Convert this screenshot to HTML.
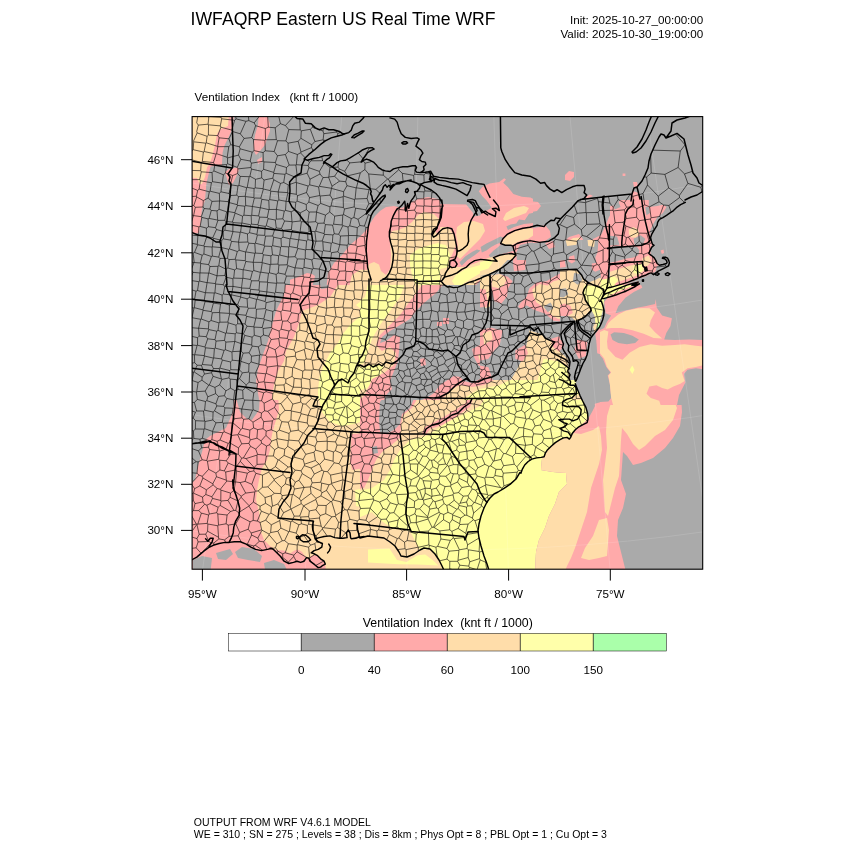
<!DOCTYPE html>
<html><head><meta charset="utf-8">
<style>
html,body{margin:0;padding:0;background:#fff;}
body{width:850px;height:850px;overflow:hidden;position:relative;}
svg{position:absolute;left:0;top:0;}
text{font-family:"Liberation Sans",sans-serif;fill:#000;}
</style></head><body>
<svg width="850" height="850" viewBox="0 0 850 850">
<rect width="850" height="850" fill="#fff"/>
<text id="t1" x="190.6" y="25.4" font-size="17.62">IWFAQRP Eastern US Real Time WRF</text>
<text id="t2" x="703.3" y="24.4" font-size="11.65" text-anchor="end">Init: 2025-10-27_00:00:00</text>
<text id="t3" x="703.3" y="37.7" font-size="11.65" text-anchor="end">Valid: 2025-10-30_19:00:00</text>
<text id="t4" x="194.6" y="100.7" font-size="11.63" xml:space="preserve">Ventilation Index   (knt ft / 1000)</text>
<!--MAP-->
<defs><clipPath id="mapclip"><rect x="192.1" y="116.6" width="510.6" height="452.6"/></clipPath>
<clipPath id="tc0"><rect x="190" y="115" width="170" height="170"/></clipPath>
<clipPath id="tc1"><rect x="290" y="115" width="170" height="170"/></clipPath>
<clipPath id="tc2"><rect x="440" y="115" width="170" height="170"/></clipPath>
<clipPath id="tc3"><rect x="533" y="115" width="170" height="170"/></clipPath>
<clipPath id="tc4"><rect x="190" y="285" width="170" height="170"/></clipPath>
<clipPath id="tc5"><rect x="360" y="285" width="173" height="170"/></clipPath>
<clipPath id="tc6"><rect x="533" y="285" width="170" height="170"/></clipPath>
<clipPath id="tc7"><rect x="190" y="400" width="170" height="170"/></clipPath>
<clipPath id="tc8"><rect x="360" y="400" width="173" height="170"/></clipPath>
<clipPath id="tc9"><rect x="533" y="400" width="170" height="170"/></clipPath>
<clipPath id="tc10"><rect x="480" y="260" width="120.001" height="120.001"/></clipPath>
<clipPath id="tc11"><rect x="560" y="240" width="100" height="100"/></clipPath>
<clipPath id="tc12"><rect x="610" y="200" width="93.2" height="100"/></clipPath>
<clipPath id="tc13"><rect x="600" y="285" width="104" height="120"/></clipPath>
</defs>
<g clip-path="url(#mapclip)">
<rect x="192.1" y="116.6" width="510.6" height="452.6" fill="#aaaaaa"/>
<g clip-path="url(#tc0)">
<rect x="190" y="115" width="170" height="170" fill="#aaaaaa"/>
<polygon fill="#ffaaaa" points="184.0,109.0 233.8,116.6 232.4,128.4 228.8,136.8 224.6,145.2 222.6,152.4 222.0,165.0 210.6,166.4 209.2,172.0 206.4,183.4 205.0,200.4 202.0,208.8 200.6,223.0 199.0,233.0 184.0,235.0"/>
<polygon fill="#ffddaa" points="184.0,109.0 229.4,109.0 228.0,126.0 220.0,129.4 217.0,134.0 215.0,145.0 212.0,157.0 210.0,163.0 207.0,167.4 205.0,177.0 202.0,184.0 199.6,184.0 197.0,178.0 184.0,177.4"/>
<polygon fill="#ffaaaa" points="225.0,172.0 229.0,169.0 238.0,167.4 239.0,170.0 236.0,177.0 233.0,183.0 229.0,185.0 227.0,179.0"/>
<polygon fill="#ffaaaa" points="259.0,109.0 265.0,109.0 270.0,124.0 270.0,131.0 267.0,139.0 265.0,145.0 260.0,151.0 256.0,155.0 254.0,151.0 253.6,145.0 255.0,135.0 258.0,125.0"/>
<polygon fill="#ffaaaa" points="257.0,160.0 262.0,157.0 262.0,162.0 258.0,164.0"/>
<polygon fill="#ffaaaa" points="366.0,236.6 350.0,245.0 342.0,255.0 334.0,263.0 328.0,273.0 326.0,291.0 366.0,291.0"/>
<polygon fill="#ffddaa" points="366.0,269.0 352.0,275.0 348.0,291.0 366.0,291.0"/>
<polygon fill="#ffaaaa" points="292.0,291.0 296.0,281.0 302.0,275.0 310.0,273.0 315.0,275.0 314.0,281.0 310.0,291.0"/>
</g>
<g clip-path="url(#tc1)">
<rect x="290" y="115" width="170" height="170" fill="#aaaaaa"/>
<polygon fill="#ffaaaa" points="284.0,282.0 298.0,277.0 307.0,273.0 312.0,274.0 315.0,276.0 314.0,281.0 310.0,291.0 284.0,291.0"/>
<polygon fill="#ffaaaa" points="326.0,291.0 328.0,273.0 334.0,263.0 342.0,255.0 350.0,245.0 360.0,236.6 367.0,229.0 371.0,222.0 375.0,216.0 380.0,211.0 386.0,207.0 394.0,206.0 402.0,208.0 410.0,203.0 418.0,199.0 428.0,197.0 438.0,199.0 443.0,204.0 450.0,206.0 466.0,205.0 466.0,291.0"/>
<polygon fill="#ffddaa" points="348.0,291.0 352.0,275.0 360.0,269.4 367.0,270.0 369.0,264.0 374.0,262.0 379.0,264.6 381.0,271.0 386.0,275.0 390.0,269.0 391.0,255.0 390.0,243.0 390.0,235.0 392.0,231.0 398.0,230.0 406.0,227.0 412.0,222.0 418.0,215.0 424.0,212.0 434.0,214.0 439.0,219.0 438.0,227.0 435.0,231.0 438.0,235.0 444.0,229.0 450.0,228.0 454.4,233.0 456.0,243.0 457.0,251.0 466.0,253.0 466.0,291.0"/>
<polygon fill="#ffffa0" points="410.0,255.0 418.0,249.0 430.0,245.0 438.0,243.0 444.0,245.0 448.0,253.0 450.0,259.0 448.0,267.0 442.0,273.0 446.0,279.0 450.0,291.0 418.0,291.0 412.0,275.0 410.0,265.0"/>
</g>
<g clip-path="url(#tc2)">
<rect x="440" y="115" width="170" height="170" fill="#aaaaaa"/>
<polygon fill="#ffaaaa" points="434.0,204.0 466.2,204.6 472.8,212.4 473.8,216.4 480.2,215.4 482.4,211.2 487.2,210.6 491.6,207.4 486.6,200.4 482.4,196.2 478.8,191.2 482.4,187.0 489.4,183.4 499.2,182.0 504.2,178.2 506.0,179.6 503.2,182.8 507.8,187.0 513.4,194.0 521.8,196.8 530.4,197.6 537.4,201.0 541.4,204.6 538.8,209.6 534.6,212.4 529.0,213.8 526.2,218.0 524.8,220.2 519.0,219.4 516.2,223.6 510.6,224.4 506.4,226.4 508.0,230.0 514.0,227.0 524.0,224.0 534.0,223.0 544.0,221.0 552.0,224.0 555.0,230.0 552.0,236.0 544.0,240.0 536.0,242.0 528.0,243.0 520.0,245.0 516.0,253.0 517.0,261.0 520.0,269.0 506.0,271.0 500.0,273.0 488.0,275.0 480.0,281.0 470.0,291.0 434.0,291.0"/>
<polygon fill="#aaaaaa" points="480.6,247.0 486.4,243.6 493.6,240.0 500.6,236.4 503.0,237.6 500.6,242.4 495.8,244.6 491.2,247.0 486.4,250.6 481.8,252.4"/>
<polygon fill="#aaaaaa" points="459.4,262.4 465.2,256.4 472.4,251.8 477.0,249.4 480.6,250.6 474.6,255.2 467.6,260.0 461.8,265.8"/>
<polygon fill="#aaaaaa" points="500.6,244.6 512.4,246.4 514.0,250.6 506.4,253.0 499.4,254.6 493.6,256.4 491.2,258.8 488.8,255.2 493.6,250.6 498.2,247.0"/>
<polygon fill="#ffddaa" points="457.0,227.0 464.0,222.0 474.0,221.0 483.0,224.0 485.0,231.0 480.0,239.0 474.0,245.0 466.0,253.0 460.0,259.0 456.0,255.0 458.0,245.0 456.0,235.0"/>
<polygon fill="#ffddaa" points="503.0,219.0 506.0,213.0 514.0,208.0 524.0,206.0 529.0,208.0 526.0,213.0 518.0,216.0 510.0,219.0 505.0,221.0"/>
<polygon fill="#ffddaa" points="501.0,243.0 506.0,236.0 516.0,231.0 528.0,228.0 536.0,229.0 534.0,235.0 528.0,239.0 520.0,241.0 512.0,245.0 504.0,245.0"/>
<polygon fill="#ffddaa" points="434.0,227.0 448.0,227.0 454.0,235.0 456.0,245.0 452.0,255.0 448.0,263.0 452.0,267.0 464.0,267.0 476.0,263.0 488.0,258.0 500.0,255.0 517.0,253.0 514.0,259.0 506.0,265.0 496.0,271.0 486.0,275.0 478.0,281.0 468.0,291.0 434.0,291.0"/>
<polygon fill="#ffffa0" points="456.0,275.0 466.0,269.0 480.0,265.0 492.0,261.0 500.0,259.0 494.0,265.0 484.0,271.0 474.0,277.0 464.0,283.0 458.0,291.0 452.0,281.0"/>
<polygon fill="#ffffa0" points="434.0,243.0 446.0,245.0 450.0,255.0 448.0,267.0 434.0,271.0"/>
<polygon fill="#ffaaaa" points="564.0,171.0 569.0,170.0 574.0,173.0 573.0,179.0 568.0,181.0 564.0,179.0"/>
</g>
<g clip-path="url(#tc3)">
<rect x="533" y="115" width="170" height="170" fill="#aaaaaa"/>
<polygon fill="#ffaaaa" points="565.0,175.0 569.0,171.0 574.0,172.0 574.0,177.0 570.0,181.0 565.0,180.0"/>
<polygon fill="#ffaaaa" points="622.6,173.4 625.4,173.4 625.4,176.0 622.6,176.0"/>
<polygon fill="#ffaaaa" points="633.0,182.0 637.0,182.0 638.0,186.0 634.0,187.0"/>
<polygon fill="#ffaaaa" points="527.0,201.0 538.0,202.0 541.0,206.0 537.0,211.0 527.0,213.0"/>
<polygon fill="#ffaaaa" points="585.4,197.0 590.0,194.6 593.0,196.0 588.0,198.6"/>
<polygon fill="#ffaaaa" points="527.0,229.0 539.0,227.0 545.0,225.0 550.0,231.0 551.0,237.0 545.0,241.0 537.0,243.0 527.0,243.0"/>
<polygon fill="#ffaaaa" points="633.0,191.0 639.0,193.0 641.0,203.0 645.0,211.0 653.0,209.0 661.0,205.0 667.0,204.0 671.0,207.0 665.0,215.0 659.0,221.0 653.0,227.0 651.0,235.0 652.0,245.0 653.0,253.0 656.0,261.0 661.0,267.0 653.0,273.0 645.0,275.0 637.0,279.0 623.0,283.0 613.0,291.0 589.0,291.0 593.0,275.0 601.0,271.0 607.0,263.0 599.0,259.0 595.0,251.0 591.0,245.0 593.0,239.0 601.0,235.0 604.0,229.0 609.0,217.0 613.0,211.0 619.0,213.0 625.0,209.0 629.0,203.0 631.0,195.0"/>
<polygon fill="#aaaaaa" points="610.0,243.0 621.0,242.0 622.0,249.0 637.0,248.0 639.0,259.0 627.0,262.0 613.0,263.0 610.0,255.0"/>
<polygon fill="#aaaaaa" points="611.0,215.0 619.0,217.0 621.0,227.0 613.0,233.0 609.0,227.0"/>
<polygon fill="#ffddaa" points="627.0,229.0 633.0,226.0 639.0,229.0 640.0,236.0 635.0,240.0 629.0,238.0"/>
<polygon fill="#ffddaa" points="613.0,269.0 623.0,266.0 637.0,264.0 645.0,265.0 644.0,273.0 633.0,278.0 621.0,281.0 611.0,284.0 599.0,291.0 593.0,291.0 597.0,277.0 605.0,273.0"/>
<polygon fill="#ffffa0" points="613.0,275.0 623.0,271.0 637.0,268.0 642.0,270.0 633.0,275.0 621.0,279.0 613.0,282.0 609.0,291.0 603.0,291.0 607.0,279.0"/>
<polygon fill="#ffaaaa" points="563.0,243.0 569.0,237.0 579.0,234.0 583.0,239.0 581.0,245.0 573.0,248.0 565.0,247.0"/>
<polygon fill="#ffddaa" points="568.0,242.0 573.0,238.0 580.0,237.4 580.0,243.0 573.0,246.0"/>
<polygon fill="#ffaaaa" points="545.0,243.0 553.0,241.0 555.0,247.0 549.0,249.0"/>
<polygon fill="#ffaaaa" points="563.0,263.0 573.0,255.0 576.0,261.0 575.0,271.0 579.0,275.0 577.0,291.0 553.0,291.0 555.0,275.0 561.0,269.0"/>
<polygon fill="#ffddaa" points="565.0,269.0 573.0,263.0 574.0,273.0 576.0,281.0 573.0,291.0 561.0,291.0 563.0,275.0"/>
<polygon fill="#ffaaaa" points="661.0,251.0 664.0,249.0 665.0,253.0 662.0,255.0"/>
</g>
<g clip-path="url(#tc4)">
<rect x="190" y="285" width="170" height="170" fill="#aaaaaa"/>
<polygon fill="#ffaaaa" points="286.0,279.0 284.0,295.0 276.0,311.0 272.0,325.0 268.0,341.0 262.0,357.0 258.0,369.0 256.0,381.0 258.0,393.0 260.0,405.0 256.0,413.0 250.0,417.0 242.0,413.0 237.0,412.0 235.0,421.0 228.0,429.0 220.0,433.0 210.0,437.0 205.0,443.0 208.0,451.0 210.0,461.0 366.0,461.0 366.0,279.0 330.0,279.0 328.0,288.0 321.0,289.0 319.0,279.0"/>
<polygon fill="#aaaaaa" points="246.0,415.0 251.0,413.0 254.0,419.0 252.0,425.0 248.0,423.0"/>
<polygon fill="#ffddaa" points="342.0,279.0 330.0,297.0 318.0,305.0 302.0,311.0 299.0,323.0 294.0,337.0 286.0,351.0 284.0,361.0 278.0,371.0 274.0,385.0 272.0,397.0 276.0,409.0 278.0,421.0 272.0,429.0 270.0,441.0 272.0,461.0 366.0,461.0 366.0,279.0"/>
<polygon fill="#ffffa0" points="366.0,311.0 350.0,325.0 342.0,335.0 338.0,343.0 330.0,353.0 324.0,365.0 320.0,375.0 318.0,389.0 318.0,397.0 320.0,405.0 324.0,415.0 330.0,423.0 340.0,425.0 350.0,423.0 356.0,415.0 366.0,405.0"/>
<polygon fill="#ffffa0" points="356.0,305.0 366.0,297.0 366.0,313.0"/>
<polygon fill="#ffaaaa" points="352.4,430.0 366.0,428.0 366.0,461.0 350.0,461.0"/>
</g>
<g clip-path="url(#tc5)">
<rect x="360" y="285" width="173" height="170" fill="#aaaaaa"/>
<polygon fill="#ffddaa" points="354.0,279.0 536.0,279.0 536.0,461.0 354.0,461.0"/>
<polygon fill="#ffffa0" points="369.0,279.0 407.0,279.0 400.0,297.0 390.0,311.0 380.0,325.0 372.0,339.0 368.0,351.0 364.0,363.0 354.0,367.0 354.0,305.0 365.0,297.0"/>
<polygon fill="#ffffa0" points="354.0,369.0 372.0,365.0 384.0,365.0 380.0,375.0 372.0,383.0 366.0,389.0 354.0,391.0"/>
<polygon fill="#ffffa0" points="536.0,373.0 520.0,377.0 508.0,381.0 500.0,385.0 490.0,387.0 480.0,389.0 472.0,393.0 464.0,399.0 456.0,405.0 448.0,409.0 440.0,413.0 434.0,417.0 426.0,421.0 420.0,425.0 416.0,433.0 412.0,443.0 410.0,461.0 536.0,461.0"/>
<polygon fill="#ffaaaa" points="426.0,279.0 418.0,291.0 410.0,301.0 400.0,315.0 390.0,325.0 380.0,335.0 376.0,345.0 382.0,351.0 390.0,347.0 396.0,353.0 394.0,365.0 384.0,373.0 372.0,379.0 368.0,389.0 363.0,397.0 354.0,403.0 354.0,445.0 366.0,461.0 380.0,461.0 390.0,445.0 400.0,433.0 406.0,423.0 412.0,413.0 424.0,407.0 436.0,403.0 444.0,397.0 452.0,389.0 460.0,385.0 472.0,387.0 484.0,385.0 496.0,379.0 504.0,373.0 512.0,365.0 520.0,355.0 536.0,345.0 536.0,279.0"/>
<polygon fill="#aaaaaa" points="448.0,279.0 436.0,293.0 424.0,303.0 416.0,311.0 410.0,319.0 400.0,325.0 390.0,331.0 382.0,337.0 380.0,343.0 386.0,341.0 394.0,335.0 400.0,337.0 399.0,351.0 398.0,361.0 394.0,371.0 390.0,381.0 392.0,389.0 386.0,395.0 382.0,405.0 380.0,415.0 378.0,425.0 382.0,433.0 376.0,441.0 372.0,451.0 378.0,453.0 386.0,443.0 396.0,433.0 400.0,425.0 402.0,415.0 408.0,405.0 420.0,401.0 428.0,397.0 434.0,393.0 440.0,385.0 446.0,381.0 454.0,376.0 460.0,377.0 464.0,381.0 472.0,383.0 480.0,379.0 490.0,373.0 498.0,371.0 504.0,361.0 512.0,349.0 520.0,343.0 526.0,337.0 536.0,331.0 536.0,279.0"/>
<polygon fill="#ffaaaa" points="472.0,349.0 480.0,345.0 488.0,351.0 490.0,361.0 484.0,369.0 478.0,365.0 474.0,357.0"/>
<polygon fill="#ffddaa" points="478.0,355.0 484.0,353.0 486.0,361.0 481.0,364.0"/>
<polygon fill="#ffaaaa" points="443.0,318.0 449.0,318.0 449.0,324.0 443.0,324.0"/>
<polygon fill="#ffaaaa" points="437.0,322.0 442.0,322.0 442.0,326.0 437.0,326.0"/>
<polygon fill="#ffaaaa" points="420.0,359.0 425.0,358.0 426.0,365.0 421.0,366.0"/>
<polygon fill="#ffaaaa" points="498.0,297.0 508.0,293.0 518.0,299.0 536.0,297.0 536.0,311.0 520.0,309.0 512.0,305.0 504.0,307.0"/>
<polygon fill="#ffaaaa" points="424.0,429.0 432.0,425.0 446.0,419.0 458.0,413.0 470.0,403.0 475.0,405.0 464.0,413.0 450.0,421.0 436.0,428.0 426.0,434.0"/>
</g>
<g clip-path="url(#tc6)">
<rect x="533" y="285" width="170" height="170" fill="#aaaaaa"/>
<polygon fill="#ffffa0" points="527.0,279.0 584.0,279.0 583.0,295.0 585.0,303.0 593.0,297.0 601.0,297.0 603.4,307.0 601.4,315.0 598.0,323.0 591.0,332.0 589.0,345.0 586.0,357.0 580.0,369.0 575.6,380.0 576.0,385.0 579.4,394.0 584.0,407.0 587.4,419.0 584.0,424.0 574.0,432.0 563.0,438.0 553.0,447.0 545.0,461.0 527.0,461.0"/>
<polygon fill="#ffddaa" points="527.0,279.0 584.0,279.0 583.0,295.0 573.0,303.0 563.0,305.0 553.0,301.0 543.0,305.0 527.0,303.0"/>
<polygon fill="#aaaaaa" points="527.0,313.0 545.0,315.0 557.0,319.0 573.0,317.0 583.0,311.0 593.0,307.0 599.0,309.0 597.0,323.0 592.0,332.0 589.0,345.0 578.0,349.0 576.0,337.0 567.0,333.0 553.0,331.0 543.0,328.0 527.0,330.0"/>
<polygon fill="#ffaaaa" points="527.0,305.0 545.0,307.0 557.0,311.0 573.0,309.0 581.0,305.0 583.0,311.0 573.0,317.0 557.0,319.0 545.0,315.0 527.0,313.0"/>
<polygon fill="#ffddaa" points="579.4,394.0 584.0,407.0 587.4,419.0 584.0,424.0 574.0,432.0 567.0,434.0 569.0,425.0 573.0,415.0 571.0,405.0 573.0,397.0"/>
<polygon fill="#ffaaaa" points="602.0,305.0 609.0,303.0 617.0,299.0 623.0,297.0 629.0,309.0 637.0,307.0 645.0,305.0 653.0,304.0 655.4,300.0 656.6,305.0 663.0,311.0 671.0,317.0 673.0,323.0 669.0,331.0 665.0,337.0 673.0,339.0 685.0,341.0 709.0,340.0 709.0,371.0 693.0,369.0 685.0,373.0 681.0,379.0 683.0,385.0 679.0,393.0 681.0,405.0 682.0,415.0 679.0,423.0 681.0,429.0 673.0,437.0 671.0,445.0 673.0,461.0 545.0,461.0 553.0,447.0 563.0,438.0 574.0,432.0 584.0,424.0 587.0,425.0 593.0,421.0 599.0,413.0 595.0,405.0 601.0,403.0 613.0,405.0 611.0,393.0 609.0,379.0 605.0,365.0 599.0,351.0 597.0,337.0 601.0,325.0 605.0,315.0"/>
<polygon fill="#ffaaaa" points="603.0,297.0 613.0,293.0 623.0,289.0 627.0,293.0 623.0,299.0 613.0,304.0 603.0,305.0"/>
<polygon fill="#ffddaa" points="604.0,330.0 609.0,325.0 619.0,315.0 629.0,309.0 641.0,308.0 652.0,310.0 650.0,323.0 657.0,331.0 664.0,337.4 673.0,342.0 685.0,344.0 709.0,345.0 709.0,363.0 693.0,365.0 683.0,369.0 679.0,375.0 677.0,381.0 671.0,385.0 661.0,387.0 653.0,387.0 648.0,391.0 651.0,399.0 657.0,405.0 663.0,413.0 671.0,421.0 673.0,429.0 667.0,435.0 661.0,443.0 653.0,445.0 645.0,443.0 637.0,447.0 633.0,443.0 627.0,435.0 623.0,429.0 621.0,437.0 623.0,447.0 625.0,461.0 609.0,461.0 607.0,445.0 605.0,433.0 603.0,421.0 609.0,413.0 613.0,405.0 611.0,393.0 609.0,379.0 605.0,365.0 600.0,351.0 598.0,339.0"/>
<polygon fill="#ffaaaa" points="609.0,333.0 619.0,330.0 631.0,333.0 641.0,338.0 637.0,343.0 627.0,347.0 621.0,353.0 617.0,359.0 613.0,353.0 610.0,343.0"/>
<polygon fill="#aaaaaa" points="611.0,335.0 619.0,332.0 629.0,335.0 638.0,339.0 633.0,344.0 623.0,345.0 615.0,342.0"/>
<polygon fill="#ffaaaa" points="647.0,389.0 657.0,385.0 669.0,385.0 677.0,393.0 680.0,405.0 681.0,415.0 673.0,425.0 665.0,421.0 657.0,413.0 651.0,405.0 645.0,397.0"/>
<polygon fill="#ffddaa" points="553.0,447.0 563.0,438.0 574.0,432.0 584.0,424.0 587.0,425.0 593.0,423.0 597.0,429.0 599.0,441.0 601.0,461.0 545.0,461.0"/>
</g>
<g clip-path="url(#tc7)">
<rect x="190" y="400" width="170" height="170" fill="#aaaaaa"/>
<polygon fill="#ffaaaa" points="184.0,394.0 366.0,394.0 366.0,576.0 184.0,576.0"/>
<polygon fill="#aaaaaa" points="184.0,394.0 235.0,394.0 233.0,412.0 226.0,428.0 210.0,436.0 205.0,440.0 202.0,452.0 198.0,466.0 195.0,480.0 184.0,488.0"/>
<polygon fill="#aaaaaa" points="235.0,394.0 260.0,394.0 259.0,410.0 252.0,420.0 247.0,419.0 240.0,412.0"/>
<polygon fill="#ffddaa" points="278.0,394.0 279.0,410.0 276.0,420.0 273.0,430.0 271.0,440.0 270.0,450.0 267.0,460.0 262.0,468.0 259.0,480.0 257.0,490.0 256.0,500.0 259.0,512.0 260.0,522.0 261.0,532.0 264.0,540.0 270.0,546.0 276.0,550.0 284.0,550.6 290.0,553.6 294.6,550.6 297.6,549.4 301.8,551.8 305.2,556.4 308.8,558.2 312.4,555.2 317.0,555.2 321.8,560.0 325.2,564.0 326.4,576.0 366.0,576.0 366.0,394.0"/>
<polygon fill="#ffffa0" points="318.0,394.0 322.0,412.0 330.0,422.0 342.0,426.0 354.0,424.0 366.0,420.0 366.0,394.0"/>
<polygon fill="#ffaaaa" points="351.6,434.0 366.0,433.0 366.0,468.0 352.0,470.0 350.0,460.0 351.0,446.0"/>
<polygon fill="#ffffa0" points="355.0,490.0 366.0,488.0 366.0,508.0 356.0,506.0"/>
<polygon fill="#aaaaaa" points="193.0,560.0 202.0,556.0 212.0,558.0 210.0,576.0 193.0,576.0"/>
<polygon fill="#aaaaaa" points="216.0,553.0 230.0,549.0 233.0,554.0 226.0,560.0 218.0,559.0"/>
<polygon fill="#aaaaaa" points="235.0,552.0 242.0,547.0 254.0,549.0 262.0,556.0 260.0,562.0 248.0,560.0 238.0,558.0"/>
<polygon fill="#aaaaaa" points="264.0,563.0 274.0,560.0 284.0,564.0 290.0,576.0 266.0,576.0"/>
</g>
<g clip-path="url(#tc8)">
<rect x="360" y="400" width="173" height="170" fill="#aaaaaa"/>
<polygon fill="#ffffa0" points="354.0,394.0 536.0,394.0 536.0,576.0 354.0,576.0"/>
<polygon fill="#ffddaa" points="354.0,394.0 488.0,394.0 480.0,406.0 464.0,414.0 448.0,422.0 436.0,430.0 426.0,436.0 410.0,440.0 400.0,450.0 394.0,460.0 390.0,470.0 384.0,480.0 372.0,488.0 354.0,492.0"/>
<polygon fill="#ffaaaa" points="354.0,394.0 420.0,394.0 412.0,408.0 403.0,415.0 401.0,425.0 400.0,438.0 390.0,446.0 382.0,452.0 376.0,460.0 372.0,470.0 368.0,480.0 364.0,488.0 354.0,490.0"/>
<polygon fill="#aaaaaa" points="380.0,402.0 386.0,394.0 416.0,394.0 410.0,408.0 402.0,414.0 400.0,424.0 394.0,430.0 386.0,434.0 380.0,432.0 379.0,420.0"/>
<polygon fill="#aaaaaa" points="372.0,447.0 377.0,446.0 378.0,453.0 373.0,454.0"/>
<polygon fill="#ffaaaa" points="422.0,434.0 425.0,427.0 440.0,419.0 452.0,412.0 466.0,403.0 469.0,394.0 475.0,394.0 470.0,407.0 454.0,418.0 442.0,425.0 430.0,429.0 426.0,434.4"/>
<polygon fill="#ffddaa" points="354.0,520.0 372.0,512.0 380.0,520.0 392.0,528.0 410.0,531.0 420.0,550.0 430.0,549.0 439.0,560.0 444.0,576.0 354.0,576.0"/>
<polygon fill="#ffffa0" points="368.0,549.6 389.4,548.6 397.0,560.0 406.4,562.0 417.6,555.2 425.2,554.4 432.6,560.0 438.4,565.6 417.6,564.6 398.8,564.2 368.0,562.4"/>
</g>
<g clip-path="url(#tc9)">
<rect x="533" y="400" width="170" height="170" fill="#aaaaaa"/>
<polygon fill="#ffffa0" points="527.0,394.0 581.0,394.0 586.0,408.0 587.4,416.0 586.0,421.0 576.0,429.0 570.0,438.0 561.0,439.0 550.0,448.0 543.0,457.0 542.0,458.4 541.0,470.0 553.0,472.0 566.0,473.0 567.0,484.0 559.0,492.0 555.0,504.0 549.0,516.0 545.0,528.0 539.0,540.0 536.0,552.0 535.0,576.0 527.0,576.0"/>
<polygon fill="#ffaaaa" points="594.0,404.0 601.0,402.0 613.0,394.0 681.0,394.0 682.0,412.0 680.0,426.0 673.0,438.0 665.0,448.0 653.0,458.0 641.0,463.0 633.0,465.0 627.0,456.0 623.0,452.0 622.0,466.0 621.0,480.0 626.0,494.0 623.0,508.0 618.0,520.0 617.0,536.0 621.0,552.0 627.0,576.0 535.0,576.0 536.0,552.0 539.0,540.0 545.0,528.0 549.0,516.0 555.0,504.0 559.0,492.0 567.0,484.0 566.0,473.0 553.0,472.0 541.0,470.0 542.0,458.4 543.0,457.0 550.0,448.0 561.0,439.0 570.0,438.0 576.0,429.0 586.0,421.0 591.0,410.0"/>
<polygon fill="#ffddaa" points="535.0,576.0 536.0,552.0 539.0,540.0 545.0,528.0 549.0,516.0 555.0,504.0 559.0,492.0 567.0,484.0 566.0,473.0 553.0,472.0 541.0,470.0 542.0,458.4 543.0,457.0 550.0,448.0 561.0,439.0 570.0,438.0 574.0,433.0 581.0,434.0 593.0,430.0 599.0,426.0 601.0,436.0 602.0,450.0 599.0,464.0 595.0,476.0 591.0,488.0 589.0,500.0 587.0,512.0 583.0,524.0 579.0,536.0 575.0,548.0 571.0,558.0 567.0,566.0 563.0,576.0"/>
<polygon fill="#ffddaa" points="615.0,394.0 671.0,394.0 677.0,408.0 673.0,420.0 665.0,430.0 655.0,436.0 645.0,446.0 639.0,450.0 633.0,444.0 627.0,434.0 622.0,428.0 621.0,440.0 620.0,460.0 619.0,476.0 615.0,488.0 611.0,504.0 608.0,516.0 605.0,512.0 604.0,496.0 603.0,480.0 605.0,464.0 607.0,448.0 606.0,432.0 607.0,416.0 610.0,406.0"/>
<polygon fill="#ffddaa" points="599.0,520.0 607.0,518.0 609.0,530.0 608.0,544.0 607.0,556.0 599.0,558.0 589.0,560.0 581.0,558.0 585.0,548.0 593.0,536.0"/>
<polygon fill="#aaaaaa" points="583.0,394.0 593.0,394.0 595.0,406.0 592.0,412.0 588.0,419.0 587.4,412.0"/>
</g>
<g clip-path="url(#tc10)">
<rect x="480" y="260" width="120.001" height="120.001" fill="#aaaaaa"/>
<polygon fill="#ffddaa" points="475.8,255.8 511.1,255.8 499.8,268.5 488.5,274.1 475.8,276.9"/>
<polygon fill="#ffffa0" points="475.8,264.2 496.9,255.8 488.5,268.5 475.8,272.7"/>
<polygon fill="#ffddaa" points="475.8,276.9 489.9,275.5 490.6,306.6 485.6,308.0 475.8,302.4"/>
<polygon fill="#ffaaaa" points="475.8,288.2 485.6,289.6 488.5,306.6 475.8,308.0"/>
<polygon fill="#ffaaaa" points="512.5,255.8 526.6,255.8 525.2,269.9 513.9,271.3"/>
<polygon fill="#ffaaaa" points="559.1,255.8 578.8,255.8 578.8,268.5 564.7,269.9"/>
<polygon fill="#ffddaa" points="564.7,255.8 576.0,255.8 576.0,266.4 567.5,267.1"/>
<polygon fill="#ffaaaa" points="491.3,275.5 499.8,274.1 508.2,276.9 512.5,281.2 508.2,288.2 506.8,296.7 501.2,303.8 494.1,300.9 491.3,288.2"/>
<polygon fill="#ffddaa" points="491.3,275.5 499.8,274.1 506.8,278.4 504.0,285.4 498.4,288.2 492.0,286.8"/>
<polygon fill="#ffaaaa" points="526.6,296.7 529.4,288.2 536.5,282.6 546.4,281.2 553.4,276.9 559.1,274.1 564.7,269.9 577.4,269.2 588.7,282.6 591.5,309.4 584.5,316.5 577.4,320.7 564.7,322.1 553.4,320.7 544.9,313.6 536.5,310.8 530.8,308.0 526.6,305.2 520.9,309.4 518.1,306.6 520.9,302.4"/>
<polygon fill="#ffddaa" points="532.2,289.6 539.3,284.0 547.8,285.4 553.4,281.2 559.1,279.8 564.7,274.1 570.4,271.3 577.4,270.6 583.1,278.4 587.3,284.0 583.8,288.2 583.8,296.7 590.1,309.4 584.5,315.1 577.4,319.3 570.4,316.5 564.7,313.6 559.1,319.3 553.4,316.5 549.2,312.2 544.9,309.4 540.7,305.2 536.5,302.4 533.6,296.7"/>
<polygon fill="#aaaaaa" points="543.5,306.6 550.6,302.4 553.4,308.0 547.8,312.2"/>
<polygon fill="#aaaaaa" points="559.1,285.4 566.1,282.6 570.4,288.2 563.3,291.1"/>
<polygon fill="#ffffa0" points="577.4,288.2 583.1,296.7 588.7,308.0 584.5,313.6 578.8,306.6 576.0,296.7"/>
<polygon fill="#ffffa0" points="588.7,282.6 604.2,286.8 604.2,319.3 592.9,319.3 591.5,309.4 584.5,288.2"/>
<polygon fill="#aaaaaa" points="578.8,320.7 590.1,310.8 592.9,319.3 594.4,330.6 590.1,336.2 584.5,327.8"/>
<polygon fill="#ffddaa" points="529.4,330.6 539.3,333.4 550.6,340.5 559.1,350.4 567.5,358.8 570.4,384.2 508.2,384.2 516.7,370.1 522.4,358.8 526.6,344.7"/>
<polygon fill="#ffffa0" points="543.5,358.8 559.1,361.6 567.5,367.3 568.9,384.2 536.5,384.2"/>
<polygon fill="#ffaaaa" points="475.8,330.6 491.3,327.8 502.6,330.6 499.8,344.7 494.1,350.4 488.5,358.8 475.8,361.6"/>
<polygon fill="#ffddaa" points="482.8,333.4 491.3,330.6 492.7,339.1 484.2,344.7"/>
<polygon fill="#ffaaaa" points="475.8,364.5 488.5,367.3 494.1,384.2 475.8,384.2"/>
<polygon fill="#ffaaaa" points="515.3,350.4 525.2,344.7 528.0,353.2 522.4,361.6 515.3,358.8"/>
<polygon fill="#ffaaaa" points="577.4,339.1 587.3,341.9 585.9,356.0 578.8,358.8 574.6,350.4"/>
<polygon fill="#ffaaaa" points="550.6,339.1 559.1,336.2 564.7,344.7 559.1,351.8 553.4,347.5"/>
<polygon fill="#ffaaaa" points="595.8,333.4 604.2,330.6 604.2,356.0 597.2,353.2"/>
</g>
<g clip-path="url(#tc11)">
<rect x="560" y="240" width="100" height="100" fill="#aaaaaa"/>
<polygon fill="#ffaaaa" points="598.8,236.5 609.4,236.5 609.4,263.5 608.8,278.8 604.7,281.2 601.2,278.8 600.0,269.4 596.5,263.5 595.3,257.6 597.6,251.8"/>
<polygon fill="#ffaaaa" points="641.2,250.6 647.1,243.5 650.6,242.4 651.8,251.8 655.3,260.0 657.6,265.3 652.9,269.4 647.1,270.6 642.4,272.9 637.6,274.1 630.6,276.5 625.9,277.6 621.2,278.8 618.8,275.3 623.5,271.8 630.6,268.2 636.5,263.5 642.4,262.4 644.7,256.5"/>
<polygon fill="#ffaaaa" points="569.4,256.5 574.1,255.3 575.3,261.2 571.8,263.5 568.2,261.2"/>
<polygon fill="#ffaaaa" points="556.5,261.2 564.7,260.0 565.9,267.1 556.5,268.2"/>
<polygon fill="#ffaaaa" points="591.8,263.5 598.8,262.4 600.6,269.4 595.3,271.8 591.8,269.4"/>
<polygon fill="#ffddaa" points="564.7,236.5 577.6,236.5 576.5,244.7 567.1,245.9"/>
<polygon fill="#ffddaa" points="587.1,236.5 595.3,236.5 594.1,247.1 588.2,245.9"/>
<polygon fill="#ffaaaa" points="604.7,298.8 611.8,296.5 621.2,293.5 630.6,289.4 640.0,284.7 644.7,280.0 649.4,276.5 652.9,274.1 650.6,277.6 644.7,283.5 637.6,289.4 630.6,292.9 625.9,295.3 623.5,298.8 618.8,303.5 614.1,308.2 609.4,310.6 607.1,315.3 604.7,316.5 604.1,310.6 603.5,303.5"/>
<polygon fill="#ffaaaa" points="616.5,317.6 623.5,310.6 630.6,307.6 640.0,304.7 649.4,304.7 655.3,302.4 663.5,301.2 663.5,343.5 644.7,343.5 641.2,334.7 630.6,333.5 618.8,333.5 612.9,343.5 596.5,343.5 595.3,334.1 598.8,329.4 604.7,327.1 608.2,322.4"/>
<polygon fill="#ffddaa" points="619.4,316.5 624.1,311.8 630.6,309.4 640.0,307.1 648.2,307.6 652.9,310.6 651.2,315.3 650.0,321.2 652.9,327.1 656.5,332.9 651.8,334.1 642.4,330.6 632.9,329.4 623.5,328.2 616.5,327.6 610.6,326.5 609.4,322.4 612.9,321.2 617.6,318.8"/>
<polygon fill="#ffddaa" points="556.5,270.6 576.5,269.4 583.5,278.8 588.2,282.4 595.3,280.0 600.0,277.6 604.7,281.2 607.1,278.8 611.8,276.5 618.8,275.3 621.2,278.8 616.5,282.4 611.8,285.3 607.1,287.6 603.5,289.4 603.8,292.9 601.2,299.4 602.9,305.9 604.1,310.6 602.6,320.0 599.4,327.1 594.7,332.9 592.9,327.1 595.3,322.4 594.1,315.3 591.2,310.6 585.3,316.5 577.6,322.4 571.8,317.6 565.9,315.3 556.5,316.5"/>
<polygon fill="#aaaaaa" points="574.1,272.9 580.0,274.1 582.4,280.0 577.6,284.7 572.9,281.2"/>
<polygon fill="#aaaaaa" points="556.5,289.4 565.9,288.2 568.2,294.1 563.5,297.6 556.5,296.5"/>
<polygon fill="#ffaaaa" points="556.5,305.9 564.7,303.5 570.6,305.9 572.9,312.9 567.1,316.5 556.5,315.3"/>
<polygon fill="#ffffa0" points="584.7,284.7 598.8,287.1 603.5,290.6 602.9,296.5 600.6,300.0 602.4,305.9 603.5,312.9 601.2,322.4 597.6,327.1 595.3,322.4 595.3,316.5 591.8,310.6 587.1,303.5 583.5,295.3 582.9,290.6"/>
<polygon fill="#ffffa0" points="601.2,280.0 611.8,277.6 618.8,276.5 621.2,280.0 615.3,282.9 609.4,286.5 606.5,288.2 604.1,288.8 600.6,287.1"/>
<polygon fill="#ffffa0" points="607.1,295.3 616.5,291.8 625.9,288.2 630.6,289.4 621.2,292.9 611.8,296.2 607.1,297.6"/>
<polygon fill="#aaaaaa" points="577.6,322.4 585.3,316.5 591.2,310.6 594.1,315.3 595.3,322.4 592.9,327.1 594.7,332.9 590.6,338.2 581.2,334.1 577.6,327.1"/>
<polygon fill="#aaffaa" points="602.1,306.5 603.3,310.6 603.1,315.3 601.9,320.0 600.5,323.3 598.8,326.6 597.2,328.9 596.0,328.2 597.9,325.6 599.3,322.8 600.7,319.5 601.6,315.3 601.8,310.6 600.7,306.8"/>
<polygon fill="#ffddaa" points="625.9,263.5 636.5,262.9 642.4,262.4 644.1,267.1 641.2,271.8 635.3,274.1 628.2,276.5 623.5,275.3 625.9,269.4"/>
<polygon fill="#ffffa0" points="630.6,265.3 637.1,264.1 641.2,265.3 640.0,270.6 634.1,272.9 629.4,273.5"/>
</g>
<g clip-path="url(#tc12)">
<rect x="610" y="200" width="93.2" height="100" fill="#aaaaaa"/>
<polygon fill="#ffaaaa" points="606.5,207.1 615.9,204.7 624.1,196.5 648.8,196.5 648.8,207.1 657.1,205.9 662.9,204.7 666.5,207.1 662.9,212.9 657.1,217.6 653.5,223.5 650.0,230.6 650.6,237.6 652.4,244.1 650.0,250.6 651.2,255.3 655.9,260.6 659.4,265.3 657.1,265.9 655.3,271.8 650.0,274.1 645.3,276.5 638.2,278.8 627.6,283.5 619.4,286.5 606.5,289.4 606.5,263.5 617.1,261.2 625.3,258.8 633.5,257.6 638.2,255.3 639.4,250.6 637.1,247.1 627.6,246.5 621.8,247.1 617.1,245.9 606.5,247.1"/>
<polygon fill="#aaaaaa" points="612.4,202.4 618.2,201.2 620.6,207.1 614.7,209.4"/>
<polygon fill="#aaaaaa" points="645.3,207.1 648.8,207.1 650.0,212.9 646.5,215.3"/>
<polygon fill="#aaaaaa" points="633.5,238.8 640.6,235.3 645.3,238.8 642.9,244.7 634.7,245.3"/>
<polygon fill="#aaaaaa" points="606.5,235.3 617.1,236.5 619.4,244.7 606.5,245.9"/>
<polygon fill="#ffddaa" points="628.8,229.4 633.5,227.1 638.2,229.4 639.4,234.1 635.9,237.6 631.2,237.6 628.8,234.1"/>
<polygon fill="#ffddaa" points="641.8,258.8 648.8,255.3 651.2,261.2 647.6,265.9 644.1,265.9"/>
<polygon fill="#ffddaa" points="606.5,272.9 617.1,269.4 625.3,267.1 633.5,264.7 642.9,263.5 645.3,269.4 638.2,275.3 627.6,278.8 617.1,282.4 606.5,284.7"/>
<polygon fill="#ffffa0" points="606.5,277.6 614.7,276.5 618.2,280.0 614.7,284.7 606.5,287.1"/>
<polygon fill="#ffffa0" points="633.5,265.9 641.8,264.1 642.9,270.6 638.2,274.1 633.5,272.9"/>
<polygon fill="#ffaaaa" points="660.6,250.6 663.5,249.4 664.1,252.9 661.8,254.1"/>
<polygon fill="#ffaaaa" points="606.5,289.4 638.2,281.2 639.4,284.7 627.6,292.9 621.8,297.6 606.5,303.5"/>
<polygon fill="#ffffa0" points="606.5,292.9 621.8,288.2 633.5,284.1 637.1,284.1 627.6,290.0 615.9,295.3 606.5,297.6"/>
</g>
<g clip-path="url(#tc13)">
<rect x="600" y="285" width="104" height="120" fill="#aaaaaa"/>
<polygon fill="#ffaaaa" points="604.2,301.9 609.8,294.9 618.3,290.6 629.6,286.4 639.5,280.8 642.3,287.8 633.8,292.1 625.4,297.7 618.3,306.2 615.5,313.2 623.9,311.1 638.1,307.6 645.1,306.2 655.0,304.1 655.7,299.1 656.7,307.6 662.1,315.4 671.9,318.2 670.5,325.9 666.3,333.0 664.2,339.4 674.8,340.1 688.9,339.4 707.2,340.1 707.2,369.7 695.9,368.3 687.5,369.7 683.9,373.9 685.4,382.4 679.0,395.1 676.2,409.2 594.3,409.2 597.1,402.2 608.4,401.5 611.2,397.9 609.8,383.8 607.7,375.4 610.5,372.5 606.3,366.9 602.8,358.4 596.4,351.4 595.7,341.5 596.4,331.6 604.2,328.1 607.0,321.7 611.2,315.4 605.6,313.2"/>
<polygon fill="#ffffa0" points="597.1,280.8 639.5,280.8 629.6,287.1 618.3,291.4 609.8,295.6 604.2,299.1 602.8,310.4 600.6,318.9 597.1,321.7"/>
<polygon fill="#ffddaa" points="611.2,320.3 618.3,314.6 625.4,311.1 638.1,308.3 649.4,308.3 655.0,312.5 650.8,320.3 649.4,325.9 655.0,332.3 662.1,338.6 653.6,337.9 643.7,333.7 632.4,330.2 621.1,328.1 611.2,328.1 605.6,328.8 608.4,323.1"/>
<polygon fill="#ffddaa" points="597.1,341.5 597.8,333.0 604.2,329.9 608.4,331.6 607.0,341.5 607.7,348.5 615.5,357.0 622.5,359.8 629.6,352.8 639.5,347.1 650.8,344.3 662.1,345.7 674.8,345.0 684.6,344.3 695.9,345.7 707.2,347.1 707.2,364.1 695.9,366.9 687.5,368.3 681.8,372.5 684.6,381.0 680.4,383.8 673.4,386.6 667.7,389.5 662.1,388.1 656.4,385.2 649.4,386.6 646.5,393.7 650.8,397.9 659.2,400.8 662.1,409.2 614.1,409.2 611.2,397.9 609.8,383.8 608.4,375.4 611.2,372.5 607.0,366.9 604.2,358.4 598.5,351.4"/>
<polygon fill="#aaaaaa" points="610.5,334.4 614.1,332.3 623.9,333.0 632.4,335.8 638.8,339.4 635.2,342.9 626.8,344.3 618.3,342.9 612.6,340.1"/>
<polygon fill="#ffffa0" points="629.6,369.7 632.4,365.5 634.5,369.7 632.4,373.9"/>
</g>
<path d="M81.9 654.7 90.9 608.4 99.8 562.5 108.7 516.9 117.6 471.5 126.4 426.4 135.1 381.5 143.9 336.6 152.6 291.8 161.4 247.0 170.1 202.2 178.9 157.2 187.7 112.1 196.5 66.7 205.4 21.0M188.5 672.4 195.0 625.7 201.3 579.3 207.6 533.3 213.9 487.5 220.2 442.0 226.4 396.6 232.6 351.3 238.8 306.1 245.0 260.9 251.3 215.6 257.5 170.2 263.7 124.7 270.0 78.9 276.4 32.8M296.0 684.1 299.8 637.1 303.6 590.4 307.3 544.1 311.0 498.1 314.7 452.3 318.4 406.6 322.0 361.1 325.7 315.6 329.4 270.1 333.0 224.5 336.7 178.9 340.4 133.0 344.1 86.9 347.8 40.6M404.0 689.7 405.2 642.6 406.3 595.8 407.4 549.4 408.5 503.2 409.6 457.2 410.8 411.4 411.9 365.8 413.0 320.1 414.1 274.5 415.2 228.8 416.3 183.0 417.4 137.0 418.5 90.8 419.6 44.3M512.2 689.3 510.7 642.2 509.2 595.4 507.7 549.0 506.2 502.8 504.7 456.9 503.3 411.1 501.8 365.4 500.3 319.8 498.9 274.2 497.4 228.5 496.0 182.7 494.5 136.7 493.0 90.5 491.5 44.0M620.1 682.8 616.0 635.8 611.8 589.2 607.8 543.0 603.7 496.9 599.6 451.2 595.6 405.5 591.6 360.0 587.6 314.5 583.5 269.1 579.5 223.6 575.5 177.9 571.4 132.1 567.4 86.1 563.3 39.7M727.5 670.2 720.7 623.6 714.0 577.3 707.3 531.3 700.7 485.6 694.1 440.1 687.5 394.8 680.9 349.6 674.4 304.4 667.8 259.2 661.2 214.0 654.6 168.7 648.0 123.2 641.4 77.4 634.7 31.4M834.1 651.7 824.7 605.5 815.3 559.7 806.1 514.1 796.9 468.9 787.7 423.8 778.6 378.9 769.5 334.1 760.4 289.4 751.4 244.7 742.3 199.9 733.1 155.0 724.0 109.9 714.8 64.6 705.5 19.0M939.4 627.2 927.4 581.6 915.5 536.4 903.7 491.4 892.0 446.7 880.4 402.3 868.7 358.0 857.1 313.8 845.5 269.6 834.0 225.5 822.4 181.3 810.7 137.0 799.1 92.5 787.3 47.8 775.5 2.8M44.5 622.8 86.4 631.5 128.4 639.2 170.6 645.9 212.9 651.7 255.4 656.6 297.9 660.5 340.6 663.5 383.2 665.5 426.0 666.5 468.7 666.6 511.4 665.7 554.1 663.8 596.7 661.0 639.3 657.3 681.8 652.5 724.1 646.9 766.3 640.2 808.4 632.7 850.3 624.2 891.9 614.7 933.4 604.3M69.5 508.7 108.7 516.9 148.2 524.1 187.8 530.4 227.5 535.9 267.4 540.5 307.3 544.1 347.3 546.9 387.4 548.8 427.5 549.7 467.6 549.8 507.7 549.0 547.7 547.2 587.8 544.6 627.7 541.1 667.6 536.6 707.3 531.3 747.0 525.1 786.4 518.0 825.7 510.0 864.8 501.2 903.7 491.4M94.0 396.3 130.8 403.9 167.7 410.7 204.7 416.6 241.9 421.7 279.2 426.0 316.5 429.4 354.0 432.0 391.4 433.8 429.0 434.7 466.5 434.7 504.0 434.0 541.5 432.3 578.9 429.9 616.3 426.6 653.6 422.4 690.8 417.4 727.8 411.6 764.8 405.0 801.5 397.5 838.1 389.2 874.5 380.1M118.4 284.7 152.6 291.8 187.0 298.1 221.5 303.6 256.2 308.4 290.9 312.4 325.7 315.6 360.6 318.0 395.5 319.6 430.4 320.4 465.4 320.5 500.3 319.8 535.3 318.3 570.1 316.0 605.0 312.9 639.7 309.0 674.4 304.4 708.9 299.0 743.3 292.8 777.5 285.8 811.6 278.1 845.5 269.6M142.8 173.1 174.5 179.7 206.4 185.5 238.3 190.7 270.4 195.1 302.6 198.7 334.9 201.7 367.2 203.9 399.5 205.5 431.9 206.2 464.3 206.3 496.7 205.6 529.0 204.2 561.4 202.1 593.6 199.2 625.8 195.7 657.9 191.4 689.9 186.3 721.8 180.6 753.5 174.2 785.1 167.0 816.6 159.1M167.4 60.6 196.5 66.7 225.9 72.1 255.3 76.8 284.8 80.8 314.4 84.2 344.1 86.9 373.8 89.0 403.6 90.4 433.4 91.1 463.2 91.2 493.0 90.5 522.8 89.3 552.5 87.3 582.2 84.7 611.8 81.4 641.4 77.4 670.8 72.8 700.1 67.5 729.4 61.6 758.4 55.0 787.3 47.8" fill="none" stroke="#fff" stroke-opacity="0.22" stroke-width="0.6"/>
<mask id="landmask" maskUnits="userSpaceOnUse" x="192.1" y="116.6" width="510.6" height="452.6">
<polygon fill="#fff" points="190.1,114.6 293.5,114.6 293.5,115.0 297.1,118.5 302.9,119.1 305.3,123.2 311.2,123.8 315.3,127.9 319.4,129.7 324.1,127.9 328.8,129.7 333.5,129.7 339.4,131.5 342.9,133.8 344.7,133.8 344.7,133.8 341.8,135.0 337.1,136.2 331.2,137.9 325.3,140.9 320.6,144.4 314.7,149.7 308.8,154.4 304.1,159.1 304.1,159.1 307.6,160.3 313.5,158.5 319.4,157.4 324.1,155.6 328.8,155.6 330.6,153.8 331.8,154.4 329.4,157.9 326.5,159.7 324.7,161.5 323.5,163.2 325.3,162.6 327.6,163.8 332.4,166.8 337.1,162.6 340.6,160.9 345.3,160.3 350.0,157.9 354.7,155.0 359.4,152.1 362.9,149.7 367.6,147.9 372.4,147.7 374.1,149.1 371.2,150.3 367.6,152.6 364.7,156.8 362.4,159.7 361.2,162.1 363.5,160.3 366.5,159.1 370.0,160.3 373.5,162.1 375.9,164.4 378.2,167.4 381.8,169.7 385.3,170.9 390.0,171.5 390.0,171.5 393.5,168.9 398.2,167.6 402.9,166.8 407.6,166.8 412.4,165.8 415.3,165.6 416.5,167.4 415.3,170.3 416.5,172.1 420.0,172.6 420.0,172.6 425.3,172.3 428.6,171.7 430.6,173.8 430.0,177.4 429.4,179.5 431.8,181.5 431.8,181.5 428.8,181.8 424.1,182.6 420.8,184.4 420.0,185.6 417.1,183.2 412.4,181.5 407.6,180.6 402.9,182.1 399.4,183.8 393.5,184.4 390.0,187.4 385.3,184.7 383.5,186.5 382.4,190.0 380.0,193.5 377.1,197.6 374.1,201.8 372.9,204.1 370.2,207.6 367.6,210.8 366.2,214.1 366.2,214.1 370.0,210.0 374.1,205.3 378.2,200.6 382.4,196.5 385.1,195.1 385.3,196.5 381.8,201.2 377.6,206.5 373.5,211.2 371.2,215.3 370.0,220.0 368.2,227.1 367.6,232.9 366.5,241.2 366.2,250.6 367.1,260.0 367.6,267.1 369.4,274.1 371.2,280.0 373.5,281.8 377.0,282.3 380.6,280.6 383.5,279.4 386.5,277.1 389.4,272.9 391.8,267.1 392.9,261.2 393.5,254.1 392.4,248.2 390.6,242.4 389.4,236.5 389.4,231.8 390.6,227.1 391.2,221.2 393.5,215.3 395.3,211.8 397.1,208.8 399.4,207.6 401.8,205.3 403.5,202.9 404.7,201.2 405.3,205.3 405.1,209.4 405.9,211.2 406.8,206.8 407.6,203.5 408.8,208.2 410.0,203.5 411.2,200.6 413.5,197.6 415.3,194.7 414.5,191.8 417.1,191.2 419.4,188.2 420.6,184.7 420.6,184.7 425.3,187.1 431.2,190.0 435.9,193.5 439.4,197.6 441.8,202.4 442.4,204.7 441.8,211.8 441.2,217.6 438.8,223.5 437.1,227.1 433.5,229.4 431.8,234.1 433.5,237.1 436.5,235.3 439.4,231.8 442.9,228.8 447.6,227.6 451.8,228.8 454.1,234.1 455.3,240.0 456.5,245.9 457.3,251.2 456.5,255.3 455.3,258.8 452.9,260.0 450.0,261.2 449.4,265.9 449.4,267.6 447.1,270.6 445.3,273.5 444.7,276.5 442.4,280.0 442.4,280.0 441.2,281.2 444.1,284.7 447.6,287.1 449.4,286.5 453.5,287.6 458.2,287.1 464.1,284.7 468.8,282.4 474.7,280.6 479.4,278.8 484.1,276.5 488.8,274.7 493.5,272.4 498.2,270.0 502.9,267.1 507.6,263.5 512.4,259.4 515.9,255.3 515.9,255.1 514.1,250.6 512.9,246.1 512.9,246.1 517.1,243.5 522.9,241.8 530.0,240.6 530.0,240.6 539.4,242.4 548.8,241.2 554.7,237.6 558.2,234.1 559.4,228.2 557.1,223.5 560.6,218.8 560.6,218.8 565.3,214.1 572.4,207.1 578.2,200.6 580.6,199.6 580.6,199.6 603.0,197.0 632.0,194.0 632.0,194.0 634.0,188.0 637.0,187.0 642.0,181.0 645.0,175.0 648.0,168.0 649.0,161.0 651.0,154.0 655.0,145.0 659.0,137.0 661.0,134.0 664.0,135.0 666.0,138.0 671.0,136.0 677.0,133.4 684.0,139.0 686.0,147.0 688.0,155.0 691.0,165.0 693.0,173.0 697.0,178.0 699.0,183.0 703.4,186.0 703.4,191.0 697.0,195.0 691.0,197.0 685.0,200.0 685.3,202.4 680.6,204.7 677.1,207.1 673.5,210.6 670.0,212.9 666.5,215.3 662.9,217.6 659.4,219.4 657.6,222.4 657.1,225.3 655.3,228.2 653.5,231.2 651.8,234.1 650.6,237.6 651.2,240.6 652.4,244.1 654.1,245.3 651.8,247.1 650.0,250.6 648.8,253.5 651.2,255.3 654.1,257.6 655.9,260.6 657.1,263.5 659.4,265.3 662.9,264.5 666.5,263.5 667.1,262.4 666.5,260.6 664.7,258.8 662.4,258.2 662.9,257.3 665.3,257.1 667.6,258.2 668.8,260.6 669.4,262.9 668.6,265.9 665.3,267.6 661.8,269.4 658.2,271.2 655.9,272.9 653.5,274.7 651.2,272.9 648.8,273.5 645.3,275.3 641.8,276.5 638.2,278.2 633.5,280.0 627.6,282.4 621.8,284.1 615.9,285.9 610.0,287.6 610.0,287.1 607.1,288.2 605.3,290.8 604.0,293.9 602.9,296.7 601.2,299.4 599.8,301.4 601.4,301.2 601.4,301.2 602.9,305.9 604.1,310.6 603.8,315.3 602.6,320.0 601.2,323.5 599.4,327.1 597.1,330.0 594.7,332.9 592.4,335.9 590.6,338.2 591.8,336.8 588.2,333.5 583.5,330.9 580.4,327.6 578.8,323.5 578.0,320.0 576.5,320.6 577.1,324.1 578.8,328.8 582.4,332.4 586.5,335.3 590.6,338.8 590.6,338.8 589.1,344.1 588.2,350.0 587.1,354.7 585.3,359.4 582.9,363.5 581.2,367.6 579.4,372.4 577.6,377.1 576.1,380.8 575.3,381.2 575.3,381.2 574.5,377.1 575.6,371.8 577.3,367.1 578.5,362.4 576.5,360.4 573.3,361.3 572.6,357.1 570.6,353.8 568.2,350.6 568.8,345.3 566.7,341.8 565.3,337.1 564.1,333.5 566.5,330.0 568.8,327.6 571.4,325.1 573.8,321.8 573.8,321.8 570.0,324.1 566.5,327.6 562.9,331.2 560.8,334.7 561.8,339.4 563.5,344.1 562.4,347.6 564.1,351.2 566.5,354.7 568.8,358.2 570.0,361.8 569.4,366.5 567.6,371.2 570.0,374.7 568.8,378.2 570.6,381.8 570.0,385.3 574.1,385.3 575.9,387.6 576.5,393.8 575.3,383.8 577.6,389.7 580.0,395.6 582.9,401.5 585.9,407.4 587.6,413.2 588.0,419.1 587.1,422.6 583.5,424.4 578.8,426.8 575.3,429.7 572.4,433.2 570.6,437.4 569.4,439.1 567.1,437.4 563.5,437.9 560.0,439.7 555.3,442.6 551.2,446.2 547.6,449.7 545.3,453.2 544.1,456.8 541.2,457.4 536.5,457.9 531.8,459.1 528.2,461.5 524.7,465.0 522.4,469.1 520.9,473.2 520.0,472.4 516.0,479.0 510.0,484.4 504.0,488.4 498.0,492.0 494.0,494.0 490.0,498.0 487.0,502.0 484.0,508.0 481.0,516.0 479.0,524.0 478.0,531.0 479.0,538.0 481.0,546.0 484.0,556.0 487.0,564.0 489.0,570.4 444.0,570.4 442.0,566.0 439.0,560.0 435.0,554.0 430.0,549.0 424.0,548.0 420.0,550.0 414.0,554.0 407.0,557.0 401.0,556.0 399.0,552.0 395.0,546.0 390.0,542.0 384.0,538.0 376.0,537.0 368.0,536.0 360.0,538.0 364.1,536.5 359.4,537.1 357.6,537.6 355.9,538.2 351.2,538.8 350.6,537.6 350.0,532.9 348.2,530.0 346.5,532.9 347.1,537.6 342.9,538.2 339.6,538.2 334.7,537.6 330.0,535.9 324.1,536.5 319.4,537.6 315.3,538.8 317.1,541.2 322.4,543.5 321.8,547.1 318.2,549.4 314.1,550.6 311.2,552.9 313.5,553.5 317.1,555.3 320.6,558.8 324.1,561.2 325.3,564.1 322.9,565.3 320.6,567.1 318.2,567.6 314.7,564.7 310.0,561.2 308.8,558.2 306.5,557.6 304.1,561.2 300.6,562.4 297.1,561.2 293.5,562.4 288.8,563.5 284.1,561.2 280.6,556.5 277.1,552.9 273.5,549.4 270.0,548.2 272.1,548.2 267.4,549.4 261.5,550.6 255.6,549.4 250.9,547.1 246.2,544.1 240.3,541.8 234.4,541.8 229.1,542.4 225.0,542.4 219.1,543.5 213.2,545.3 208.5,547.6 203.8,551.2 200.3,554.1 196.8,557.1 191.5,560.0 190.1,560.0"/>
<polygon fill="#fff" points="605.3,293.9 610.6,291.8 615.9,289.4 621.8,287.1 627.6,284.9 633.5,283.3 638.2,282.1 635.3,283.8 631.8,285.3 635.3,285.1 639.4,283.8 635.3,286.5 630.6,288.8 625.9,291.2 621.2,292.9 616.5,294.7 611.8,296.2 607.1,297.6 603.5,298.6 601.8,298.2 602.9,295.9 605.3,293.9"/>
</mask>
<g mask="url(#landmask)"><path d="M722.2 132.7l-28.7 10.9 -1.4-0.4 -7 1.7 -4.8 6.1 -2.2 16.5 6.4 6.4 3.4 9.5 13 3.9 2.5 11 -3.1 6.9 0.9 3.2 -3.6 6.2 -11.7 5.3 -3.4-2.4 -2.8 0.2 -8-4.1 -2.9-8.1 -5.1-0.5 -4.7-3.2 -0.8-5.6 -10.7-11.2 -0.9-8 4.6-3.9 13.7 1.3 13.2-6.9M693.5 143.6l10.1 12.9 -0.4 11.3 0.9 1.2 3 12.2 -6.2 6.1M703.6 156.5l20.7 1.6M704.1 169l16.7-0.7M685.1 144.9l-22-25.4 -14.6 3.7 -0.7-0.3 -14.3 3.1 -4.2-1.4 -13.8-18.1 -9.4-0.6 -0.5-0.5 -2.6-13.2M680.3 151l-29.2-0.9 -0.6 1.1 0.7 21.9M651.1 150.1l-2.6-26.9M703.2 167.8l-18.7 6.1M663.1 119.5l6.6-8.8 -0.1-20M638.9 97l8.9 25.9M721.1 309.4l-8.4-0.8 -0.3 0.3 -8.5-0.5 -2.3-2.7 0.6-4.1 -2.7-4.8 0.6-3.7 2-4.1 -1.4-3.1 -6.8-5.7 -0.3-4.4 0.9-1 12.9-6.6 6 5 0.2 0.1 7.1-2.3M700.7 285.9l12.7-12.7M707.1 181.2l6.9 0.1 4.6-3.6M717.8 111.9l-3.9-1.7 -18.3 4.1 -2.6-1.7 -23.3-1.9M692.1 143.2l3.5-28.9M687.9 183.4l-8.5 12 0.1 2.2 4.4 4.3 16.4 3.3M679.4 195.4l-10.7-7.4 -3.8-13.6M650.5 151.2l-19.5 1.6 -1.6-1.7 -2.3-7.5 6.4-17.6M546.7 157.2l-4.1 13.1 -1.8 1.1 -1.2-0.2 -13.2-8.6 -5.5 0.6 -1.8-0.9 -4.4-9.5 -2.6-1.4 -3.2-4.6 5.1-10.6 5.5-2.1 1.4 0.6 7.3-0.5 3 2.2 -0.6 11.5 2.5 3.2 7.7-0.1 4.7 4.2 1.2 2 9.7-0.5 4.3 2.9 3.5 0.3 6.4 5.3 1.2 3.1 6.5 4 1.9 0.2 1.3-0.6 13.5 2.5 5.8-3.2 4.7 1.5 11-3.5 0.6 0.2 6.1 9.4 7.9 2.3 14-4.2 1.5 0.1M645.1 176.9l-15.9-15 1.8-9.1M629.2 161.9l-12.1 7.5M323.4 250.7l6.8 0.8 1.3 1.2 -1 8 -0.9 0.9 -7-0.3 -1.4-2 1.3-7.9 0.9-0.7 -0.6-9 -0.6-0.7 2.3-6.6 -0.4-0.8 1.3-9 -1.4-1.5 -6.1 0.2 -2.3-1.6 -7.5 0.5 -0.3-0.2 -6.4-0.3 -1.1-0.7 -8.1 0.9 -0.2-0.2 -7.4-0.7 -1.8-2.2 1.5-7.8 1.2-0.6 5.7 1.4 3.7-1.9 1-7.6 1.2-1.2 0.4-5.4 -1.2-1.4 -8.4-1.3 -0.3-0.4 0.7-7.7 7.9-2.7 0.3 0.4 11.6 3.4 1.6-1.1 8.9 2 0.7-0.6 3.7-8.7 -3-3.6 -0.6-2.6 5-8.5 -0.2-0.8 -1.6-1.4 -1.5-7.8 3.6-3.9 -1.1-8.8 -0.5-0.4 -8.2 1.7 -3.1 3.3 -0.3 2.8 1.1 1.9 -1.3 11.3 -1.8 1.5 -1.3 3.2 0.7 2.2 -1.8 5.5 2.9 6 -0.3 5.7M324.1 233.6l-8.4-2.4 -0.8 0.4 -5.7-0.3 -1.5 1.4 0.2 7 -1.3 1.2 -0.7 8.6 -0.5 0.4 -7.6-1.4 -0.5-0.6 -7.9-1.4 -0.6 0.4 -7.4-0.4 -0.8 0.7 -0.9 7.8 -1 0.7 -6.2-0.9 -1.6 1 -7.5-1 -0.9-1.3 2.1-7.4 -0.5-0.8 1.4-9.2 -0.8-0.7 -7.3-0.4 -0.5-0.6 -7.4-1.7 -2 1.2 -6.9-1.8 -0.4 0.3 -7.2-0.8 -0.2-0.1 -7.9-1.3 -1.7 1.2 -6.7-1.9 -1-1.8 2.4-7.3 -0.2-0.3 -0.7-9.2 2.1-1.6 0.4-8.3 0.1-0.1 -0.2-7.5 1.5-1.6 1.1-8.7 0.4-0.3 1-8 2.1-1.7 1.2-8.5 0.8-0.9 0.1-5.8 -0.4-0.6 -10.6-3.6 -0.5 0.4 -2.6 8.5 1.3 2.5 -1 5.8 -1.7 1.7 -10.8-0.8 -0.6-1.1 0.5-8.3 1.1-1 1.1-9.4 0.7-0.5 1.7-8.3 0.4-0.4 0.9-6.5 1.3-1.2 9.4 0.5 1.3 2.2 -1.4 8.6 0.1 0.3 -1.2 7M315.7 231.2l2.2-7.9M324 223.1l1.5-8 4.2-3.1 0.3-5.2 1-0.9 1.6-6.6 -2.6-4.2 1.5-6.7 0-0.1 0.5-2.1 -3.4-8.9 0.2-0.3 5.8-0.7 4.8-7.3 -1.4-1.9 1.4-11.4 2-0.6 6.6-7 -0.5-4 7-9.8 8 0.7 0.2 0.1 1.5 0.5 6.9 9.3 12.7 0.3 3.8-3.1 1.2-0.1 5.2-5 12-0.6 6.7-3.1 0.7-5.1 -0.6-1.6 -6-3.6 -11.6-1.8 -1 1.2 -0.2 14.6M325.5 215.1l-8.9-3 -0.1-0.1 1.6-6.5 2.6-2.1 -0.5-7.4 -0.4-0.5 -1.2-8.6M315.6 221.7l1-9.6M180.3 288.5l0.6-9.8 1.9-1.2 6.8 2.8 0 0 -1.1 8.4 -1.3 0.8 -6.9-1 -0.8 0.4M180.9 278.7l-7.2-0.1M694.5 274.8l-0.4-12.9 -4.5-3.8 -1.2-3.7 -0.4-0.4 -2.4-0.8 -7.1-9.8 -1.8-1.1 -2.2 0.7 -6.3 6.9 -6.8 0.9 -0.9 0.8 -7.9 1.1 -2.2-0.9 -6.8 2.7 -1.8-0.9 -5.1 0 -4.5-3.4 -0.1-1 2.1-3.4 5.1-4.7 -0.6-8 -0.8-0.8 -0.6-2.1 2-9.5 -2.7-3.5 0.2-8.6 -2.8-1.8 -7.4 0.4 -2.2 2.6 -10.9 1.1 -0.5-0.6 0.3-2.9 4.8-7.9 -1-5.9 -2.7-2.8 -0.6 0 -6 2.6 -8.7 1 -1.1 1.9 -0.5 2.1 0.9 3.2 0.9 9 -1.2 1.8 1.9 11.5 0.7 0.8 2.3 1.7 8.5 0.4 3.6-4.1 8-0.4 3.3-3.7 10.2-1.4M707.4 268.2l-0.9-5.7 -0.6-0.7 -1.8-6.6 1.3-6.4 -1.4-5.4 -3-1.1 -2.6 0.3 -6.7-4.4 -1.7-8.7 -3.3-2.3 -0.8-7.3M705.9 261.8l-11.8 0.1M706.5 262.5l12.2-6.8M713.6 273.3l2.7 13.2 -1.4 1.8 -4.7 2.1 -8.1-1.4M693 112.6l-1.1-23.7M713.9 110.2l-7.6-21.7M666.1 566.1l-3.2-10.1 -0.2-0.1 -4.9 0.2 -2.9 7.6 0.3 2.7 0.9 0.9 8.7 0 1.3-1.2 3.8 0.3 2.3-2.2 9-2.1 0.4-0.4 6.8 1.2 0.5 0.4 0.4 8.6 0.7 1.2 -0.3 6.2 -4.9 2.5M681.6 561.7l-2.1-5.5 -6-2.5 -2.3 1.5 -8.3 0.8M688.4 562.9l2.9-10.4 -1.1-1.5 -2.5-1.5 -2.3-4.8 -0.1-0.1 1.2-8.3 -0.6-0.7 -1.2-7.7 -4.6-2.5 -1.1 0.2 -3.5 3.9 -0.5 6.8 0.9 0.7 1.5 7.6 2.6 0.6 5.3-0.6M687.7 549.5l-7.8 6.1 -0.4 0.6M661.4 250.8l-3.8-10.6 2.2-6 -0.6-2.1 6.6-6.2 6 1.4 5.8 6.7 -0.9 8.3M665.8 225.9l-0.5-4.3 -5.8-5.1 -8.4 1.3 -0.7 1.2 -11.1 1.7M665.3 221.6l6.4-8M671.8 227.3l7.9-9.6M659.5 216.5l4.2-11.5M659 201.8l-9.4 5 -4.9-1.9 -1.7-11.4 4.5-8.5M636.8 208.6l7.9-3.7M634 206.8l-1.1-10.4 -2.9-1.8 -1-1.4 2.1-12.1M632.9 196.4l10.1-2.9M668.7 188l-10.5 8.2M651.1 217.8l-1.5-11M679.5 197.6l-10.7 7.9M616.5 169.2l-3.5-14.3 -4-3.7 0.9-9.3 -3.2-6.8 0.4-2.7 -0.1-0.1 -1.1-25.6 0.2-0.8M629.4 151.1l-16.4 3.8M214.9 98.9l-1.8 7.9 -1.6 0.9 -10.3-3 -1.4 8.7 -1.7 1.2 -1.4 8.2 1.6 2.3 -1.6 6.6 0.5 1.2 -3.8 8.4 0.3 0.5 -0.5 7.9 -1.9 1.6 -0.7 7.2 0.8 1.2 9.8 2.7M198.3 125.1l9.8-0.9 0.4 0.6 -0.1 10.3M197.2 132.9l9.9 3.4M199.8 113.4l9 3.6 0.5-0.4 2.2-8.9M208.1 124.2l0.7-7.2M227.5 163.7l9.8 3.7 0.6 1.5 -0.3 4.6 2.6 2.9 9 0.3 0.7-0.5 1.6-7.1 -0.6-1.6 0.5-4.3 -1.2-2.2 2-8.9 1.9-1.5 -0.7-11.1 -1.7-1.9 -7.6 0.8 -3.8-4.6 -7.8-2.3 -0.7-1.4 2.8-9.8 1.5-1.4 -1.2-7 4.4-5.8 8.3 1.1 2.2-1.7 -0.3-12M249.8 105.5l8.3 0.9 5.5 4.5 3.7-0.3 1.3-0.5 3.9-11.1M258.1 106.4l2.4-14.4M263.6 110.9l-9.4 12 1.4 2.8 -3.9 11.9M254.2 122.9l-5.4-2.3 -2.9 0.7 -9.8-2.4M247.6 107.2l1.2 13.4M178.4 241.9l1.6-0.9 6.9 2 0.8-0.6 9.6 2 0.4 0.4 -3.2 7.6 -1.4 0.6 -6.1-1.2 0 0 -2.2 8.1 0.6 0.9 -1.6 8.5 -1.1 0.8 -6.9-2.3M194.5 252.4l7.7 2.8 1.7-1.2 0.4-7.5 -0.5-0.6 -6.1-1.1M193.1 253l1.1 9.5 -0.2 0.1 -2.8 7.1 1.8 2.6 6.9 0.7 0.1-0.1 0.7-9.4 -0.4-0.5 -6.1-0.5M202.2 255.2l-1.9 7.8M187 251.8l-8.8-0.4M184.8 259.9l-8.5-0.4M292.2 221.9l-0.8 7.5 0.8 1.1 7.4 1.5 0.5-0.4 7.6 1.1M300.1 231.6l1.3-9.9M309.2 231.3l-1.1-9.1M316.5 212l-7.3 0 -2.8-2.4 -0.1-5.1 2.5-2.5 0.7-4.4 -3-5.1 1.6-6.5M309.2 212l-1.4 10M305.4 249.9l-0.2 8.6 -0.7 0.6 -0.5 8.3 -1.2 1.1 -7.7-0.7 -0.1 0.1 -7.1-2.2 -0.7-0.9 -8.3 0.2 -0.9-0.9 -7.2 0.2 -0.6 0.4 -7.9-2 -0.2-0.3 1.3-7.6M262.1 262.4l-8.8-0.1 -0.1 0 -7.4-0.8 -0.5-0.8 0.3-8.7 0.2-0.1 3-8.7 -1-1.2 -0.3-8.1M253.2 262.3l1.7-9 0.5-0.2 7.1 0.4M245.8 251.9l9.1 1.4M257.4 235l-2 8.2 -0.6 0.4 -6-0.4M254.8 243.6l0.6 9.5M245.6 252l-6.4-1.7 -1.9 1.2 -2.1 7.8 0.6 0.6 9.5 0.8M239.2 250.3l-0.6-8 -0.1-0.2 -7-0.7 -1-1.3 -7.1-1.2 -1.7 1.6 -0.4 7 -0.1 0.1 -2.5 9.5 1.2 1.3 7.6 0 1.6 1.2 6.1-0.3M238.6 242.3l9.2-0.3M255.4 243.2l8.7 2.1M182.8 277.5l-0.1-7.4M426.7 456.4l-3.9-0.4 -3.2-2.7 -1.3-0.7 -2.1-2 -2.7-0.4 -3.7-5.9 -0.4-4.7 0.1-0.1 7.8-1.9 0.2 0.1 4 0.9 2.9 3.1 -0.6 2.7 2.1 2.7 3.9 2.2 0.2 0.8 -3.3 6.3 2.9 3.5 1.9 0.4 2.2-0.3 5.5-7 3-0.1 1 0.8 7 0.3 1.6-2.2 4.8-1.7 2.8 2.3 7.4-1.3 0 0.1 0.6 7.8 1.8 1.5 4.7-0.7 2.7-2.1 5.3-0.6 3-5.8 -1.3-2.3 -6.1-3.6 -1.4-4.4 -0.8-0.2 -8.9 1.7 -0.7 0.6 -0.6 1.9 1.7 6.1M407 408l4.8 6.9 0.1 0 2.3 5.1 -0.1 0.5 -3.1 3.4 -1.8 0.7 -5.2-3.2 -0.4-2.6 -0.6-0.9 1.5-7.8 2.5-2.1 0 0 3.7-3.2 4.7 1.6 2 4.7 3.2 1.2 1.4 0.3 3 4.5 -0.4 1.8 0.4 5.3 0.4 0.5 5.4 1.8 1.6 3.6 -1.7 5 1 3.4 -2 1.8 0.7 7.7 -0.6 1.3M429.7 440.3l-5.3 1.4M421.5 438.6l3.8-4.2 5.4 0.7M383.5 206.3l-3.6 9.4 -6.2 1.3 -5.3-2.3 -1.5-1.8 -1-3.1 2.9-6.1 11.8 0.4 2.9 2.2 3-0.6 4.9 3.8 7.5 0.3 0.5-0.3 7.6 0.8 0.5 0.4 -0.1 8 -0.1 0.1 0.1 7.1 -0.7 0.7 0.1 6.7 -0.2 0.3 -0.3 5.7 0.9 1.2 -0.8 6.2 -0.3 0.4 0.5 6.2 -0.7 0.8 0.2 6.9 -0.4 0.4 -0.3 5.5 0.9 1.2 -0.5 5.9 -0.7 0.7 -0.6 6.3 0.2 0.3 0.5 6.8 0 0 -0.5 6.2 -0.2 0.2 0 6.2 1.3 1.6 -1.3 6.8 -0.4 0.4 0.5 5.3 0.2 0.3 -0.9 5.8 1.6 2.4 -0.9 5.6 -0.4 0.4 0.7 5.9 -1.6 2.6 0.6 3.5 0 0.1 0 7.8 -1 1.1 0.3 4.1 6 3 2.3-0.4 0.7-1.2 1.2-4.2 -1.5-2.8 0.6-2.5 5.8-3 0.6-1.8 -0.5-2.5 -5.3-2.1 -0.7-1.3 1.1-5.7 1.5-1.4 4.8 0.7 3.2-1.9 3.6 1.2 3-0.4 2.6 1.8 0 6.7 -0.1 0 0 6 1.9 1.4 -1.8 5.9 2.1 2.2 -0.9 3.2 1.1 2 2.1 1 2.2 7.6 -1.4 1.5 0 1 0.9 3.7 0.3 0.2 2.8 4.6 1.1 0.6 2 1.8 5-0.2 3.1-4.7 0-2.2 0.6-0.4 7.4-0.6 1.1-2 -0.2-4 4.7-4.6 3.4-1.2 0.4-1.1 3.8-2.6 6.6-1 0.6-0.4 3 0.3 8.1-1.6 0.1 0.1 0.3 0.2 0.2 0.3 6.9 3.2 1.4 5.1 -0.8 1.8 0.9 3.4 -3.9 6.1 -2.1-0.3 -0.9-0.9 -1.7-7.3 -1.9-1.5 -4.4 1.4 -0.5 0.4 -1.1 4.1 1.8 2.5 -0.3 3.3 -2.4 3.7 2.2 4.2 1.1 1 0 4.2 -1.5 2.6 0.8 2.5 4.1 4 4.4-0.7 1.8-1.3 2.9-0.2 1.8 2 1 8.1 -1 0.8 -5.3-0.2 -2 0.9 -2.3 4 -2.1 0.3 -6.3-3.1 -0.1-1.4 0.7-2.9 -2.4-3.6 -0.9-0.4 -4.2 0.3 -2 4.3 -0.2 0.1 -7.9-1.1 -1.1 1.5 -4 0.5 -4.3 2.1 -0.8 3.5 2 3.3 -0.6 2.2 2.3 5.5 -0.1 0.4 1.9 3.5 5.8 1.3 1.3-1.9 -0.4-4.6 3.8-3.4 0.5-1 -0.3-2.5 2.5-2.4 6.1-0.4 2.4-2.9M432.1 342.6l-5 1.8 -1.2 4.6 -0.3 0.3 -0.5 6.9 -0.3 0.5 0.1 1.4 -2.4 4.9 2.1 4.1 1.5 1.5 -0.1 2 -2.4 2.4 -3 1.3 -0.7 3.2 1.4 2 -0.3 4.3 3 2.1 0.4 0.6 0 2.3 3.4 4.8 -1.3 2.6 -0.9 1 -5 0.7 -0.6 0.4 -9.6-2 -0.2 0 -2.6-1.6 -1-0.1 -0.4 0.3 -5.1 2.3 -2.1 5.7 -3 1.9 -2-0.7 -0.1 0 -2.4-6.6 0.3-0.4 3.9-2.1 5.4 2.2M432.2 349.9l-6.3-0.9M448.6 311.4l-9.5-0.4 -1.4 1 -6-1.5 -0.1-0.1 -1.1-7.4 1.2-1.6 -1.2-7.7 -0.4-0.5 0.4-8.3 1.4-1.2 7.4 0.3 0.9 1.1 -0.4 7.2 0.9 1.1 -2.6 8.1 1.8 1.5 7.5-0.7 0.4 0.4 0.8 8.7 0 0 -2.1 9 -0.9 0.7 -6.3 0.3 -0.6-0.6 -7.2 0.2 -1.7-1.6 -7-0.1 0 0 -0.4-7.1 -1.8-1.8 -5.9 0.8 -2.2 4.4 1.9 4.4 -1.1 2.6 1.7 5.9M440.7 293.4l6.2 1.6 2.7-2.4 5.7 0.7 2.3-1.7 6.8 1.4 1.9-1 6.8 1.5 1.2-1 6.8 0.1 2.2 1.9 1.9 6 -1.9 2 -9.5 1 -0.3-0.3 -0.4-9.7M447.4 302.3l-0.5-7.3M412.7 133.3l3.3 4.1 -0.1 13.6 0.7 0.9 12.2-3.2 5.5 3.1 3.3-0.3 3.4-5.9 11.2 0.8 0.3-0.3 2.1-7.2 8.1-2.7 0.7-1.3 9-0.3 3.6 3.3 7.3-1 5.3 6.3 0.7 2.6 -0.3 0.6 0.1 6.3 8.8 5.1 1.6 2.5 0.1 1.7 1.7 2.2 -0.7 8.9 1.7 2.1 6.9 0.4 1.9 2.6 5.1 3.1 4.9 0.2 1.7 1.4 1.7 4.8 -1.7 4 -0.3 5.4 3.1 6.1 0.3 4.7 -0.3 0.5 -0.4 9.3 10.4 4.7 0 0.5 4.5 10 -0.2 0.2 -11.2 3.4 -2.1 2.3 1.5 6.5 3.7 5.5 2 0.5 6.5-3.7 0.8 0.1 12.8-6.3 1.3-2.2 -4.3-7.6 2.4-6.1 -3-8.5 0.9-2.3 -3.3-9 4.5-7.1 12.6-0.2 2.9-2.3 0.5-1.7 -1.7-4.7 -7.1-7.3 -0.8-5.2 -4.2-3.7 -12-3.2M525.2 217.7l-0.1 0.2 -11.3 3.8 -0.9 1.4 0 3.9 3.5 3.8 2.1 5.8 8.1 2.2M528.7 236.5l-1.2-7.3 8.1-6.3M527.5 229.2l-2.7-2.6 0.3-8.7M462.7 136.2l2 8.5 -2.4 3.7 0.5 5.6 2.2 2.4 -0.8 7.4 0 0 10.6 2.5 1.1 1 -0.1 6.1 -1.7 2.3 0.1 5.7 1.8 3.1 -0.6 5.4 -1.6 1.8 -6.6 1.4 -1.9 6.9 1.3 3.8 -0.5 2 1.3 3.9 -2.9 3.8 0.4 6.9 2.5 2.9 -0.7 4.6 0.1 0.4 -0.1 5.1 1.9 3.8 7.4 0.9 2.5-1.8 2.3-5.6 4.2-1.5 6.2 3.7 1.9 3.6 -3.3 6 -0.1 2.6 1.5 2.3 12.8-3.1 0.8-4.1 -2.5-4.2 1.4-3.6 9.2-5.4M493.1 236.5l9.2-0.5M491.2 247.4l0.5 3.8 7.5 4.5 5.3 7.9 -1.2 1.9 -0.9 0.3 -12.7-0.8 -0.9 0.8 -7.1 0.1 -1.4-1.6 -5.7-0.7 -1.9 1.8 -6.4 0.1 -1.8 1.9 1.2 6.5 -0.9 1.2 0.9 7.4 -0.6 0.8 1.2 8.7M499.2 255.7l4.8-11.3 0-0.1M455.6 336.7l-3.6 5.8 -5.4 0.8 -0.9-0.5 -0.1-5.8 -1.5-2.6 1.5-3.4 2.1-1.6 4.5 0.9 2.2 5.2 1.2 1.2 1.6 0.1 2.6-0.4 4.9 2.4 0.4 0.5 1 0.5 1.1 9.3 -1.4 2.4 4.2 6.8M466.1 339.8l7.6 0.3 2.2-3.1 7.8-1.2 2.8-5.5 3.3-1.1 3.4 1.5 7.3-2 1.9 1 5.2-1.2 1.9 1.3 6 0.3 5.5-8.5 0.3 0.1 6.6-4.5 5.8-0.4 0.5-0.4 0.9-8.4 -1.3-1.1 -2.1-5.1 -5.6-2.5 -0.4-0.7 -0.8-4.6 0.1-0.1 -0.3-6.4 -3.7-3.8 -6.5 0.2 -0.9-0.6 -5.9 0.3 -0.6 0.6 -6.9 2.4 -0.9 2.4 3 5.8 2.4 0.7 3.6 4.5 -1.1 5.1 1.4 2.6 -0.2 1.1 4 9.8 6.3 1.1 2.3 1.9M473.7 340.1l1.1 4.5 -0.4 0.8 -7.2 3.7M554.6 509l0.9 10.1 2.4 1.7 2.2-0.8 8 1.8 4.8-4.3 1.1-3.1 -0.3-0.9 -3-3.5 -5.2-0.2 -2.5-2.4 -6.7-0.2 -1.7 1.8 -8.8-0.6 -1 1 -7.3-0.7 -2.4 1.9 0 8.1 -1.3 1.1 -6.6 0.4 -0.8-0.3 -1.7-5.1 -8.7-4.5 0.2-1.7 -3.8-5.6 -5.4-3.1 -1.7-5 -3.4-4.3 0.1-2.3 1.9-2.4 11-4 2.3-9.7 1.1-1.8 -1.4-3.6 -2.6-2.6 -1.9-7.6 -6.5-2.9 -2.3-0.2 -4.4-4.9 -2.3 0 -0.5 0.3 -8.4 2.8 -3.1-0.4M544.8 509.4l1.3 9.1 -1.5 1.4 -0.4 9.1 1.3 1.1 11.2 1 0 0 0.4 4.7 4.9 8.1 0.3 0 6.3 2.7 6.8-0.4 0.2-0.2 2.4-8.6 -0.3-0.5 -1.1-6.6 2.8-3.4 1.3-0.5 4.5-5.7 0.1-2 -0.9-1.3 1.2-10.4 -1.3-1.1 -2-3.8 -2-1.5 -6.5 1.2 -3.9-3.7 0.8-6.6 -6.8-5.5 0.1-1.3 2.8-3.4 10.2-1.4 1.8 1.2 0.5-0.1 4.3 2.1 6.7-0.8 0.4-0.4 8.3-0.6 2.1 0.8 0.3 2.9 -0.1 0.6 -2.6 4.6 0.3 5.3 -4.3 3.6 -0.1 6.9 -1.1 1.1 -7.9-0.1M546.1 518.5l9.4 0.6M574.8 373.9l4.9-2.1 0.1-6.2 -0.2-0.3 -6.7 0.8 0 0 0.3 6.1 1.6 1.7 0 3.7 -2.1 2.7 -4.6 0 -1.5 0.5 -2.3 0 -3.2-3.7 -0.8-0.2 -4.8-4.2 -0.3-2.4 -4.5-2.9 -0.3-1.1 -2.4-3.8 0.6-3.9 -1.9-2.9 -5.5-0.5 -0.7-0.7 -6-0.6 -1.7 1.9 0.3 4.7 3.6 5.2 -1.4 2.2 -6.5 1.7 -2.8-2.5 -0.6-4.6 -0.7-1.2 0.6-5.4 -0.3-0.5 -0.5-5.8 1.5-2.5 -1.2-3.2 -6.8-2.7 -3.9 3.4 -4.6 0.6 -1.2 1.7 -2.5 1 -6.6-1.7 -1.9-6.2 -0.8-0.4 -3.3-8.9M568.1 380.3l0.1-7.6 -2.6-0.9 -1-3.6 2.7-3.3 -0.8-2.7 -6-2.5 -1.5 1 -2.4-0.8 -2.1-1.7 -5.9 0.4M561.1 377.1l4.5-5.3M560.3 376.9l-5.1 5.8 1.7 5.2 -0.6 0.6 -0.9 6.3 -2.1 2.1 -1.3-0.3 -8.2 3.6 -2.5-0.2 -1.6-1.5 -0.7-3 2.5-3.4 1.7-8.1 -2.5-2.3 -0.2-5.5 -2.4-2.2 -2.8-6.1M553.3 396.9l0.9 3.4 3.6 3.2 4.8-1 1.1-0.9 0-4.6 1.6-2.3 -2.2-5.7 -1.7-1.5 -4.5 0.4M561.4 387.5l2.9-6.7M539 395.5l-5.2-2.4 -3.6-3.1 -3.4 1 -2.8 3.7 0.6 7.5 -1 0.5 -7.9-0.5 -3.3-5.5 0.4-1.4 2.1-1.7 0.5-1.7 0.3-8.1 0.9-0.9 1.4-0.6 2.4-4.9 5-0.7 2.5-3.3 0.9-3.8M539.7 398.5l-9.1 6.8 0.5 2.4 1.8 2.2 8.2 3.2 0 1.3 2.3 4.9 8 3.1 1.1 3.3 -2.1 2.8 -6.6 2.2 -1.9 3.7 1.9 4 -1.5 3.9 -6.7 4.5 -3.3-2.4 -6.6 0.9 -0.2 0.1 -9.5-1.4 -2.7-2.8 -0.6-1.4 -0.6-0.5 -4.9-1.7 -2.9 1.9 -5.1 9.1M530.6 405.3l-3.8-2.4 -2.2-0.7M533.8 393.1l-7 9.8M541.3 400l0.6 12.1 -0.8 1M541.9 412.1l6.5-1.6 2.1-1 4.4 0.9 2.3 2.8 -0.1 2.1 -5.3 6.3 -0.4 0.8M550.5 409.5l-0.7-4.8 -6-4.5M545.8 508.4l0.6-6.9 -1.7-4.5 2.1-4.8 -1.3-1.7 -0.5-1.7 -2-2.6 -8.1-5 0.5-4 4-3.8 4.9-2.4 0.2-0.2 6.9 2.3 0.2 0.1 0.2 0.9 2.9 4.5 9.3 6.1M537.5 508.7l-1.1-8.8 -4.7-2.3 -4.6-0.4 -1.4-2 -4.5-1.5 -0.9-0.7 -4.7-10.5 -0.7-0.6M544.7 497l-8.3 2.9M689.6 258.1l-3 6.9 -6.9 2.5 -2.6 4.3 -3.8 0.5 -5.7-5.3 -0.1-0.2 -1.7-0.8 -11.8 1.3 -1.7 3.7 1.8 5.5 4 1.2 2.2 2.3 10.2 0 2.8-7.7M679.7 267.5l-0.5-9.1 6.4-5.2M693.6 275.8l-1.5-0.8 -13-2 -2-1.2M692.1 275l-5.5-10M704.1 255.2l-15.7-0.8M719.5 253.6l-14.1-4.8M714 181.3l7.9 13.7M714.9 288.3l5.3 9.2M683.9 201.9l-1.4 15.6M722.6 250.3l-8.3-12.9 2.5-6.3 -4.4-4.1 -1.8-13.6 -9.4-5M704 243.4l10.3-6M510.2 585.8l-2.2-9.1 -3.8-3.6 -2.2 0.1 -5.5-8.4 0.4-4.5 -0.4-0.4 -1.1-11 0.5-0.8 0.9-5.9 3.9-2.1 5.2-1.3 0.6-0.9 4.2-2.6 6.5-1.9 0.1-0.1 7.8 1.1 4.3 4.3 4.9 1.1 1.4 1.5 1.3 5.7 1.5 1.1 7.1 1.5 2.6-1.5 -0.3-7 9.2-5.3M547.9 541.1l-3.3-2.6 -8.9 2.8M544.6 538.5l0.9-8.4M556.7 531.1l10.8-0.6 2.9-1.9 6.2 1.7M570.4 528.6l-2.3-6.8M557.9 520.8l-1.2 10.3M533.8 519.8l1.5 7.8 3.1 2.5 5.8-1.1M544.6 519.9l-9.5-1.2M534.3 539.8l4.1-9.7M527.2 520.2l0.9 10 -3 4.2M528.1 530.2l7.2-2.6M538.5 548.1l-0.8 10.8 4.5 3.6 3.5-0.5 0.9 0.4 2.9-0.3 9.1 3.2 1.4-0.8 8.4-0.1 0.7-0.9 0.2-4.3 -1.1-2.1 0.4-10.5M545.7 562l-0.1-12.4M526.4 519.9l-8 4.2 -1.3 2.4 0.2 6.8M537 547l-9.6 6.6 -0.3 2.2 1.1 2.3 -1 6.6 -8.4 4.1 -1-0.8 -8.8-1.1 -4.8 6.2M528.2 558.1l9.5 0.8M529.4 538.7l-5.5 9.1 3.5 5.8M517.2 533.4l1.7 13 -4.4 2.9 -5.5-2.4 -3.1-8.1M523.9 547.8l-5-1.4M178.2 573.3l6 3.5 3.7-0.3 3.6-3.8 0.7-1.9 1.8-1.9 0.9-6.4 5.3-4.6 0.6-4.9 -4.6-5.2 -8.9 1.1 -1.8 2.4 0.1 4.2 -2.2 2.7 -8.1 1.4M183.4 558.2l-0.3 6.6 9.1 6M179.8 566.6l3.3-1.8M701.2 494.6l1.3-1.5 0.2 0 9.1 1.5 4.4-0.9 -1.8 9.2 -3 2.1 -4.8-1.6 0 0 -5.4-8.8 -6.4 0.9 -1.9-0.9 -1.3-2.8 1.5-8.1 -1.1-1.4 -6.3-2.7 -2 0.9 -3.4-1 -4.8 2.9 -5.9-1.7 -1-1.5 -2.4-0.8 -5.2-5.4 -5 0 -3.7-3.3 -0.4-0.8 -6.2-3.2 -5.9-0.2 -1.5-0.5 -2.1 1 -2.4 3.2 -0.3 0.1 -1.7 1.7 -3.3 2.5 -1.4 6.4 2.7 4 5.2 1.2 0.6-0.4 2.3-1.1 2.5-2 1.8-0.5 8.3 4.3 3.5-1.8 3.2 1.4 2.7 0.1 4.7 4.3 3.6-1 5 4 -1.7 6.8 -0.7 0.6 -3 1.1 -2.2 2.7 0.3 3.2 0.7 1.1 8.4 4.3 0.3 0.6 6.5 1.4 0.9 1.8 -2.6 9.4M706.6 503.4l-2.6 2.4 -2.1 7.1 -5.5 0.7 -1.7-0.8 -0.6-1.1 0.4-5.6 1-1.7 -0.7-8.9M695.5 504.4l8.5 1.4M701.9 512.9l3.9 2.9 -0.9 6.1 0.2 0.4 -0.4 7.7 -0.4 0.6 0.8 3 -4 9.1 -0.6 0.3 0.5 7.9 -0.4 0.9 3.7 5.5 3.3 0.7 4.2-5.6 2.9-0.4 2.2-5.9 -4.7-4.1 0.3-3.9 3.6-2.9M701 550.9l7.6-1.4 3.2 2.9M708.6 549.5l0.6-5.9 3-1.6M713.5 584.7l2.9-7.4 -1.8-1.4 -2.3-8.5 -1.8-1.4 0.2-3.8 8.9-4.6 -4.9-5.6M701.1 542.7l8.1 0.9M705.1 533.6l7.4 4.5M710.7 562.2l-3.1-4.2M688.9 563.3l7.3-0.2 0.9 0.4 3.2 7.8 0.7 0.5 2.9-0.7 4.7 4.9 6-0.1M703.9 571.1l3.3-3.6 3.3-1.5M722.2 566l-9.9 1.4M697.1 563.5l3.9-1.8 6.2 5.8M701 561.7l3.3-4.4M708.6 576l-3.5 5.6M700.6 551.8l-3.3 1.1 -6-0.4M697.3 552.9l-1.1 10.2M681.2 562.1l-2.1 8.6 -4.9 2.5 -0.5 2.1 3 4 5.1 0.9 -0.1-8 -2.6-1.5M689.3 571.9l-7.6 0.3M679.9 555.6l0.1-10.4M677.4 544.6l-4.3 2.7 -6.5-3.1 -0.8-4.3 2.3-2.3 6.9-1.3M673.5 553.7l-0.4-6.4M639 584.4l-3.1-6.4 -7.4-1.6 -0.2 0.2 -2.4 1.1 -3.8 4.6M628.3 576.6l2.4 11.1M658.8 581.6l1-5 -3.5-3.7 -0.2-5.6M659.8 576.6l4.2-2.5 0.8-6.8M629 95.7l-13.5 10.8M425.6 349.3l-4.5-1.2 -2.8-4.8M418.4 339l2.6-2.9 5.1 0.5 0.2 0.1 -0.5 5.9 1.3 1.8M425.8 342.6l-6.9-1.1M436.6 358.3l5.7-2.7 0.1 0 1.9-3.2 3.5-1.7 3.3 1.6 2.6 5.1 0.1 0 1.1 4.5 0.9 1.7 5.7 1.6M454.9 361.9l-7.3 5.3 1.6 3.1 3.4 1.9M453.7 357.4l-8.1 3.2 -1.1 3.1 -5.7 2.2M447.6 367.2l-3.1-3.5M286.4 478.2l4-0.9 4.9-7.2 5.8 0.7 1.1 2.8 8.9 5.5 1.1 3.7 -1.5 3.5 -0.4 0.6 0.8 6.4 4.9 5.1 -0.2 1.1 2.1 5.8 -2 4.4 -6.5 1.2 -5.8-5.1 0 0 -2.4-2.1 -0.3-2.8 -1.5-2.1 -6.3-4.5 -0.7 0.2 -10.3 1.1 -1.4-2 0.6-6.1 4-3.6 1.1-5.7 -3.3-3.6 0-2.1 5.1-5.5 2.7-0.4 4.4 3.5M290.4 477.3l5 4.7 3.6-1.7 3.2-6.7M309.4 510.9l-0.8 5.7 0.9 2.4 -0.9 5.2 -1.2 1.2 -6-1.6 -0.7-6.8 -1-0.9 -5.5 0 -3.2-7.1 0 0 -7.4 3.7 -3.1 5.9 -0.1 0 -0.7 2 1.2 7.5 -3.1 3.1 -7.2 1.4 -1.5 1.5 0.1 0.8 7.6 9 -1.3 3.8 2.4 3.5 4.8 2.6 2.5-1 8.7 2.4 3.2-3.4 0.1-6.8 0.3-0.3 2.4-7.5 4.2-1.5 3.3-2.5 8.8 2.6 1 5.5 8.7 4.3 0.2 7.5 1.6 2.4 -1.3 4.1 1.6 4.5 5.2 3.8 1.5 6.2 1.6 1.2 6.2-0.9 3.6-2.5 0.1-6.7 -2.2-3.2 0.2-3.3 3.3-4.5 -0.3-8.1 0.1-0.1 8.9 1.3 1.9 2.2 -0.9 6.4 0.2 0.4 6.1 3.1 5.7-2.8 4.1 0.4 1.9-1.5 1.2-2.9 5.1-4.2 3.9-1 1.4 0.8 6.8 0.4 1.6 1.3 1.4 9.8 -0.5 0.6 0.4 7.6 0.3 0.5 -1.3 5.6 -8 3.7 -2.3-2.2 -8.1-1.9 0 0 -0.4-3.6 -2.9-3.9 -0.5-9.1M299.9 537.2l-3.8-4.1 2.8-8.3 2.5-1M298.9 524.8l-6.8-3.8 -1.3 0.8 -10.3-3.2M292.1 521l2.1-4.9M333.4 451.9l-0.3 9.3 1.1 1.6 4.8 0.9 2.8 2.8 0.3 5.7 -0.2 0.5 1 7.1 0.1 0.1 8.9 2.7 1 1.4 8-0.5 1.9-1.8 7.9 0.3 0.8-0.6 -0.1-8 1.1-1.4 -1.1-6.3 -2.3-1.6 -4.6-0.3 -1.9-2.5 -1.1-4.9 -1.4-1.9 1.9-6 2.9-2.4 -0.9-7.4 -2.3-1.9 -6.7 1.7 -3.5-1.7 -3.6 1.2 -0.8 0.6 -8.3-2.9 -0.6 0.2 -2.7 6 1.5 3.2 -1.6 5.6 -2 1.2 -6.3-1.9 -3.9 2.3 -7.6-2.2 -1.6 2.1 -8.2 2.1 -2.7 5.2 1.4 4.7 -0.2 1.5 -3.2 5.1M312.2 482.8l8.4-0.5 1.1 0.8 7.3 1.7 2.4-1 0.3-0.5 -1.2-8.2 -3-3.4 -3.6-0.4 -1.8-1.1 -2.4-5.8 4.9-5.3 -1.4-6.8M324.6 459.1l8.5 2.1M205.8 143.2l-12.1-1.4M203.4 152l-10.2-2.3M222 183.1l-9.5-1.4 -1.1 1 -1.3 8.5 -0.8 0.6 -1.2 6.2 -4.8 2.6 -6.6-3.7 -0.3-0.7 1.3-5.8 1.4-1.3 1.3-8.3 -0.7-1.2 1.6-7.8M212.5 181.7l-0.4-9.1M213.8 170.9l9.6 3.9M237.2 101.1l2.1 5M267.3 110.6l1 16.6 -3 1.3 -9.7-2.8M306.5 192.5l-9 3.2M296.3 194.3l0.2-11.7M198.1 114.6l-51.7-13.8M254.1 150.6l9 2 2.2-1.8 8.9 0.7 3.3 4.3 -2.1 6.7 0.7 1.9 -2.4 8 0.2 1 -1.1 4.8 -8.7 1.8 -2.4-2.1 -0.1-6.6 2-2 0.3-7.4 -0.6-0.7 -11.9 2M263.3 161.2l-0.2-8.6M202.3 161.4l11.2 1.2M204.1 151.5l12 2.6M226.7 164.6l-11.9 0.5M178.5 298l7.9-0.5 0.9 1.1 7.3 0.5 0.6 0.9 -0.8 7.7 -0.3 0.3 -8.3-1.2 -1.4 0.8 -6.7-2.4M187.2 289.5l-0.8 8M185.4 260.8l8.6 1.8M183.8 269.3l7.4 0.4M193 272.3l-3.4 8M251.5 169.1l10.1 2.2M249.9 176.2l5.6 3.1 6.2-1.4M314.9 231.6l1.1 9.6 -0.1 0.1 -8-1.6M316 241.2l6.2-0.2M364.3 236.8l-7.3-1.1 -0.1-0.1 0.4-8 2.6-2.1 4.5 0.6 1.5 1.4 7.3-0.1 1.4 1.2 -0.8 7.6 -0.1 0.1 -8.8-0.1 -0.6 0.6 0.8 8.1 -0.4 0.5 -7.5 1.3 -1.4-1.6 -7.5-1 -1.2 1.1 -7.3-0.5 0 0 -1.9 7 1.8 1.8 7.2 0.4 0.9-0.9 8.1 0.3 0.2 0.2 -1.3 8.9 0.6 0.8 -0.9 6.8 -2 1.7 -6.5-0.4 -0.6-0.4 -5.8 0.3 -1.6-1.4 -7-0.8 -2.2 2.7 0.4 6.7 0.5 0.6 6.9 0.4 0.9 1 0.7 8.2 -2 1.3 -1.8 7.6 0.5 0.6 9.2 1.2 0.6-0.5 7.8 1.4 2.1-1.4 6.8 1.1 0.3 0.2 -0.1 7.9 -2.1 2 -6.4-0.8 -0.9-1.2 0.3-7.8M355.8 245.1l1.2-9.4M364.9 236.2l1-8.7M255.5 179.3l-0.3 8.6 -1.1 0.6 -6.9-1.1 -0.6 0.3 -7.7-2.3 -0.9 0.5 -6.8-1 -0.7-0.7 -8.1-1.4M264.1 180l-1 8.7 0.3 0.3 6.8 1.6 0.6 0.6 7.4 0.7 0 0.1 0.7 8 -1.1 0.9 -1.4 8.5 0 0 -7.2 0.1 -0.3 0.2 -1.6 7.7 0.8 1.3 -1.9 7 -1 0.7 -6.8-1.1 -0.5-0.6 -6.5-0.5 -0.7 0.6 -1.2 7.9M255.2 187.9l7.9 0.8M268.1 218.7l7.2 1.3 1-0.8 0.1-9.8M276.3 219.2l6.5-0.4M276.4 209.4l7.9 1.6M297.1 201.1l9.2 3.4M308.8 202l9.3 3.5M278.7 255.7l-0.7 8.4M270.9 255.8l-0.1 8.5M264.6 246.1l7 0.3 1-0.7 8 1.5M271.6 246.4l0.9 8.4M337.5 280.4l8-0.1 1.8 1.9 7.2-0.9 0 0 7.2-0.8 0.5 0.4 8.2 0.1 1.1 1.2 7.8 0.1 0.5-0.4 7.6-0.2 0.8 0.9 0.7 3.8 7.2 1.9 0.8-0.8 0.4-6.4 -0.9-0.8 -0.6-5.2 1.8-2 -0.2-5.3 -0.5-0.5 0.4-7 0.2-0.2 0.4-6.1 -0.2-0.4 0.9-7 -0.5-0.7 0.2-5.8 -0.3-0.5 0.1-6.2 0.5-0.5 0.6-6.6 -0.6-0.7 0.4-6.7 -0.1-0.1 0-9M388.2 282.6l8.2-2.3M397.3 281.1l7.2-0.1M396.9 287.5l8.3 0.6M211.4 182.7l-11-1.9M199.1 189.1l10.2 2.7M174.7 222.3l9.3 1.3 0.1 0 6.8 0 1.4 1.7 -2.4 8.7 0.5 1 7.5 0.7 0.3-0.2 8.2 1 0.3 0.3 6.1 0.8 0.5 0.6 8.4 2.3M213.3 238.2l-0.9 8.6 -0.3 0.2 -7.8-0.5M221.2 247.6l-8.8-0.8M221.3 247.5l7.4 1.8 0.7-0.4 7.9 2.6M229.4 248.9l2.1-7.5M240.6 232.1l1.1-8.9 0.2-0.2 0.7-6.8 1.3-1 7.3 0.5 0.5-0.4 6.9 0.6 1.1 1.2 7.6 0.3M250.7 224.8l-8.8-1.8M240.2 232.4l-1.7 9.7M242.6 216.2l-7.5-3.1 -0.3-0.4 -7.2-1.3 -0.9 0.4 -7.6-2.5M235.1 213.1l-2.7 9 0.6 0.5 8.7 0.6M256.9 234.4l1.5-9.1M264.7 235.4l0.5-9M432.2 336.6l5.7 0.2 1.6-1.8 4.6-0.6M437.9 336.8l2.2 7.2 -0.4 0.4 -0.1 2.4 -2.8 4.4 -2.5 0.9M440.1 344l5.6-1.2M361.7 436.8l0.1-7.1 -2.3-2.8 -1.3-0.3 -2.8-3.8 0.5-4.9 -2.4-3 0.3-2.5 7.5-4.2 0.6-1 1.1-0.5 0 0 6.3-3.6 4.4 0.4 1.7-1.4 1.7-3.6 7.6-1.1 0.5 0.5 0.1 5.6 -1.2 2.6 0.4 2.7 3.8 1.5 1 1.9 -0.8 4.9 1.1 1.3 0.3 3.9 2.7 3 1.1 0.4 1.2 5.7 3.1 2.3 2-0.7 1.7-2.5 -0.8-6.1 3.1-3M394.9 431.4l-3.9 1.5 -3 5.9 -6.2-1.1 -0.2 0.1 -5.8 0.6 -1.1-0.8 -2.1-4.9 -2.5-1.2 -2.1-2.5 -6.2 0.7M398 433.7l-1.2 3.9 2.3 4.3 -1.1 3.4 -4.4 1.9 -2.6-1.5 -1.9-6.1 -1.1-0.8M389.1 439.6l7.7-2M360.9 483.5l2.5 7.7 7.1 2.8 2.6 3 0.2 2 0.5 1 5.8 2 7.3-3.3 1.9-3.7 3.1-2.1 3.2 0.1 4.9-9.6 -0.6-2 0.2-5.4 -0.2-0.4 0.7-11.3 -1.3-1.3 -8.7 0.6 -1.8 1 -5.1-0.6 -1.1-1.3 -0.8-4.2 2.7-4.4 -0.5-4.7 7.5-3.7M383.5 449.4l-1.3-1.3 -0.6-10.3M425.3 434.4l-1.5-2.9 1.6-6.8M401.7 430.5l6.9-0.6 0.8 1.4 0.1 8.2M409.2 424.6l-0.6 5.3M453.8 357.4l2-0.7 4.6-5.4 1.5-0.9 3.9 1.1M455.8 356.7l10.4 3.9M419.6 453.3l6.3-6.2M431.7 438.5l3.4 1.2 1.1 4.2 -0.1 0.4 -5.7 3.7M436.1 444.3l1.8 7.7 1.3 1M430 450.1l7.9 1.9M379.5 264.5l-5.9-0.5 -0.7 0.6 -1.8 7.5 0.6 0.9 7.8 0.8 1.1-1 -1.1-8.3 0.6-0.4 7.6 0.5 1.4 2.7 -1.5 5.6 0.5 0.8 -0.7 8M380.6 272.8l7 0.1M395.8 275.1l-7.7-1.4M405.1 274.7l-7.5-1.6M447.7 265.1l-7.3-0.6 -1.6-3.1 1.4-5.2 -1.2-1.7 0.6-6.7 -0.2-0.2 0.5-7.1 -0.1-0.1 -0.3-6.4 0.4-0.5 -0.1-6.5 0.7-0.7 -0.2-6.6 -0.2-0.2 0.1-6 -0.3-0.4 0.3-6.8 -0.2-0.2 -0.4-6.6 0.2-0.3 -0.2-6.4 1.5-1.7 6.9 0.6 0.2-0.3 6.9-0.3 1.7 1.5 -0.3 6.2 -1.1 1.1 0.6 6.3 0.4 0.4 0.1 6.9 -0.2 0.2 -0.4 6.5 0.3 0.3 -0.2 6.4 0 0 -0.4 6.3 1.1 1.4 -0.5 5.5 0.4 0.6 -0.2 7.2 -0.4 0.5 -7.4-0.5 -0.8 0.7 -0.4 7.3 1.8 2 -1.5 7.2 0 0 -0.6 9.6 0.7 0.5 7.3-1 2 1.8 7.7-0.9M447.7 265.1l8.9 1.7 1.2-0.8 6.7 1.4M456.6 266.8l-1.5 7.4M474.4 345.4l-0.6 10.3M439.9 303l-0.8 8M455.3 293.3l1.3 8 2.2 1.6 3.7-0.7 3.5 1.9 7.5-0.9M447.8 302.7l8.8-1.4M489.7 245.1l-10.4 2.4 -1.6-0.5 -2.4 1.9 -1.2 7.2 -0.5 0.5 -7.7-0.1 -0.4-0.3 -8.1 0.6 -0.2-0.2 -8 1.3M465.9 256.5l0.4 9M457.4 256.8l0.4 9.2M447.8 275.2l2 8.5 -1.4 1.7 1.2 7.2M449.8 283.7l6.7-0.2 0.8 0.7 0.3 7.4M457.1 276l-0.6 7.5M440.4 264.5l-2.2 3.7 1.7 6.4 1.5 1.1 5.7-1M489.8 242.5l-11.3-6.2M477.7 247l-1.7-8.9M465.5 256.2l0.6-8.9 0.1-0.2 0.2-6.3 2.2-3.6M457.2 256.6l-1.2-8.2M466.1 247.3l-9.7 0.6M467.4 209.7l7.9 3.1 0.5-0.3 11.4-0.6 2.3-6.4 -3.8-4.3 1-7.9 0.1-0.1 1.3-10.9 1.1-1.3 -0.5-5 0.9-1.7 -0.3-7.2 -4.2-3.7 0-6.1 4-4.6M466.6 203.8l10.4-2.8 1.3 0.9 7.4-0.7M475.8 212.5l2.5-10.6M474.8 166.3l0.2-11.9 -0.7-0.7 0.6-5.4 -0.8-1.7 1.9-8.7M485.1 157.3l-10.1-2.9M475.9 167.3l9.2-3.9M535.6 222.4l4.4-5 -4.1-8.7 -10-0.8M535.9 208.7l4.6-4.4 7.4 1.4M525.6 203.2l12.5-7.6 0.4-2 7.6-3.3 0.5-1.1 -5.5-14.3 -0.3-3.5M538.1 195.6l2.4 8.7M565 198.4l-3.1 11.8 -10.7 4.5M540 217.4l10.3-0.4M465.7 273.9l6.8 0.4 2.5-1.5 4 0.4 3.1 3.4 -1.4 4.8 3.5 4.2 -3.1 7M484.2 285.6l4.9 0.2 2.6 4.7 0.7 0.5 6.9-2M483.3 294.5l8.4-4M516.4 230.8l8.4-4.2M473.6 256.6l1 7M475.3 248.9l-9.1-1.8M491.2 232.9l6.4-10.7 -0.1-1.7 2.3-1.8 2.2-6.8 1.6-1.3 8 0.2 1.9-1.9 12.1-0.5M503.7 232.4l-6.1-10.2M518.5 236.6l-3.6 3.5 -10.1 0.1M521 283.7l2.3-7.2 4.9-2 0.3 0.1 4.1 8 3.1 0.9 5.6-2.4 1.1 0.7 6.7 1.6 2.9 4.9 0.3 0.2 6.7-0.2 1 0.9 6 1.6 3.1-2.3 1.2-6.4 6.8-2.1 2.8 1.9 4.1 0.1 3 2.9 7.8-0.2 1.3 0.9 1.8 0.1 2.4 1.2 2.7 4.5 5 0.6 0.6 1.4 -1.4 6 1.4 1.1 6.3 0.2 0.4-1.2 -1.4-3.7 -5.3-2.4M552 288.3l-9.4 5.6 -1-0.5 -4.8-0.1 -1.2-1.2 0.1-8.6M542.6 293.9l2.1 5.6 -1.8 3.6 -0.1 1.9 -0.6 0.9 -7.1 2.1M544.7 299.5l7.4-1.4 1.9 1.9 -0.4 6.5 -0.9 0.6 -2.3 7.4 -5.7 1 -0.5 0.5 0.5 8.8 -0.3 0.4 -7.7 1.2 -1 1.3 -4.9 1.2 -5.7-2.6 -3.8-4.6M552.3 288.5l-0.2 9.6M559.6 333.9l-1.5 8 1 2.1 -2 4.1 -3.8 2.3 -3.2-0.4 -1.9-3.4 -0.6-0.3 -2.5-4.9 1.1-2.9 3.4-0.9 2.8-4.5 1.2-0.8 6 1.6 1.1-0.5 1.1-10.3 -0.1-0.2 0.3-4.8 4.7-2.1 2.1-5.8 -3.1-4 -3.4 0.3 -3 2 -5.7-2M566 290.8l1.4 6.1 -1 1.4 -7.2 0.6 0 0 -5.2 1.1M559.2 298.9l3.1 7.6M599.6 357l0.8-5.4 -1.5-3.6 -3-1.4 -0.3-4.4 2.7-3.6 3.2-1.6 1.6-0.2 1.8-1.6 4.9 0.7 1.3 4.3 -0.8 3.6 2.2 4.3 0.8 0.4 -0.3 4.3 2.7 3.7 -1.1 2.8 -1.9 1.2 -3.2 0.4 -2.5-2.9 -6.4 0 -1-1 -4.9 0.8 -2 2.5 -0.1 0.3 -4.6 4.5 -0.3 2.2 1.8 5.4 1.9 1.4 0.1 0.5 4.9 4.3 5.8 0.9 1.8-2.3 -0.7-7.3 -0.6-0.3 -8.1 1.8 -3.2 2.4M613.3 348.5l3.7-1.3 4 1.3 4.8-1.9 0 0 -0.2-5.5 1.7-2.8 -2.5-7.1 -1.6-0.5 -1.6-2.5 -2.4-1.6 -5.8 0.9 -2.5-2.5 -0.2-0.7 -2.4-2.9 -2.2-0.4 -3.9 2.8 -3.7-1.1 -0.8 0.6 -5.4 0.2 -2-2.4 0.5-2.5 -2-2.7 -5.2-0.3 -1.8-3.7 -2.9-1.4 -2-0.2 -1-0.8 -0.4-6.3 -0.4-0.5 -0.8-4.7 3.5-4.2 5.9 1.3 2.1-0.4 1.8 1 5.6-0.4 5.2 3.5 0.5 1.1 2.1 0.8 6.2-1.3M621 348.5l-0.7 6.3 -1.5 1.1 -3.1 0.6M584.6 412.4l0.2-5.8 -1-1.5 0.5-3 -2.4-3.7 -5.6 0.1 -1.3 1.4 1.2 5.6 -4.1 6 0 0.4 2.5 3.4 3.7 0.8 2.5-0.9 3.8-2.8 7.5 2.5 0.4 0.9 5.2 1.9 4-1.3 0.3-1.1 -4.6-9 -0.1 0 -2.2 0.3 -1-0.8 -2.9-7.3 0.5-1.6 -0.5-1 0.6-2.6 2.4-2.9 0.3-3.6 1.2-0.7 6 1.7 0.7 1.5 5.3 1.7 0 0 0.1 0.6 1.5 3.3 3.6 1.7 4.6-1.6 1.9 2.3 3.5 0.5 2.1 2.8 1.3 0.6 3.8-1.5 1.2-3.6 -0.5-1 -0.8-5.5 2.7-1.4 6 1.8 1.6-1.6 5.3-0.6 0.8 0.3 2.5 4.6 0.2 3.6 -0.1 0.2 -3.9 0.4 -3.9 3.5 0.4 5.2 2.5 0.9 2.1 1.4 1.1 3.9 -0.6 1.2 -5 1.9 -1.9 2.2 -0.5 3.1 -2.9 2.1 -3.8-0.3 -1.4 0.8 -1.8 6 -0.4 0.5 0.4 7.1 -4 2.3 -0.1 0.4 -4.7 4.1 -2.6-0.1 -2.9 1.4 -1.8 2.7 -5.2 2.3 -0.8-0.5 -5.2-1.1 -0.2-0.1 -6.8 1.8 -0.1 0.2 -0.5 6.9 -1.7 1.3 -0.2 1.3 -5 5.3 -7-2 -1.1-1.4 -3.5 0.2 -2.1 1.1 -9-0.6 -3-3 -0.4-4.3 -0.7-0.6 -8.8-4.2 -0.1 0.1 -4.5 4 -1 3.7 -3.7 4.8 -0.1 0.9 1.9 7.5M602 415.3l4.1-4.5 -0.6-6 0.8-1 -0.3-1.2 -3.8-4.5 -3.4-1.4 0 0 -7.1 0.2M597.4 406.3l8.1-1.5M549.8 404.7l4.4-4.4M554.9 410.4l2.9-6.9M595 449.8l-11.9 4.5 0 0.3 -3.6 6.6M592.8 458l-9.7-3.4M565.3 394.7l2.6-0.4 1.2 0.8 3.9 4.5 2 0.3M567.9 394.3l4.4-5.8 0.5-0.2 1.8-1.8 6.8 0.8 1 1.3 0 1.5 1.3 3.1 -1.8 5.2M563.1 389l5.7-1.8 3.5 1.3M566.6 380.8l2.2 6.4M574.6 386.5l-1.9-6.2M552 396.6l-3.3-4.1 2-4.3 5.6 0.3M563.7 397l-8.3-2.2M541.5 392.1l7.2 0.4M555.5 372.7l-2.2 1.9 -3.1 2.1 -0.9 4.3 -3.5 2.7 -2.6 0.3M555.2 382.7l-0.1-0.1 -5.8-1.6M553.3 374.6l1.8 8M532.9 409.9l-4 8.7 -2.6 0.4 -0.6-0.6 -1-5.7 -3.3-2.4 -5 1.6 -1.7 2.8 0.6 2.1 -1.6 6.6 -2.8 0.7 -5.9 5.6 2.2 7.9M531.1 407.7l-6.4 5M515.3 416.8l10.4 1.6M532.3 444.4l0.3-7.4 1.1-3.2 -1.6-3.4 -8.3-2.3 -0.3-0.3 2.8-8.8M523.5 427.8l-4.6-0.2 -5.2-4.2M532.1 430.4l3-4.5 -2.4-6 -3.8-1.3M535.1 425.9l5.1-0.9 3.2-5.7M532.7 419.9l8.4-5.5M551.8 421.6l-3.4-11.1M518.4 524.1l-4-11.9 1.6-1.9M535.1 510.6l-5.7-1.6 -3.7-6.7 1.4-5.1M524.7 514.8l4.7-5.8M525.7 502.3l-9.5 6.3M693.9 280.2l-5 3.9 -6.5 0.4 -6.3 4 -3.7-2.3 -1.9-6.2M682.4 284.5l-3.3-11.5M688.9 284.1l-0.3 8.1 -1.1 2 -6.2 0.8 -5-5.8 -0.2-0.7M688.6 292.2l11.5 0.9M720.8 197.3l-17.4 1M724 209.2l-13.4 4.2M712.4 227l-11.4-0.3 -1.1 1.2 -9.9 1.6M697.6 214.6l3.4 12.1M677.6 234l9.1-6.8M527.1 555.8l-10.8 1.2 -1.2-0.8 -0.6-6.9M517.8 568l-1.5-11M518.8 568.8l0.2 4.7 1.7 3.5 -1.4 7.1M519 573.5l-11 3.2M568.2 557.1l-9.3-4.4 -1.6-2.9 4.7-5.9M560 564.5l-1.1-11.8M557.3 549.8l0 0 -9.1-1.7M567.5 530.5l0.6 6.9 -5.8 6.5M569.1 563.5l10.9-1.2 0.5-0.6 7.2-2.6 1.4-5 4.8-1.6 0.2-0.1 5.9 0.7 3.2 3.1 -0.9 5.2 -4.3 1.9 -0.7 0.8 -6.4 0.4 -3.2-5.4M569.3 559.2l7.8-6.4 0.4-1.4 -2.1-5.2M580.5 561.7l-3.4-8.9M625.3 439.1l6.8 10.7 -0.8 1 -7.5 0.9 -0.9 1 -0.5 8.5 -2.1 2.5 0 0 -0.8 5.6 -0.6 0.8 -11 3.5 0 0 -0.2 1.5 -1.2 2.3 -5.4 4.7M623.8 451.7l-3.2-8.5M631.3 450.8l0.1 0.8 -2.3 9.1 7.1 5.3M629.1 460.7l-6.7 0.5M638.3 465l0.1-2.9 2.5-5.3 -3.4-9.6 0.1 0 2-0.2 5.6-3.3 0.7-4.1 -3.2-4.8 0.1-2.5 -1.1-0.9 -2.9-1.3 -0.8 0.4 -6.2 6.3 -2.4-0.4M638.4 462.1l-7-10.5M607.9 473.6l-9.4-6 -1.6 0.3 -3.3 2.5 -2.4 0.2 -2.4 2.2 -3.1 0.4 -4.7-4.4 -0.4-6.2M585.7 473.2l-6.4 7.8M581 468.8l-5.3 5.2 1.3 5.9M607.3 449l1-10.6 0.5-0.4 1.2-3.1 -2.8-4.1 0-3 -2.8-2.1 -4.5 0.4 -2.4-2.4 0.2-6M583.1 454.3l-1.3-5.3 0.3-1.3 0.7-1.3 2.9-2.3 0.9-5.3 8.7-4.3 0.9 0.2 0.6 0.5 1.2 2.4 2.7 2.4 7.6-1.6M600.7 440l1.2 7.8M595.1 449.6l-2.9-3.3 -6.5-2.2M598 437.6l-5.8 8.7M620.3 463.7l-9.4-4.5 -1.2 0 -0.3 0.2 -6.8 0.6 -2-1.6 -6.1-1.7M600.6 458.4l1.5-10.5M609.4 459.4l-1.5 14.2M602.6 460l-4.1 7.6M587.6 464.6l3.6 6M592.6 459.3l4.3 8.6M588.8 472.8l1.9 9.1M593.6 470.4l5.4 10.9M661 473l5.1-6 -0.1-2.1 3.7-5.3 2-0.3 4.8 1.6 1.9-0.7 1.4-1.4 2.1-6.3 6.2-2 1.6 1 1.9 0 6.9 4.5 6.3-1.4 3.4 4.4 -1 7.4 1.6 1.9 0.7 5.8 0.9 1.4 3.5 2.2 7.8-2.1M666.1 467l8.9 4.1 0.2 0 1.5 0.6 8.3-2.5 2.9 0.4 0.3 0.3 2.9 0.8 3.4 3.9 3.8 0.6 1.9 2.3 -0.6 4.9 2.7 2.1 0.2 8.6M676.5 460.9l-1.3 10.2M668.6 479.2l6.4-8.1M640.4 481.6l-6.6-12.4M631.8 471l3.8 13.7M620.3 463.7l13.2 5.6M619.5 469.3l9 4.2M724.4 482.7l-9.5 0.9 -0.7 3.5 3.3 5.2M706.6 503.4l5.2-8.8M676.7 471.7l3.6 7.8M691.6 491.8l-8.5-3.3 -3.8 2 -2.3-0.2 -3.8 2.1M683.1 488.5l0.6-8M692.9 494.6l-5 3.4 -2.4 6 -1.2 1.1 0.5 4.1 -3 5M687.9 498l-6.1-1.7 -2.5-5.8M675.5 482.4l1.5 7.9M715.5 528.8l-0.6-0.8 -10.2 2M694.5 506.1l-9-2.1M684.7 527.9l5.2-2.7 0.6-1.4 -1.1-6 5.3-5M689.4 517.8l-6.7-1.8M704.9 521.9l-6.9-0.4 -0.7-0.5 -6.8 2.8M697.3 521l-0.9-7.4M704.3 530.6l-6.3-0.3 -0.8 0.3 -7.3-5.4M698 530.3l0-8.8M700.5 543l-3.1-1.1 -3.8-5.6 -7.1 0M690.2 551l6.8-8.8 0.4-0.3M697 542.2l-11.6 2.5M697.2 530.6l-3.6 5.7M675.9 537l10-1.4M690 573.1l10.3-1.8M689.7 579.3l1.7 1.1 8.6-0.6 0.5 0.4M700 579.8l1-8M671.2 555.2l1 9M664 574.1l5.1 3 4.6-1.8M674.2 573.2l-4.3-6.8M666.6 544.2l-2 2.6 -1.9 9.1M575.6 546l10.4-0.1 0.1-0.1 -1.1-7.8 5.8-2.7 0.6-1.4 0.9-0.8 1.3-4.3 6-3.5 3.1 1 2.3 6 -2.7 3.5 1 6.3 2.4 1.9 1.5 0.3 3.9 5.2 -1.1 5.1 3.4 4.6 -1.2 3.7 2.5 7.5 -0.1 0.2 0.8 2.4 -0.4 5.7 1.8 4.2M577.5 551.4l10.8 1.9 0.8 0.8M586 545.9l2.3 7.4M628.5 576.4l-0.5-8.3 0.1-0.1 7-2 2.1-5.1 6-2.1 1.6 0.6 0.4 0.6 0.3 4.3 4.2 4.2 5.5-2.1M635.9 578l2.6-3.3 -0.9-6.4 -2.5-2.3M666.9 583.5l2.2-6.4M652.5 583l-4-6.5 -1-0.6 -0.6-1.1 0-0.7 2.8-5.6M647.5 575.9l-7.6 8.5M656.3 572.9l-7.8 3.6M638.5 574.7l8.4 0.1M646.9 574.1l-4.6-5.8 -4.7 0M645.5 564.3l-3.2 4M654.9 563.7l-9.7-3.7M676.7 579.3l-3.2 6.7M645.7 465.7l2.8-11.1 0.3-0.3 1-0.4 1.1-7.4 2.4-1.3 2.9-0.3 3.2-3.2 1.6 0.3 5.5 5.8 -0.2 1.2 -2.8 4.4 -4 1.1 -2.6 2.5 0.1 2.8 -5.1 9.1M650.9 446.5l-5.7-2.8M645.9 439.6l4.6-1.4 3-3.4 1.8 0.4 2.1 1.3 2 5.2M653.3 445.2l-2.8-7M694.5 474.6l-2.5 7.7M685.7 479.6l2.5-9.7M474.3 153.7l-9.3 2.7M452.5 146.1l9.8 2.3M464.2 163.8l-8 1.5 -4.3-2.2 -0.7-5.4 1.4-2 -0.4-9.3M452.6 155.7l10.2-1.7M607 132.3l-15.6-7 -4.1 2.1 -5.5-0.6 -4.1 2.4 -6.4-0.9 -8.3 5.3 -3-0.7 -7.7 2.1 -5.7-1.5 -2.9-10.2 -12.2-1.9 -3.2-3.8 -8.6 1.2 -3.5 2 -5.2-1.1 -6.1 3.7 -3.7 0.2 -5.2 5.9 -9.7-1.6 -1.6-2.5 2.1-8.1 -3-5.9 -8.1-1.2 -0.5 0.4 -10 1.3 -3.2 2.8 -8.4-2.2 -1.8-3.9 0.7-5.5M475.7 110.2l-1.4-10.5M465.2 111.9l-2.2-10.4M365 163.2l15.2-3.8 2.9 2.4 9.9 0.7 5.8 3.9 -0.1 3.4 -10.5 9.3 -0.6-0.1 -4.3-3.8 -14.6-1.2 -3.8-4.5 0.1-6.3 -1.2-1.6 -0.6-2.7 -5.4-6.4 -9.8-4.4M393 162.5l-0.2-15.8 -4-4.7M398.8 166.4l3.7-3.4 13.3-1.3 1.1-0.9 -0.3-8.9M392.8 146.7l9.5 4.9 3.3-1.8 10.3 1.2M402.5 163l-0.2-11.4M406 136.4l-0.4 13.4M674.5 243l-14.7-8.8M650.4 219l3.8 11 5 2.1M630 194.6l-5.7 8.2 2.3 4.4M607.1 132.4l22.2-7.8M627.1 143.6l-17.2-1.7M600.8 171.2l-3.3-14.1 -3.4-1.7 -7.1 1.4 -7.5-4.7 -2.7-5.3 -6.1-0.6 -2.2-1.6 -5.5-11M609 151.2l-11.5 5.9M175.7 549.6l9.8 1.7M426.3 336.7l5.8-0.1M426.1 336.6l0.5-8.1M421 336.1l-1.2-6.9M439.3 321.4l-1 5.7 -1.3 1.7 2.5 6.2M437 328.8l-4.8 1.1M434 344l5.7 0.4M412.5 346.3l-2.5-4.2 -6.1-0.7M410 342.1l3.1-5.2M411.9 348.8l-8 0.4M421.1 348.1l-4.1 3.4 -3.6 0.1M417 351.5l4.6 4.6 3.2 0.6M421.6 356.1l-2.4 1 -7-1.3M386.1 329.3l-6.8 0.1 -2.2-2.4 -6.5 0.3 -1.7 1.7 -1 5.2 2.2 2.8 -1.3 6.5 -3.5 2.6 -3.6-0.4 -2.6 1.9 -1 6.6 0.3 0.3 1.2 7.9 -1.1 1.1 0.1 2.3 -3.1 7.4 0.7 0.9 0.2 3.7 4.1 4.3 2.6 0.1 0.5 0.2 6.8-1.5 2.2 2 2.3 0.1 3.1 1.3 4.3-2 0.5-3.6 4.7-2.1 2.2-0.1 0-0.1 0.6-6.2 -1.2-1.5 -4.6-1.8 -0.4-2.4 2-4.4 -2.2-5.4 1.4-1.9 0.8-4.2 -0.7-1.4 1.1-5.7 -1-2.1 2.1-4.3 -1.5-5.8 0.4-0.4 8.7-1.7 1.3 1.8 -1 5.9 0.4 0.7 -1.6 6.2 1.4 2 -0.1 4.7 -0.5 0.4 -0.9 7 -0.5 0.2 -3.2 4.2 -4.4-0.2M383.9 354.7l-6.2 1 -2.8-1.6 -2.6 0.7 -4.1-1 -2.9-7.7M368.2 353.8l-2.1 1.5 -1.6 6.7 0.6 0.5 5.6 0.6 0.7 0.9 4.1 0.1 2.6-2.9 -0.4-5.5M366.1 355.3l-7.7-0.8M364.5 362l-4.9 0.4M374.9 354.1l1-7.1 0.9-0.6 1.7-8.5 -0.8-0.9 -7.6 0M375.9 347l-7.1-3.5M343.9 316.1l-0.3-8.2 -0.7-0.8 -8 0.6 -0.6-0.5 -7.5 0.9 -0.2 0.2 -0.8 6.8 -1.2 1.4 0.8 6.8 1.7 1.6 4.9 0.1 3.5-8 0.6-0.4 5.3 1.1 2.5-1.6 6.2 1.1 1.5 2 0 6.5 -0.3 0.4 0 9.3 0.7 0.7 6.7 0.3 1.2-0.9 8-1.3M358.7 336.4l3 9.3M395.2 327.2l0.2-4.9 -0.3-0.5 -0.3-6.1 0.3-0.3 0.9-7.4 0.8-0.7 0.5-4.8 -1.5-2.2 0-5.5 0.3-0.3 8.4 0M395.1 315.4l9.5-0.6M396.8 307.3l7.3 2.2M361.7 300.1l8-0.1 0.9-0.6 7.7 0.9 0.2 0.3 7.8 0.1 1.3 1.6 0.6 4.6 -2.1 3.3 1.9 4.1 6.8 1.4M396 308l-7.8-1.1M413.5 329.9l-8.9-1M412.4 335.6l-7.5-0.4M394.3 341.8l-7.8-0.3M387.6 335.1l7.9-0.2M395.7 343.8l8.2-2.5M403.3 337.8l-7.4-2.2M396.5 329l7.7 0.3M385.4 347.2l-8.6-0.8M378.5 337.9l7 1.5M299.7 516.1l3.9-10.3M300.7 517l7.9-0.4M327.1 450l0.2-8.6 -0.2-0.2 0.1-3.6 -2.3-5.4 2.2-3.4 -0.4-2.7 1.5-3.8 -3.2-4.8 1-2.9 -0.9-4.1 2.7-2.9 5.6 0.5 1.1 1.2 0.6 3.2 -2.2 2.5 0.6 4.7 -2.5 2.1 -2.8 0.5M327.3 441.4l8.2 0.5M428.9 544.9l-10.6 2.4 -0.2-0.1 -2.4-5.7 0.6-7.6 3.3-2.2 8.8-0.6 3.6-3.9 1.4 0.1 0.6 0.1 5.8 3.5 9.9-1.1 2.2 1.5 1.4 6.7 0.8 0.6 5.3 11.2 -0.5 0.5 -9.9 0.9 -2-2.7 -9.4-2.1 -1.7 0.8 -6.5-1.9 -0.5-0.4 -0.5-13.8M290.9 466.6l1.3-7.8 2.4-1.5 8.5 2.2M292.2 458.8l-8.1-3.4 -5.4 4.4 -0.6 0.1 -4.8-3.9 -6.9 0 -1-0.9 -7.8-0.7 -0.6 0.7 -11 3.5 -2.6-0.7 -1.8 0.3 -1.3 3.1 -4 5.3 -0.1 3.2 0.4 1.3 -1 10.8 -0.2 0.1 -8.5-1 -0.6-0.8 -0.6-8.2 -1.4-1.1 -4.4-0.9 -4 3.1 0.5 3.6 -3.6 7.1 0.3 1.1 4.1 3.6 3.1 0.8 0.6 0.8 -0.1 10.4 0.4 0.5 -1.1 4.4 -1.9 1.9 -1.5 5.4 1.1 1.3 0.7 11.1 -0.7 0.7 -9.9-1.8 -0.7-0.6 -9.4 0.7 -0.9 0.3 0 0 -0.6-0.4 -6.3-11 -3.4-0.6 -3.8-5.4 0-0.1 0.4-0.7 3.3-11.6 6.6-1.1 0.4-0.3 1.1-4.5 -3.5-5.3 -6.3-3.6 0.3-5.2 2.2-2.3 0.2-4.1 1.3-2.1 7.4-4.4 1.9 0.2 4.1-2.1 4.5 0.8 0.7 0.6 1.3 8.1 -6.4 7 0.6 1.7 9.9 5.8M294.6 457.3l0.1-6.6 6.4-3.6 0.2-0.9 -2.6-5.3 4.3-7.8 0.6-0.1 5.1-7.1 6.3 0.3 1.8-2.2 1-4.6 -1.3-1.9 -8.3-2.2 -0.2 0.1 -6.8-1.7 -0.5-0.8 -9.3-1.9 -0.3-0.4 1.7-6.5 -5.5-7.1 -0.1-1.1 -2-1.6 -10.7-2.2 -1.7 1.5 -0.3 5.3 3.5 5 4.9-0.3 6.4-6.6M284.1 455.4l0.7-6.1 2.9-3 0.6-5.6 0.5-0.6 0.3-6.6 1.6-2.2 7.6-1.1 4.7 2.9M294.7 450.7l-7-4.4M206.7 460.6l2.9-11.1 -1.1-2.3 1.6-6.4 1.8-1.2 5.2 1.7 2.9-1.3 2.9-7.3 1.3-0.9 6.9 2.9 0.8 0.7 5.8-0.7 0.6-0.6 2.5-4.6 1.6-1.1 7.5 1.7 3.7-2.2 4 1.7 5.4-0.9 3.2 2.4 5-1.3 1.2-8.9 1.6-1.7 5.1-0.5 2.7 3 -2.6 8.4 -2.6 1.9 0.5 6.7 -0.5 0.6 -4.8 1.7 -2.4 3.9 -2.9 1.1 -4.9-2.9 -0.5-2.3 -4.2-2.6 -6.6 1.7 -1.4 3.5 1.6 2.9 5.2 2.8 1.9 5.3M277.1 438.7l11.2 2M284.8 449.3l-6.6-1.9 -3.5 2.4 -1.4 6.2M276.6 439.3l1.6 8.1M279.2 430.1l9.9 3.4M327.1 441.2l-10.1 0.5 -1.9 4.7 0.5 3.7M285.3 483.9l8.3 2.6 0.9 2.5 -1.4 5.3M295.4 482l-1.8 4.5M310.3 486.9l-6.1 0.5 0 0 -5.2-7.1M304.2 487.4l-9.7 1.6M235.2 333.8l-9-0.8 -0.6 0.3 -1.1 7.1 1.3 1.7 8.9-0.6 0.1-0.1 0.4-7.6 1.1-1 -0.3-7.6 1.6-1.4 7.5 0.1 1.9 2.3 6.8 0.6 0.2 0.3 0.3 8.2 -2.2 1.8 -0.4 7.9 0.6 1.1 6 0.7 3.1-2.1 7 1.5 0.4 0.8 6.3 2.7 1.7 7.1 -0.1 0.1 0.9 8.8 0.3 0.2 6.5 0.8 1.4-0.4 6.9 1.5 0.8-0.5 3.3-7.7 -1.5-3.4 0.3-3.6 -1.7-2.7 2.4-9.5 0.2-0.2 8.1 1.8 1.1-0.9 2.7-7.5 -1.6-1.9 -7-1.5 -3 2.2 -0.3 7.8M245.1 323.9l1.5-7.6 -0.7-1 2.5-7.1 -0.8-1 -0.5-8.4 2.4-1.4 7.1 2 0.4-0.2 2.7-8.2 -0.7-0.9 0.6-8.3 -0.8-1 -7.3 0 -1.1-1.3 -7.5-1.3 -0.2 0.2 -9-0.3 -0.8 0.6 -6.8-1.5 -1.3-1.7 1.2-6.3 1.9-1.2 1.2-8.4M246.6 316.3l9.2 2 0.3-0.3 7.7 0.9 0.5 0.6 7.5 1.9 0.5-0.4 9.4-0.8 1 0.9 4.8-0.1 3.3 2.5 0.4 6.1 5.6 2.8M253.8 326.8l2-8.5M191.4 159.7l-3.2 9.7 0.4 0.9 -2 6.5 1 2.9 -1.8 6 -0.7 0.6 -0.9 7.3 -4.6 2.7M185.8 185.7l11.9 4.7M184.2 193.6l3.9 3.3 8.3-0.7M136.6 178.5l48.5 7.8M196.7 196.9l-2.9 8.6 1.5 1.8 -1.7 8.3 -0.1 0 -2.6 8M193.8 205.5l-6.5-0.7 -0.5 0.4 -1 7.3 -2.9 1.6 -4.5-1M187.3 204.8l0.8-7.9M187.6 179.7l12.1-0.1M225.5 173.1l7.2 2.4 4.9-2M230.5 184.2l2.2-8.7M250.9 167.5l-13 1.4M232.4 222.1l-6.6-0.7 -1-1.1 -6.9 0.1M224.8 220.3l1.9-8.5M208.5 124.8l11.8 1.1 0.6 1.3 -3.1 8.4M220.3 125.9l1.4-7.1 -0.6-1.5 1.2-5.8 2.9-2.4 0.3-8.1M209.3 116.6l11.8 0.7M438.9 102.3l-0.9 7.1 -0.1 0.1 1.1 8.8 2.8 1.6 6.7 0.2 3.2 6.1 -4.2 7.3 -5.3 1.4 -2 3.8 -11.5-1.4 -2.2 1.6 2.3 9.8M426.5 138.9l-10.5-1.5M407.7 99.3l-1.1 10.5 -0.6 0.3 -8.7 0 -2.2 2.4 0.1 8.7M397.1 99.1l0.2 11M328.4 92.7l1.7 16.2 1.5 1.9 0.8-0.1 5 2.8 3.3 8.1 8.9 2.8 0.6 4.6 4.3 5.3M330.1 108.9l-11.7-5.9M253.4 139.5l11.5 0.8 0.6-0.5 10.8-0.2 1.2 1.1 8.4 0.2 2.1 2.3 0.4 8.2 -3 3.1 -7.9 1.3M264.9 140.3l0.4 10.5M265.3 128.5l0.2 11.3M304.7 104.5l0.8 4.1 9.4 4.4 0.6 1.2 -1 5.5 -1.1 1.3 -1 6.3 -2.1 2 -9 1.5 -1.1-0.9 -11.4-0.3 -3.4-4.1 -5-1.8 -5.2 4.1 1.1 11.8M275.2 127.8l-6.9-0.6M294.2 102.9l-0.8 11.4 0.9 1.5 5.4 1.9 2.1-1.2 3.7-7.9M293.4 114.3l-10.8-2.5 -4.1 3.4 1.9 8.5M294.3 115.8l-8.9 9.7M285.5 101.7l-2.9 10.1M299.7 117.7l0.5 12.2M268.6 110.1l9.9 5.1M363.8 161.6l-13.9 1.3 -8.5-7.8M357.8 152.5l4.9-17.4M213.1 106.8l9.2 4.7M234.9 111.9l-9.7-2.8M221.7 118.8l12.9 1.5M188.5 288.7l7.5 2.5 1.5-0.7 7.9 2.3 0.1-0.1 8.8 0.3 0.6-0.3 7.2 2.3 1.3-0.9 8.1 0.8 0.1 0 9 2 0.1 0.2 6.4 1.7M189.6 280.3l9.3 1.4 0.8-0.6 7.4 1.6 0.1-0.1 8.2 1 0.3 0.4 -0.8 8.7M198.9 281.7l-1.4 8.8M206.7 236.8l-2.9 9.1M200.7 263.5l7.9 1.1 1.3 1.9 -1 6.4 -0.3 0.2 -8.6-0.2M208.6 273.1l-1.4 9.5M199.7 281.1l0.2-8.1M208.9 272.9l8.1 2.9 0 0 7.8-0.3M217 275.8l-1.6 7.8M205.5 292.7l1.6-10M320.7 203.4l9.3 3.4M309.5 197.6l10.3-2.1M234.8 212.7l2.7-7.3 -0.3-0.7 1.3-8.1 -1.8-1.4 -6 0.3 -1.6-2 -8.2-1.7M227.6 211.4l1-9 -0.4-0.7 2.5-6.2M237.2 204.7l-8.6-2.3M240.2 176.4l-1.3 9M251.4 224.2l-0.2-8.5M257.9 224.7l1.8-7.6M237.5 205.4l7.3 0.8 0.9-0.6 6.7 0.9 0 0 7.9 1.3 0.1-0.1 8.5 2M243.9 215.2l0.9-9M258.6 215.9l1.7-8.1M299.6 232l-0.8 7.7 -0.2 0.1 -1.3 8.1M298.8 239.7l7.8 1.2M297.8 248.5l-2.8 8.2 2.4 2.2 7.1 0.2M288.8 246.9l-0.4 10.1 -0.1 0.1 -1.1 7.7M295 256.7l-6.6 0.3M279.7 255l8.6 2.1M347.1 245.2l0.7 7.8M357.2 246.7l-1.3 6.6M266.2 225.7l8.6 3.4 1.5-1.1 5.1 0.5 1.8 1.8 -0.2 6.8 -2 1.6 -7.4-1.5 -1-1.2 -7.1 0.1M275.3 220l1 8M272.6 236l2.2-6.9M281.4 228.5l3.2-7.5M277.8 200.9l-8.1-1.3 -0.9 0.8 -7-1.1 -1-1.1 -6.5-0.2 -0.4-0.4 -8.5-1 -0.2-0.3 -6.7 0.3M269.2 209.5l-0.4-9.1M260.4 207.7l1.4-8.4M278.2 191.9l2.3-8.5 3.2-0.9 4.6 2.4M270.2 190.6l3.6-10.8 -1-1.6M273.8 179.8l6.7 3.6M263.4 189l-2.6 9.2M269.7 199.6l1.1-8.4M287.9 193l-1.9 8.3 0.1 0 -0.6 9.1M287.6 192.6l-9.4-0.6M286 201.3l-7.1-1.3M295.9 202.3l-9.8-1M300.3 221l0-8.2 -5.4-2.9M292 221.7l-0.8-9.9M306.4 209.6l-6.1 3.2M289.4 246.5l0.6-7.6 0.5-0.4 1.7-8M290 238.9l-7-1.8M291.4 229.4l-8.2 0.9M298.6 239.8l-8.1-1.3M281.4 246.5l-0.4-7.8M272.6 245.7l1-8.5M397.3 302.5l7.2-1.8M388.9 286.4l-2.5 4.9 1.9 2.9 -2 6.5M388.3 294.2l7.5 0.6M396.1 288.3l0 6.2M387.6 302.3l8.2-2M365.1 244.9l8.6-0.3 0.2-0.2 6.7 1.2 0.3 0.4 7.9 1.5 1-1.2 0-7 -1.8-2.3 -4.6 0.2 -0.2-0.2 -9.4-0.8M364.7 245.4l1.9 9 -1.8 1.5 -1.1 6.7 0.1 0.2 0 8.5 -1.4 1.1 -0.7 8.1M366.6 254.4l5.9 0.4 0.2 0.2 7.1-0.8 1.7 1.4 6.1 0 1.9-2.9 -0.7-5.2M372.5 254.8l1.2-10.2M373.7 236.3l0.2 8.1M223.2 231.4l0.2 7.5M233 231.6l-2.5 8.5M225.8 221.4l-0.9 8.8M233 222.6l-0.2 8.9M216.5 229.5l-3.7 8.1M215.5 227.7l-7-1 -2.1 1.4 -6.3-1.7 -1.2 0.5 -0.7 8.6M206.4 228.1l0 8.4M203.3 200.6l-0.3 6.4 1.2 1.5 5.7 0.6 1.4 1.3 5.7 0.5M203 207l-7.7 0.3M217.7 220.1l-8.6-1.7 -1 0.5 -6.3-1.5 -0.5-0.7 -7.7-1.1M209.1 218.4l2.2-8M201.3 216.7l2.9-8.2M208.5 226.7l-0.4-7.8M200.1 226.4l1.7-9M219.5 201l-7.5 0.4 -3.9-3.4M212 201.4l-2.1 7.7M203.9 254l7.5 2.5 0.9-0.4 6.4 1M211.4 256.5l-2.8 8.1M212.1 247l0.2 9.1M228.7 249.3l-1.2 9.1M185.8 306.8l1.5-8.2M196 291.2l-1.4 7.9M175.9 315.6l6.8 1.4 1.3-1 7.6 1.9 0.3-0.2 8.8 1.6 0.5-0.3 1.9-8.7 -0.2-0.4 2.2-8.3 -0.8-1.5 1.1-7.3M202.9 309.9l-8.5-2.2M204.3 300.1l-9.1-0.1M205.1 301.6l7.8 0.9 0.5 0.6 7.1 1 1.7-1.2 7.2 2.2 0.7-0.5 7.6-0.2 1.4 2.2 -1.2 7.8 -0.1 0.1 -8.1-0.8 -0.3-0.3 0-8.3M212.9 302.5l1.4-9.5M237.9 314.4l8 0.9M237.6 323.8l0.2-9.3M251.2 362l7.7 2.2 0.3 0.3 -3.6 8.3 -0.4 0.3 -5.5-0.2 -1-0.8 0.3-8.1 2.2-2 0.3-5.8 -2.4-3.4 -5.9 0.3 -2-1.9 -8.5 0.4 -0.7 0.5 0.2 8.1 -1.6 1.8 -8.2-1.9 -1-1.2 -7.7-1 -0.3 0.2 -1.6 7.2 1.6 3.2 -1.9 4.3 -7 1.2 -2.3 3.2 -0.3 3 -3.8 2.3 -1.4 9.2 -0.3 0.3 -3.2-0.5 -3.8-2.9 -7.9 1 -0.6 0.8 1.9 6.1 3 1.9 1.9 3.6 -3.4 6.1 -0.3 0.2 -3.8 0.6 -2.9 1.9M189.4 388.6l1-7.5 1.7-0.6 6 2M181.5 389.6l-0.2-7.3 2.9-3.3 -1-7 1-1.3 0.2-6.2 0.2-0.2 10.1-1.6 2.5 2.5 4.2 0.1 0.9-0.8 2.2-8.5 -0.2-0.4 1.2-7.8 -0.6-0.8 -7.4-1.8 -0.4 0.3 -2.4 9.2 -0.3 0.2 -7.4-1.3 -0.9-1.1 0.9-6.9 1.1-1 9 0.9M190.4 381.1l-6.2-2.1M180.9 390.4l-8.4 0.5M174.2 380.6l7.1 1.7M461.9 350.4l-1.4-4.1 -1.8-0.8 -4.4 0.1 -2.3-3.1M460.5 346.3l4.6-7M458.7 345.5l-1.5-8.7M475.9 337l-3.7-8.1 1.7-3.3 -0.2-4.7 -0.8-0.9 -5.7-1 -3.6 2.1 -6-1.8 -1.2-6.9 -0.3-0.2 -7.5-0.8M464.7 338.8l3.8-9.1 3.7-0.8M446.6 343.3l1.2 7.4M454.3 345.6l-0.4 2.7 -2.8 4M445.6 337l8.8-1.5M439.6 346.8l4.7 5.6M460.4 351.3l-6.5-3M445.6 360.6l-3.2-5M431.5 321l-1.9 7.1M438.3 327.1l7.3 3.9M364.9 446.1l7.1 1.5 0.6 0.9 0.4 5.8 0.4 0.6 7.9 3.6M382.2 448.1l-9.6 0.4M370.7 482l-0.2 12M317.9 505.3l8.3 0.2 4.6-3.9 0.8-0.2 1.6-1.4 7.3 1.8 4.4-3.6 6.9 1.6 1 1.3 5.2 0.5 1-1.1 0.8-6.3 3.6-3M373.3 499l-14.3 1.5M373.4 454.9l-4.3 9.2M382.1 462.7l-10.7 3M373 454.3l-11.5 2.1M362.6 461.3l-10.3 3.9 -1.9-1.5 -8.6 2.8M351.9 482.6l1.5-9.4 1.4-1.7 -2.5-6.3M354.8 471.5l6.4 0.3 0.9 1.2 0.7 8.7M364.5 463.8l-3.3 8M391 432.9l-3.8-3.6 -4.6 0.1 -0.1-0.2 -0.7-3.8 -0.6-0.8 -5.4-2.8 -0.6-4.5 0.4-0.7 0.9-6 -1.4-1.9 -1.4-5.2M381.8 437.7l0.8-8.3M372.6 432.7l2-2.7 7.9-0.8M374.6 430l-1.1-6.3 2.3-1.9M387.2 429.3l5.4-4M381.8 425.4l8.1-3.1M400.9 424.4l-5.1 0 -2.1 1.3M287.2 395.9l3.1-2.2 2.9-6.4 0.2-0.1 8.1 0.2 0.7 0.6 7.6 1 0.6-0.5 10.3-0.8 1-0.9 1.1-4.4 6.8-3.1 3.6 1.2 4.7-1.3 3 1.4 1.1 5.7 -0.6 1 0.8 7.5 -0.5 0.5 -0.1 6.2 3.9 4.8 1.1 0 0.2 0 5.6-4.9 0.5-3.6 4.6-2.9 3-0.1 2.1-1.3 0.5-0.2 2.4-2.3 1-0.1 5-3 1.1-5M333.2 380.5l1.3 7.6 -2.4 4.1 -0.2 0.1 -10.2-5.5M334.5 388.1l6.9-0.8M381.2 424.6l3.4-6.9 3.9-0.6M375.6 416.6l6.8-0.7 2.2 1.8M437.4 368.4l-8.6 4.3 -2.8-2.1M438.3 372.1l-6.8 5.4 -0.3 1.7 1.5 2.8 -1 2.2 1.1 7.6 4.9 1.6 0.6-0.1 0.7-0.6 2.1-0.8 5.5 1.4 3.7-1 0.5 0.4 6.9 0.3 2.1-3.1 -0.2-4.2 -1.1-0.9 -6.7-0.3 -1.7 2.2 0.2 5.6M431.5 377.5l-2.7-4.8M400 433l8.9 6.5 0.5 0.1M399.1 441.9l9.8-2.4M423.8 444.4l-4.9 2.5 -2.7 3.7M418.9 446.9l-1.4-9.2M417.3 437.6l0.7-4.6 5.8-1.5M418 433l-1.1-3 0.3-1.2 3.4-3.4 4.4-1.2M409.4 431.3l7.5-1.3M383.2 464l-2.2 9 0.8 1.8 -1.5 7.7 0.6 0.9 -1.2 6.4 -6.6 7.2M381 473l-8.5-1M362.1 473l9.3 0.4M414.2 420l1.4-0.6 9-0.5M415.6 419.4l5-7.1M411.9 414.9l5.5-3.8M442.2 452.9l1.7-7.5 1.9-2.5 3-1.1 0.7-0.6 -3.6-7.5 1.8-3.4 -1.5-3.8 0.8-1.9 -1-5.1 -1.5-0.8 -3.8 0.3 -0.7 0.2 -5.3-1.1 -1.2-1.5 1.1-3.9 3.6-2.5 0.7-0.9 -1.5-4 -3-1.4 -5.3 1.9 -0.7-0.2 -3.5 1.8 -5.5-4.5 0.6-4.6M424.9 407.4l-2.9 5.2M415.4 406.4l4-3.5M429.1 405.8l1.5 3.8 4 3.1M425 417.1l2.1-0.7 6.4 0.2M430.6 409.6l-3.5 6.8M414.1 420.5l6.5 4.9M411 423.9l6.2 4.9M411.8 414.9l-8.2 3.9M438.6 372.3l10-1.7 0.6-0.3M448.6 370.6l-6.1 6.9M458.5 384.8l-0.4-5.7 4.7-3.8 3.8 1.6 0.2 0.7 5.7 5.2 1.4-0.2 0.9 0.4 1.7 1.8 2 6 0.3 0.1 6.7-0.3M458.1 379.1l-5.5-4.7M462.8 375.3l-2.2-4.1M455.8 363.6l-2.6 8.2M474.3 292.5l0.5-8.7 -1.5-1.1 -7.6-0.2M480.7 281.4l-5.9 2.4M473.3 282.7l-0.8-8.4M472.7 265.4l2.3 7.4M465.1 283.3l-7.8 0.9M383.1 161.8l0.2 13.4M439.9 213.1l-7.8-0.7 -0.3 0.4 -0.2 7.1 0.2 0.3 0 6.2 -0.2 0.2 0.4 6.7 -0.6 0.6 0.1 6.7 -0.1 0.1 0.3 6.8 -0.2 0.2 -0.6 6.1 0.6 0.8 -0.4 6.3 -0.1 0.1 0.1 7.1 -0.2 0.2 -0.2 7.1 0.4 0.4 0.8 7.9M440 206.1l-8.3 0.4 -0.1-0.1 0.7-6.6 -0.9-1.1 0.5-6.1 -1-1.4 -6-0.2 -0.9 0.9 -0.3 6.9 0.4 0.4 0 6.7 -0.4 0.3 -0.1 6.9 -0.4 0.5 0.4 5.9 0 0 -0.4 7.1 0.5 0.7 -0.5 6.2 0.3 0.4 -0.4 5.8 0.7 1.1 -0.5 6.1 -0.6 0.6 0.3 6.5 -0.4 0.4 0.3 6.5 0 0.1 -0.1 6.8 0 0 -0.1 6.7 1.1 1.2 6.9-0.3M431.7 206.5l0.4 5.9M456.6 240.7l9.8 0.1M489 146.4l-14.1 1.9M464.7 144.7l9.4 1.9M473.8 191.7l3.2 9.3M475.4 189.9l11.3 3.4M488.7 176l-12.9-2.6M488.1 182.3l-12.1 2.2M500.6 173.1l-11 1.2M503.6 210.6l-0.4-8.4 -3.1-4.2 0.5-5.2 1.2-1.7 -1-3.3 -1.8-2.8 3.3-9.8M499 185l-9.8-4M474.1 175.7l-9.1-1.4 -1.5 1 -6.9-0.2 -0.1-0.1 -0.3-9.7M463.5 175.3l0.5 8.5 -0.5 0.7 1.2 6.5 2.5 2.1M464 183.8l10.2-2.4M464.2 163.8l0.8 10.5M558.8 177.2l13-8.9M578.3 172.3l-11.6 17.4M595 174.4l-1.5 11.2 4.9 6.6 0.7 2.2M580.2 172.5l2.9 14.6 -1.8 3 -12.9 4.3M593.5 185.6l-10.4 1.5M605.5 172.7l0.9 5.7 7.4 12.4M606.4 178.4l-8 13.8M467.2 319l-2.3-6.8 -0.2-0.3 -8.3 0.5M464.9 312.2l9.6-1.8 0.2-0.2 -0.9-6.7M472.9 320l1.6-9.6M485.2 300.5l8 0.2 0.3 0.2 2.5-0.3 6.3-5.8M492.4 291l0.8 9.7M528.1 245.3l-12.6 3.8 -1.8 3.8 -1 0.7 -3.6 8 -4.6 2M531.8 250.8l-5.3 4.5 -2.4 8.7 -6.9 1.3 -8.1-3.7M526.5 255.3l-12.8-2.4M539.9 233.1l0.4 14.5M514.9 240.1l0.6 9M504 244.4l8.7 9.2M598.7 265l3.4 7.9 2.3 1.7 1.4 0.4 3.8 2.1 7.3-2.8 1.3-6.8 -3.4-2.8 -3.9-0.8 -3.9-2.2 -3.9 0.4 -4.4 2.9 -1.6-0.5 -3.2 1.5 -12-0.8 -0.8 0.3 -0.6 1.3 -4.6 3.6 -7.7-1.1 -2 1.8 -8.4 0.1 -3.8-3.4 -1.2-5.1 -1.7-1.9 0.4-4.1 1.9-2.6 0.5-12.7M551.5 256.7l-10.4-9M533.8 251.3l5.4 12.3 -0.1 0.3 -0.3 6.4 2 3.1 0.5 7.7M551.1 260.8l-11.9 2.8M542.8 305l9.9 2.1M542.2 305.9l2.5 9.6M491.7 251.2l-4.4 4.9 -4 0 -1.6 1 -7.6-1M479.3 247.5l4 8.6M481.7 257.1l-1.4 7.2M511.6 210.8l2.2 10.9M563 507.4l1-8.1 -2.5-1.7 -3-5.6 -5.8 0.2 -1.6-0.4 -4.3 0.4M556.3 507.2l-1-4 -0.5-0.5 -8.4-1.2M555.3 503.2l6.2-5.6M560.1 520l5.4-10.2M554.8 502.7l-2.1-10.5M559.3 308.5l0.9 8 1.8 1.6M550.4 314.5l2.2 1.8 7.6 0.2M559 288.3l2.4-6.8 5-2.2 3.9 2.8M559.2 298.9l0.8-9.7M555.2 370.3l3.6-3.1 5.8 1M558.8 367.2l0.2-6.5M550.4 366.3l6.2-6.4M560.5 359.7l1.6-5.4 3.9-1.8 0.4-0.3 6 2.9 0.3 2.8 -5.5 3.1 -0.7 1.2M567.2 361l-1.2-8.5M568.2 372.7l5-0.5M572.9 366.1l-5.6-1.2M557.1 348.1l5 6.2 0 0M562.1 354.3l-7.1-0.3 -1.7-3.6M555 354l-0.5 4.2M603.1 336.8l0.8 7.4 -0.1 0.2 -4.9 3.6M610.3 343.8l-6.4 0.4M617 347.2l0.1-5.4 1.9-2.3 -1.4-4 -5.3-1.2 -2.5 1.6M611.1 340.2l6 1.6M663.6 375.9l-3.1 3 -2.2 8.5 1.1 2.1 2.4 1.5 6.7 0.2 2.5-2.7 5.2-0.1 3.6-6.1 -0.8-2.4 -6.8-3.3 -5.6 0.9 -3-1.6 -0.3-1.2 1.8-6.3 -0.3-5.1 3.4-3.3 4.4-2.4 0.2-2.1 -2.8-7.5 0.9-2.4 1.7-1.8 6.5-2 1.4-2.3 -1-7.8 -0.4-0.5 -8.2 0.8 -2.6 2.4 -8.3 0.7 -2 1.4 -0.1 0.1 -2.2-1.2 -4.5-10.3 -1-0.8 -0.7-2.5 -2.5-2.7 -6.8 0.5 -0.6 0.7 -6.8 4 -0.1 0 -3.7-4.1 -2.3 0 -4-1.7 -1.8-5.2 -2.9-0.4 -3.5 2 -2.4-0.2 -0.2 0.1 -3.6 6.6M626.7 320.2l-5.1 8M619.2 326.6l-0.1-5 3.6-3.1M614.5 314.9l1.4 5 3.2 1.7M577.8 293.8l-1-2.5 -7.7-2.8M576.8 291.3l3.1-9.4M679.2 417.1l-6.7-3.9 -1-4.7 -5.7-3.6 -2 0.2 -2.5 8.2 1.1 3 -2.6 4 2.9 6.2 0.4 0.2 6.3-2.3 0.3 0.2 8.2-0.4 0.5-0.3 5 2.6 6.8-2.8 1-3.3 -1.7-4 -6.4-1.7 -3.9 2.4 -0.8 6.8M659.8 420.3l-5.3-0.2 -0.5-0.5 -5.2-0.4 -2.6 2.9 -2.1 0.1 -4.8-2M654 419.6l0.6-5.9 -1.5-1.9 -5.8 0M661.3 413.3l-6.7 0.4M638 430.5l-8.6-1.7M610 434.9l4.7-0.6 4-3 0-0.2 3.2-3.1 0.4-5.6 0.5-0.8 3.4-0.3 5 1.5M618.7 431.3l6.7 7.4M621.9 428l7.1 1.3M637.6 447.2l-1.5-6.8 6.6-5.6M636.1 440.4l-4.3-3.6M574.6 415.3l-4.3 8.4 -5.6 2 -0.4 0.6 9.4 10.2 0.2-0.1 0.8-0.8 1.7-6.7 5.6-2.3 2.4 0.7 4.2-1.4 1.2 0.6 5.5 8M564.3 426.3l-2.9 2.2 -0.2 7.4 3.2 3.5 3.9 1.7 0.4 2 -1 7 -6.2 4.5M573.7 436.5l-5.4 4.6M606.3 403.8l3.7 0.2 2.6-1.4 4 0.3 2.5 3.3 0.3 1.4 1.9 2.2 -1.4 5.2 0.6 0.7 6.6-0.2 1.4-1.2 2.5-0.2 2-2.6 0.3-2.7 1.3-1.1 3.6-0.3 3.4-1.8M628.5 414.3l-5.3-4.8 -1.9 0.3M626.2 421.3l0.9-5.8M620.5 415.7l2.3 5.9M610 404l3.3 5.5 -1.4 4.1 1.2 2.9 -0.8 1.8 0.8 4.2 -0.5 1.6 -5.4 3.7M613.3 409.5l6.1-1.9M619.9 415l-6.8 1.5M578.3 416.1l3.7 10.5M570.3 423.7l6.1 5.2M608.1 449.5l1.6 9.7M613.3 447.2l4.9 5.3 4.7 0.2M618.2 452.5l-7.3 6.7M618 443.1l-3.3-8.8M615.1 444.5l-6.3-6.5M607.2 430.8l-10.4 4.4M633.3 408.8l-6.1-2 -4 2.7M627.2 406.8l-0.9-5.6M619.1 406.2l5.9-5.6M620.3 354.8l6.4 2.6 1.7-0.2 0.9-1.6 5.2-1.6 1.8-1.9 0-5.7 6.4-3.4 0.6-5.2 -2.1-2.7 0.2-2.9 0.8-1.4 8-6.5M618.8 355.9l2.6 6.3 -1 2.3 0.2 1.6 2.2 1.7 0.1 7.6 -1.3 1.5 -0.9 4.4 -3 2 -5.2-1.1 -2.3 1.7 -2.5 7.1M621.4 362.2l5.3-4.8M614.6 359.3l5.8 5.2M607 358l1.3-2.9 4.7-2.3M592.1 414.9l3-8.3M584.8 406.6l9.3-0.8M580.8 415.2l8.1 7.5 -0.3 3.2M592.5 415.8l-3.6 6.9M598.8 396.7l-1.5 9.6M591.2 395.9l-7.5-2.7M591.2 398.5l-6.9 3.6M583.8 405.1l-7.6 0.4M569.1 395.1l6.1-1.3 0.9 0.7 0.2 4M572.8 388.3l2.4 5.5M572.1 411.5l-5.1-8.3 -3.3-1.6M567 403.2l6-3.6M582.4 390.1l-6.3 4.4M582.4 388.6l5.4-1.2 2.1-1.8 -0.5-7.1 2.1-3.9M587.8 387.4l4 5.9M589.9 385.6l4.6 1.2M598.8 396.7l0.8-3.9 2.8-3.5M599.6 392.8l-5.4-2.4M581.4 387.3l0.8-5 -2-2.7 -5.4-2M589.4 378.5l-7.2 3.8M606.1 410.8l5.8 2.8M580.2 379.6l3.9-6.3 5.4-0.6M579.7 371.8l4.4 1.5M508.3 346.9l3.6 7.8 -0.2 0.4 1 5.8 0.4 0.6 -1.7 5.6 3.3 4.4 2.1 0.3 3.6 5.6M501 361.9l4.5-0.1 2.7 5.5 3.2-0.2M505.5 361.8l1.4-1 5.8 0.1M524.5 349.6l-6.4 0.6 -4-5.6M518.1 350.2l-1.4 3.3 -4.8 1.2M516.7 353.5l2 2.4 6.3-0.5M499.2 346.2l-6.7 7.1M496.5 339.6l-3.6 1.5 -0.7 12M505.8 347.9l-2.8 6.8 -3.4 2.1M511.7 355.1l-5.1 1.4 -3.6-1.8M513.1 361.5l4.3-0.1 0.2 0.2 7.1-0.3M517.4 361.4l1.3-5.5M506.9 360.8l-0.3-4.3M508.2 367.3l-2.4 1.5 -4.7-1.7M492.7 353.6l-2.1 9.6M500.2 363.7l-7.7 1M550.7 367.4l-4.9 3.1 -0.8 2.7 -4.5 3M545 373.2l5.2 3.5M550.7 388.2l-4.9-4.5M548 362.5l-8.7 2 -0.1 0.2 -2.5 1M541.2 355.2l-1.9 9.3M545.8 370.5l-6.6-5.8M525.7 445.3l-2.1-8.8 -0.2-0.3 0.4-8.1M523.6 436.5l9 0.5M516 444l-0.5 9.4 -3.1 3.2M515.5 453.4l8.2 0.3 1.9 2.9 3.6 1 4.8-2.9 1.7-7.5 -0.1-0.4M525.5 445.4l-1.8 8.3M561.2 435.9l-8.4 3 -0.6-0.5 -8.4 0M564.4 439.4l-3.7 4 -7.6 2.4 -1.1 4M552.8 438.9l0.3 6.9M523.4 436.2l-10.7 3.6M518.9 427.6l-6.8 11.7M510.9 424.1l-7.5-7.8 -1.7-0.1 -0.8 1.2 -0.7 9.9 4.8 2.4M557.1 415.3l5.8 5.1 1.8 5.3M557.2 413.2l5.4-1.8 5.1 1.2 4.4-0.7M562.9 420.4l4.8-7.8M561.4 428.5l-8.9-2.8M562.6 402.5l0 8.9M521.4 410.3l2.2-7.6M514.7 414.7l-5.4-1.6 -1.4-5.9 -3-2.1 -2.6-0.1M516.4 411.9l-1.8-6.9 1.1-2.8M507.9 407.2l6.7-2.2M503.4 416.3l5.9-3.2M517.1 526.5l-10.2-5.3 0.8-6.3 6.7-2.7M510.7 535.3l-5.8-12.3 2-1.8M433.7 460l3.9 2.8 1.4 2 -1.5 4.3 0.6 4.1 1.3 1.5 0.5 1.4 5.9 0.1 4.8-3.3 2.8 0.9 4.2 0.1 1.4 1.3 0.2 3.1 8.1 4 2.1 3.9 1.8 0.9 1 1.9 3.4 1.1 9.8-5 0.3-0.5 -0.9-6.5 0.9-0.9 3.2-10.8 1.7-0.5 2.7-4.5 0.7-0.4 7-1.6 2.6-5.9M485.7 484.6l15 3 1.3 0.7M485.7 477.2l7.6 0.3 7.4 10.1M534.9 481.2l-2.8 3.5 -2.6 1.2 -3.8 9.3M545.5 490.5l-8.4 0 -5-5.8M537.1 490.5l-5.4 7.1M614.9 300.7l1 3.9 -0.2 0.5 -6.1 2.9 -1.3-0.5 -2.8 0.5 -1.7 2.2 0.2 3.8 -0.9 1.7 -5.4 1.2 -0.5-0.4 -2.2-7.9 -1-0.9 -2.2 0.1 -1.9-0.9 -1.3-1.7 -1-9.5M615.9 304.6l8.1 0 1-1.4 -1.6-7.2 1.7-4.5 0-0.5 -1.2-1.4 -3.4-1.3 -1.8 0.2 -7.1-1.6 -2.3-5.1 0.3-4.7M620.9 313.3l3.4-2.7 -0.3-6M615.7 305.1l2.3 7.8M629 320.2l2.2-7.5 3.9-2.2 0.6-1.3 4.4-1.5 8.2 2.1 3.2-2.3 2.6-0.5 3.4 1.3 4.8-1.6 3.2-2.7 7.8 0.8 4.2 2.4 1.6-0.2 1.5 0.5 3.7 4.5 8.8 1.9 2.2 3.5 4.1 0.7 3.3-1.8 6.6 1.6 2.2-2.5 0.9-6.5M624.3 310.6l6.9 2.1M710.2 290.4l0.9 9.9 1.2 1.1 0.4 7.2M719.6 299.1l-7.3 2.3M699.9 227.9l1.1 14.4M678.5 243.4l13.2-5.2M688 254l10.4-11.4M184.2 576.8l-6.5 9.2M500.7 540.1l-5.2-10.3 -6.7 0.9 -3.3 4.2 -4.2-0.1 -2.6-2.3 -3.7-11.8 -1.6-0.9 -1.1-1.8 -5.5-2.7 -1.8-0.1 -4.3 2.8 -1.1 5.7 0.3 0.8 -1.8 3.9 -6.2 2.9M506.5 537.9l-6.7-11 0.7-2.3 4.4-1.6M499.8 526.9l-4.3 2.9M496.8 542.2l-9-4.7 -2.3-2.6M488.8 530.7l0.3-5.1 3-4 -1.4-9.7 -1-0.7 -1.1 0.1 -6.9-5.2 -0.4-1 -6.4-2.6 -0.9 0.1 -2.2 3.1 -3.9 0.3 -1.4 1.1 -7.3-1.6 -0.2-1.2 -4.8-4 -1.2-5.5 0.7-1.4 -3.2-7.3 0.5-1.1 6.5-3 1.7-3.7M492.1 521.6l7.4 2 1 1M489.7 511.2l1.8-4.8 3.6-3.5 2.3-8.8 4.5-3.5M490.7 511.9l7 1 4.7-1.4 5.3 3.4M495.1 502.9l8.1 2.8 3.8-5.8M503.2 505.7l-0.8 5.8M489.1 525.6l-8.1-7 -6 2.1M481 518.6l7.6-7.3M499.5 523.6l-1.8-10.7M481.3 505.1l1.7-4.9 4.5-3.2 0.6-1.6 9.3-1.3M483 500.2l-5.2-5.4 -0.3-1.7 -1.9-3M488.1 495.4l-0.6-0.9 -10-1.4M491.5 506.4l-4-9.4M474.9 502.5l2.9-7.7M485.4 485.1l2.1 9.4M542.2 562.5l-4.9 6 -7.2-1.1 -2.9-2.7M537.3 568.5l1.6 6.9 3 2 6.4-2.5 2.9 0.9 2.7 7M530.1 567.4l-1.1 8.9 2.5 1.8 7.4-2.7M520.7 577l8.3-0.7M531.3 583.3l0.2-5.2M541.9 577.4l-0.2 7.8M548.3 574.9l-1.7-12.5M557.3 549.8l-7.8 12.3M558.6 565.3l-1.3 6.5 -6.1 4M515.1 556.2l-8.7 3.2 -1.3-0.7 -8.2 1.6M509 566.9l-2.6-7.5M269.2 534.9l-5.6 6.9 -4.3-0.5 -4.1 3.9 -1.7 0.7 -6.2-1.6 -4.2 1.4 0 0.1 3.5 10.6 -0.9 3.5 0.2 1.3 6.6 5 3.6-1 6.4 3.7 -0.1 8.1 4 4.8 5.9-2.8 3.3-8.8 2.7-1.6 9.6 3 0.5 0.4 1 6.1 -5.3 5.9M272.3 579l8.8 4.9M719.9 504l-5.5-1.1M711.4 505l1 4 -2.8 5.7 -3.8 1.1M712.4 509l7.7 3.2M709.6 514.7l6.7 5.3 -1.4 2.8 -9.8-0.5M714.9 528l0-5.2M640.9 456.8l7.6-2.2M648.8 454.3l-9.2-7.3M632.1 449.8l5.4-2.6M639.8 465.5l3.5 13.2 -1.1 2.4M643.3 478.7l9-9M649.8 453.9l7.1 3.1M657 459.8l9 5.1M714.9 483.6l-1-5.9M691.1 470.7l8.8-4.4 2.1 0.7 5.2-0.6M698.3 475.2l3.7-8.2M714.2 487.1l-2.9 0 -5.7-3.9 -3.3 1.3M711.3 487.1l-8.6 6M675.5 529.5l-6-0.7 -2.2 1.7 0.8 7.1M661.7 520.4l-6.9-1.4 -1.8-4 -3-1.6 -6.1-1.3 -3.1 2.2 -6.4-1.4 -2.7 1.1 -2.7 3.8 -5.7 1.4 -1.1 1.3 -4.2 1.5 -5.3-5 -4.5-0.7 -0.5 0.2 -0.4 6.3 7 4.3 0.2 0 3.3 6.1 0.1 0.2 4.9-1.2 2.6-1.6 6.4 0.7 0.4 0.5 7.3 1.4 3.1-1.7 3.4 0.1 1.3-0.8 4-1.2 2.7 1.4 3.3 5.8 0.8 0.8 1.2-0.1 3.8-8.7 -1.6-2.5 0.2-5.9 0.8-0.5 3.2-0.7 2.9 0.5 2.1-0.4 4.6-6.5M659.3 537.5l6.5 2.4M663.1 528.8l4.2 1.7M669.6 480.7l-1.4 7.7M681.8 496.3l-4.1 4.8 -6.2-1.9M679 525.6l-8.3-6.3M669.5 528.8l-0.9-9.1M661.5 526.3l-7.5 4.7M658.1 537.6l-3.3 5.9 -3 1.3 -2 4.1 2.3 4.8 4.9 1.8 0.8 0.6M657 555.5l0.6-9.2 -2.8-2.8M657.3 536.8l-9.3 1.4 -0.4 2.1 4.2 4.5M664.6 546.8l-7-0.5M644.8 559.4l7.3-5.7M602.3 561.4l2.7 2.2 7.2-0.7M605 563.6l-0.3 9.3 -0.8 0.6 -1 4.7 -4.4 2.3 -5.6-1.6 -2.6 1.5 -7.1-1.9 -1.4-6.5 0.2-0.3 7.2-2.1 1.7-5.1M604.7 572.9l9.9-2.3M613.4 559.2l5.7-1.2 0.9-0.7 1.1-7.4 -2-1.7 -8 1.3M619.1 558l2.7 9.6 6.2 0.5M621.8 567.6l-7.1 2.8M628.1 568l-1.4-8.7 2.8-3 2.9-1 1.6-5.3 2.6-1.7 4.2 0.4 0.3-0.2 8.7 0.4M626.7 559.3l-6.7-2M636.6 548.3l-1.6-5.5 -4.5-3.7 1.7-7.3M641.1 548.5l2.1-6.5 4.4-1.7M635 542.8l4.9-4.9 -0.4-4.7M643.2 542l-3.3-4.1M643.2 558.8l-2.4-10.1M678.4 460.2l6.6 9M679.8 458.8l9.5 3.8 0.8-0.9 -0.4-10.2M689.3 462.6l-1.4 7M690.1 461.7l6.1-0.1 3.7 4.7M509.2 175.6l2.9-9.4 7-3.9M512.1 166.2l-10.8-2M489.3 167.1l10.3-5.1M475.2 110.6l-1.1 12.7 1.5 1.6 9.1 0.5M474.1 123.3l-10.6-0.5 -2.4 4.4 2.3 7.7M462 114.7l1.5 8.1M475.6 124.9l-3.2 9.7M398.7 169.8l3.6 3.5 1 9.7 1.6 3 -1.2 3.2 -3.2 1.4 -8.3-1.6 -2.7-7.9 -1.3-2M402.3 173.3l11.4 2.1 0.9-1.1 1.2-12.6M413.7 175.4l0.3 7 1.4 1.3 0.7 7.8 -0.9 1.4 1.5 5.9 -1.8 3.2 1.5 3.8 -1.9 4.3 1.8 2.8 -1.5 6 0.9 1.1 -0.1 6.1 -0.6 0.7 0 6.3 -0.3 0.4 0.2 6.8 -0.1 0.1 0.5 6.3 -0.5 0.6 -0.6 6.7 0 0.1 -0.3 6.7 0.3 0.4 0 6.5 0.3 0.4 0 7.3 0.1 0.1 -0.4 5.5 1.1 1.9 6.4 1 1.1-0.6 7.7 1.6M404.9 186l9.1-3.6M654.2 230l-7.5 3.3 -8-0.2M646.7 233.3l3.2 10.1 -0.6 1 1.1 7.4M657.6 240.2l-7.7 3.2M624.4 209.8l2 8.8M606.7 135.1l-13.6 6.6 -3.1-1.3 -10.3 2.6 -2.9 3.8M593.1 141.7l1 13.7M581.5 171.9l5.5-15.1M560.7 333.4l3.9 0.8 2.2 2.1 3.6 1.9 0.7 6.3 -4.3 2.7 -0.4 5M566.8 336.3l-3.6 8.8 3.6 2.1M326.1 553.1l-9.7 0.4 -6.7 4.3 -0.2 0.4 2 4.6 3.8 2.9 1.3 4.2 -2.5 4.2 -0.4 5.4 -2.2 2.1 -8.7-2.9 -4.3 3.1M314.1 574.1l-10-1 -0.5-2 -6.2-3.6 -9 4.5M302.8 578.7l1.3-5.6M297.1 582l-7.7-3.9M313.7 579.5l9.3 3 2-7.9 -1.5-1.9 -6.9-2.8M344.6 585.6l-2.1-11.2M352.8 584.1l1.5-8.1 2.4-0.6 6.6 3.9 2.4 4.7M354.3 576l-8.2-4.1M333.6 584.7l2.7-9.4M429.6 586.9l-2.8-9.7 -0.1-0.1 -8.4 0.1 -0.5 0.4 -1.5 8.2M426.8 577.2l8.2-0.9 2.8 3.9 8.6-3.8 1 0.9 2.7 8.1M429.4 545.3l-2.4 14.4 1.2 1.2 9.4-1 1.3 1.1 8-1.9 2.9 2.2 7.8 0 2.2 3.9 -2.3 5.4 0.9 4.2 3 3.3 4.3-1 1.5 0.9 10.8 1.3 2.8-4.8 5.4-1.2 3.7 3 7 1.8 5.1-4.9M418.3 547.3l0 9.6 -1.4 1.4 -1.3 5.8 -7.4 3.1 -1.2 2.5 0.9 3.3 -3.5 5.2 1.1 6.1M418.3 556.9l8.7 2.8M418.1 547.2l-12 2.4 -1.1-0.9 -0.5-6.5 -5.7-4.1 -1.5 0.4 -8-4 -1-3.1 1.2-1.9 7.5-2.6 5.6 4.1 4.5-1.2 1.8 1.7 7.4 2.4M416.9 558.3l-10.5-1.9 -1.7 2.3 -8.1 1M406.1 549.6l0.3 6.8M408.2 567.2l-3.5-8.5M388.3 531.4l-9.7-1.4 -1.8 0.9 -6.1-1.5 -1.9-6.9 -2.9-2.2 -6.5-0.9 -2.2 1.5 -0.6 9.5 2.5 3.3 -0.3 2.9 0.1 0.1 -2.7 10.6M358.9 536.7l9.1 6.6 0.1-0.1 0.5-0.5 6.6-1.8 2.1-4.2 -0.5-5.8M358.1 549.5l6.2-1.4 3.7-4.8M368.1 543.2l8.3 9.4M364.3 548.1l4.9 8.5M347.5 554.2l9.7 1.7M327.7 555.5l1.6 0 8.2-3.8 2.9-6.6 -2.6-3.2 -3.8-1.7 -3.3 0.8 -4.8 4.6M337.5 551.7l6.7 7M347.2 546.1l-6.8-1M344 562l-5.8 0.1 -8.9-6.6M423.9 503.6l-4.3 5.2 -3.6 0.3 -1.7-1.7 0.3-6.1 3.9-2.1 4.2 0.3 0.2 0 0.6 0.6 0.4 3.5 5.2 3.6 0.7 1.9 -2.2 7.7 0.1 0.7 0.3 0.6 0 0.9 -11.8 3.6 -0.1 0.1 -5.4 0 -2.9 3.3 -0.7 3.8M416.1 522.7l3.5 9M397 526.9l1.1-6.8 1.1-1.9 0.1-0.6 -5.4-5 -3.9 0.5 -3.7 6 -5.3 0.3 -3.4-2.7 -0.2-1.2 -7.2-7.2 -0.1-0.2 3.7-8.1M399.2 518.2l8.6 7.8M415.7 541.5l-8.6-0.9 -2.6 1.6M408.9 531.5l-1.8 9.1M437.6 546.4l3.3-7.4 -1.1-8.1M440.9 539l9.4 1.4 3-2.4M450.3 540.4l-3.3 8.1M442.3 355.6l-5.5-4.4M437.4 367.4l-5.7-2.1 -5.6 3.3M431.7 365.3l-0.8-2.8 -6-4.4M430.9 362.5l3.6-5.2M425.1 356.2l8.3-0.9M356.4 377.8l-6.2 4.2 0.1 4.6 -0.3 0.3 -1.6 6.9 4.5 4M355.5 373.2l-6-2.2 -2.4 2 -1.2 5.4 -5 2.2M345.9 378.4l4.3 3.6M358.1 354.2l-7.8 1.4 -1.9-2.1 -5.2-0.6 -3.6 2.4 -5.2-2.1 -0.9-1.3 0.5-7.8 -0.1-0.2 -9.6-0.7 -0.1-0.3 1.5-8.3 -0.6-0.9 -8.8-1.9 -1.4 1.3 -6.5 0.5M358.5 363.5l-8.2-1.1 -1.7 2 0.9 6.6M350.3 355.6l0 6.8M339.6 355.3l0 7.2 0.8 0.8 -0.7 7.8 -1.2 1 -8-2.2 -0.7 0.9 -0.2 8.5M324.3 343.2l-2.2 7.6 0.7 1.2 0.3 6.9 0.9 1.3 4.6 1.6 2.4 2.6 8.6-1.9M331 364.4l-0.5 5.5M337.9 379.2l0.6-7.1M347.1 373l-7.4-1.9M348.6 364.4l-8.2-1.1M395.4 322.3l8.5-1.4M413.3 322.6l-7.8 0.7M232.7 351.6l2-10.1M234.8 341.4l6.8 2.4 0.9-0.6 2.2-7.8 -1.2-1.6 -7.2-1M241.2 351.2l0.4-7.4M262.3 262.7l-1.5 9.5 -0.4 0.2 -6.6-1.9 -1.3 0.9 -2.1 8.1M270.2 264.7l-0.8 8.1 -0.9 0.5 -7.7-1.1M253.3 262.3l0.5 8.2M329.7 279l-2 7.9 -0.2 0.2 -7.7 0.4 -0.6 0.6 -8.7-2 0 0 -9 0.1 0 0 -6.8-1 0 0 -9.4-1.1 -0.9-1.1 -7.6 0 -0.3 0.3 -1 9 -0.8 0.7 0.2 7.7 0.3 0.4 7.5 1.2 0.6 0.6 -0.7 7.3 -1.8 1.5 -6-1.4 -2 1 -6.7-1.7 -0.7-0.9 -9 0.5 -1.1-1 1.3-8.8M255.3 308.2l-6.9 0M256.4 309.2l-0.3 8.8M239.1 306.6l8.5 0.6M237.7 304.4l3-7.3M257 299.2l8.2 2.3 0.9 1.2 -0.7 6M263.8 318.9l2.3-9.3M334.4 353.2l-5.8 8.6M296.8 359.6l7.5 0.4 2-1 4.7 0.3 1.1 1.1 1.3 8.9 -1.3 0.9 -7.2-0.2 -2.1 1.1 -9.3-3.8M306.3 359l-2-9.5 1-1.3 -0.7-6.2M304.3 349.5l-8.7 3.1M438.1 301.5l-6.4-0.1M430.5 293.7l9.3-1.4M448.4 285.4l-8.2-0.3M441.4 275.7l-2.1 8.3M439.9 274.6l-8.8 1.2M438.7 320.8l-1-8.8M431.7 310.5l-1.9 8.9M423 327.3l-0.2-8M386.5 328.9l-0.4-7.6 -1-1.3 -5.8-0.3 -1.2-1.6 0.3-7.9 -0.6-0.6 -7.6 0 -0.3 0.2 -1.8 8.2 0.8 0.7 1.7 8.6M377.1 327l2.2-7.3M377.7 337l1.6-7.6M395.1 321.8l-9-0.5M388 314.3l-2.9 5.7M291 509l10.2-5.3M303.6 505.8l12.2-6.3M368.8 522.5l8.8-5.8M365.9 520.3l4.3-12M359.4 519.4l-0.4-8.4 1.6-2.5 -2.6-6.9M360.6 508.5l9.5-0.4M352.8 501.1l-4.7 8.5 -0.9 0.5 -2.4-0.5 -9 5.7 -0.5 1.1 3.3 5.9 9-1.2 2.3-1.8 7.3 1.6M349.9 519.3l-2.7-9.2M359 511l-10.9-1.4M356.6 530.4l-8.3 0.4 -2.7 1.9 0 0.1 3.8 6.7 -2.1 6.5M358.8 536.6l-9.4 2.9M347.6 521.1l0.7 9.7M337.8 541.9l7.8-9.1M338.6 522.3l-1 5.2 8 5.2M359.1 533.7l11.4-4.1 0.2-0.2M370.5 529.6l-1.9 13.1M386.3 519.1l2 3.2 1.2 7.2M381 519.4l-2.4 10.6M398.1 520.1l-9.8 2.2M337.6 527.5l-2.1 1.6 -12-1.4 -0.9 0.3 -0.3 1 -6.1 6.8M334 540.2l1.5-11.1M372 447.6l3.8-9.2M337 445.1l9 0.1 0.6 1.2 3 2.1 2.6 6.3 -0.9 1.1 -0.9 7.8M346 445.2l1.1-6.6M338.2 435.9l-3.9-2.1 -2.2-3.7 -5-1.3M327.2 437.6l7.1-3.8M338.8 435.7l3-9.5 2.2-0.3 1.2-0.5 2.2-3 0.1-4.2 0.2-0.2 5.8-3.1M347.9 438l-3.9-12.1M351.5 436.8l1-6.3 -7.3-5.1M314 452.2l1.4 8.3 3.5 3.5 0.8 0.4M315.4 460.5l-10.9 3.7M301.1 447.1l4.7 7.2M339 463.7l3.6-7.5 -1.4-3 -5.8-2.5M342.6 456.2l8.7-0.3M341.2 453.2l5.4-6.8M360.1 454.5l-7.9 0.3M362 448.5l-6.4-4 -0.6-6M355.6 444.5l-6 4M410.7 522.7l-1.5-6.3 -3.9-2.2 -6 3.4M303.6 433l3.6 2.8 0.4 8 7.5 2.6M301.3 446.2l6.3-2.4M288.8 440.1l9.9 0.8M317 441.7l-1.3-4.6 -8.5-1.3M283.6 512.7l-5.7-8.8 4-6.1 0.2-2.2M281.9 497.8l8.3 9.9 0.8 1.3M292.4 494.5l-2.2 13.2M254 327.1l8.2 0.4 0.9 1 8.6-1.1 0.5 1 7 2.7 1.9-1.9 1.6-8.1M262.2 327.5l2.1-8M271.8 321.4l-0.1 6M272.3 321l0.5-9.7M190.6 158.5l-22.3 1.5 19.9 9.4M200.7 170.7l-12.1-0.4M186.8 205.2l-7.9-2M193.5 215.6l-7.7-3.1M219.6 200.9l8.6 0.8M210.1 191.2l9.3 2.2M231.2 184.9l-2.1 8.6M238 185.9l-1.3 9.3M437.6 151.5l1.4 1.9 0.5 10 1.6 1.5 9.3-0.7 1.5-1.1M451.2 157.7l-12.2-4.3M416.9 160.8l6.9 2 3.1-0.8 6.2 3.9 6.4-2.5M434.3 151.8l-7.4 10.2M423.8 162.8l1.9 10.6 -1.8 1.5 -9.3-0.6M433.1 165.9l0.1 7.3 -1.2 1.1 -6.3-0.9M274.2 151.5l3.3-10.8M288.8 129.6l-2.9 11.3M347.5 144.1l-9.9-5.5 0.1-5.1 -1.2-1.5 -1-4.2 -8-4.9 -0.2-0.8 3.5-10.4 0.8-0.9M350.2 129l-12.5 4.5M387.6 142.1l-5.9-7.4 -8.1-3.5 -9.4 4.4M362.5 135l1.5-15.3 -2.8-2.8 -7.5 0.2 -3.8-5.7 0.2-1.9 0.4-0.7 -0.3-12.5M364 119.7l10.6 0.5 0 0 5.6-0.5 3.6 2.6 10.4 0.1M374.6 120.2l-1 11M363.2 158.9l7.9-14M380.2 159.4l3.6-14.2M245.9 121.3l-5.6 12.5M252.2 152.1l-12.1-3.3 -0.7-2 4.7-8.4M209.9 266.5l8.1-0.2 0.8-0.6 1.1-7.3M217 275.8l1-9.5M184.4 307.6l-0.4 8.4M183 326.1l-3.7 7.4 1.7 2.1 7.4 0.6 0.7-0.5 1.1-8.1 -0.1-0.2 -7.1-1.3 -1.3-1.9 -9 0.1M181.7 324.2l1-7.2M197.3 244.4l0.6-8.7M187.7 242.4l2.7-7.4M187 251.8l-0.1-8.8M330 195.1l-9.8 0.9M349.9 162.9l-5.2 8.4 2.7 4.6 -1.7 5.8 1.3 4 -3.4 6 0 4.4 -0.4 0.6 0.2 10.8 1.1 1.5 -1.1 5.4 -0.6 0.6 -8.1 1.1 -5-4.1M344.7 171.3l-5.3-2.3M364.9 169.5l-4.6 3.3 -12.9 3.1M245.2 196.3l1.4-8.6M249.2 176.7l-2 10.7M252.4 206.5l1.9-8.5M245.7 205.6l-0.3-9M251.7 215.3l0.7-8.8M254.1 188.5l-0.2 9.1M315.9 241.3l-2.2 8.4 0.4 0.3 8.4 1.4M313.7 249.7l-7.8-0.2M330.2 251.5l1.1-8.3 1-0.7 0.6-7.6 1.4-1.1 4.3 0.5 1.9 1.7 7.9-0.3 0.2-0.2 8.3 0.1M331.3 243.2l-8.5-1.5M324.5 234.4l8.4 0.5M332.3 242.5l7.5 2.2M337.9 251.7l-6.4 1M278.9 265l-0.7 8 -2.1 1.4 -6.7-1.6M379.5 273.8l0.3 8.1M386.4 291.3l-6.4-0.3 -0.7 0.5 -1 8.8M380 291l-0.7-8.7M359.9 335.5l-0.3-9.4 1.4-0.9 1.3-6.7 -1.6-1.3 -1.2-7.2M368.9 329l-7.9-3.8M386.1 310.2l-7.7 0M378.1 318.1l-9.2 0.6M362.3 318.5l5.8-0.5M364.8 255.9l-8.7-2.4M325.4 224.6l7.2 0.5 1-0.9 1.1-8.1M334.3 233.8l-1.7-8.7M348.3 244.1l0.1-8.4M339.8 244.7l0.7-8.7M373.2 227.4l0.5-10.4M374.6 228.6l6.4-0.8 1.5-1.4 0.2-7.4 -2.8-3.3M381 227.8l2.2 9.2M414.9 202l-6.9-0.6 -0.8-0.8 -7.3 0.5 -0.9-0.9 1.5-9.6M407.2 200.6l0.8-7 -4.3-4.4M386.5 205.7l4.1-6 -0.9-6.5 2.5-4.2M399 200.2l-8.4-0.5M399.9 201.1l-0.5 8.4M447.4 255.9l-7.2 0.3M447.8 248.6l-8.2-0.8M198.9 226.9l-6.6-1.6M265.2 301.5l1.7-9.6 -0.1 0 -7.1-0.9M266.1 302.7l8.8-2M274.7 293l-7.8-1.1M276.5 283.3l-8.8-0.8 -0.3-0.4 -7.8-0.3M267.7 282.5l-0.9 9.4M249.5 297.4l1.1-8.1 -0.8-0.9 -8.1-0.4 -0.2-0.2 -8.5-1.4 0 0 -0.1-7.7M259 290.1l-8.4-0.8M268.5 273.3l-1.1 8.8M260.4 272.4l-1.6 8.4M222.2 302.9l-0.1-7.9M186.5 494.6l-4.8-3 -6.9 4.1 8 11.2M183.2 506.2l10.2-5.7 -0.3-7M288.2 467l-9.5-7.2M278.1 459.9l-2.7 6.8 -6.2 4.1 -0.4 1.3 5.3 7.2 0 0.9 7.2 7.3M275.4 466.7l7.7 5.8M274.1 479.3l9-4.7M269.2 470.8l-4.1-6.8 1.3-8M182.8 507l-11.8 1.7M187.3 548.9l-2.1-7.4 -8.6-1.9M183.2 372l-6.6 0.3M236 325.2l-7.7-2.4 -0.5-0.7 1.9-8.4M228.3 322.8l-2.1 10.2M247 326.2l-3.5 7.6M213.4 303.1l-2.2 8.5 1.1 1.1 7.1-0.2 0.3 0.3 9.7 0.6M211.2 311.6l-8.1-1.3M192.1 380.5l1.5-8.3 0.5-0.3 3.1-6.7M193.6 372.2l-9.4-1.5M176.8 360.8l7.6 3.7M194.7 362.7l-0.3-7.8M184.6 364.3l2.4-10.7M181 335.6l-1.6 7.5 7.6 2.5M178.5 353l7.6-0.5M188.1 344.6l0.3-8.4M193.2 418l2.4 2.7 -0.2 8.3 -2 2 0.4 7.4 -1.7 1.7 -7.8-2.5 -2.9-3.7 1.5-5.9 1.5-0.8 1.9-6.7 1.9-1.5 5-1 2.2-5.8 1.2-1.2 6.9 0 1.1-0.8 0.9-8.7 1.3-0.9 1-3.8 -2.6-5.7 3.5-6 0.6 0 5.6 2.3 4.7-2.5 2.3-5.5 7.1-1.5 1.2 1.2 6.5 0.6 2.8-0.9 2.9-6 6.3-0.7M207.8 396.8l7.9-3.2 2.8 2.8 5.9-0.7 2.4 2.8 6.7 1.3 0.1-0.1 9.5-1.3 1.7 1.6 8 0.3 0 0 1-7.5 2.9-2.1 0.9-7.2 1-1 5.5-0.8 0.6 0.5 9.9 0.8 0.9 2.3 -1 6.8M215.7 393.6l-0.8-6.2M196.7 391.7l8.5-0.6M208.7 385.1l-6.8-4.9M194.1 371.9l8.1 5.3M459.8 336.4l1.9-7.7 1.7-1 5.1 2M463.4 327.7l0.2-6.6M446.5 320.4l8.6 1.7 2.5-2.8M445.6 321.1l2.1 8.3M455.1 322.1l0.2 4.5 -3.1 3.7M461.7 328.7l-6.4-2.1M414.3 507.4l-8.3 0.3 -2.2-2.9 -5.4-0.9 -1.3 1 -3.2 7.7M414.6 501.3l-6-3.8 -0.4-3.4 0.3-0.8 -0.8-5.4 -7.7-4.5M408.6 497.5l-4.8 7.3M409.2 516.4l5.7-2.7 1.1-4.6M405.3 514.2l0.7-6.5M382.4 415.9l0.7-6.1 1.4-1M376.5 410.6l6.6-0.8M393.6 447.2l0 6.3 5 2.7 0.2 6.8M398 445.3l4 3.2 0.4 5.1 -3.8 2.6M393.6 453.5l-1.7 0.9 -7.9-0.3M409.8 444.3l-7.8 4.2M402.4 453.6l6.4 1.6 4.7-5M381.8 474.8l10.1 0.1 1.1-0.5 6.4 1.2M391.9 474.9l-5 9.3 -6-0.8M371.5 481.4l8.8 1.1M427.6 516.8l-8-8M443.9 445.4l-7.7-1.5M445.8 442.9l-6.5-5.2 -4.2 2M448.8 441.8l3 10M449.5 441.2l0.4-0.1 2 0.4 6.4-2.4 0.6-0.6 1-4.8 -1.9-1.8 -2.4-0.6 -1.4 0.6 -6.5-1.6M456.6 450.1l0.7-3.4 2.1-1.2 5.7-0.5M457.3 446.7l-5.4-5.2M440.7 419l-2.5-8.8M444.5 418.7l-0.6-8.6 2.6-1.6 1.3-4.7 1.1-1 2.2-0.7 0.2-0.4 5.7-3.7 1.2-2.4 -0.5-2.6M438.9 409.3l5 0.8M430.8 426.5l0.9-0.8 3-7.6M431.7 425.7l6.9-1.5 1.4-5M434.4 403.9l0-3.3 3.3-7.2M437.4 405.3l3.8-3.1 6.6 1.6M441.2 402.2l-0.5-4.7 -2.4-4.2M451.8 384.5l-2.3-5.4M466.8 377.6l-5 7.2 -2.2 0.9M461.8 384.8l7.6 1.6 3.1-3.6M459.8 389.9l4.6 2 5.1-1.4 3.2 3.7 0 0 5.8-3.4M469.4 386.4l0.1 4.1M458.1 413.9l5.4-0.1 3.2-3.5 -1.5-5.8M468.3 420.3l-3.3-1.3 -1.5-5.2M465 419l-5.2 2.6M461.7 369.2l4.7 0.2 2.6 4.3 -2.4 3.2M466.4 369.4l4.2-6.6 0.2-1.3 -1.2-2.1M469 373.7l3.8-1.5 1.1 0.4 1.9 2.1 3.2 0.1 3.3 3.4 1.4 0.4M472.8 372.2l-2.2-9.4M432.7 382l0.2 0 7.7-4.3 0.8-0.8M432.9 382l5.1 2.3 0.4-0.2 4.9-0.4 1.2-4.4M440.6 377.7l-2.2 6.4M438.8 479.3l1 4.5 -3.5 4.3 -4.7 1.3 -1.4-0.9 1.2-7.3 1.1-1 6.3-0.9 1.1-3.2M432.5 480.2l-3.7-5.1 1.4-2.7 -1.1-2.1 -4-2.9 0 0 4.5-7.5M430.2 472.4l7.9 0.8M513.3 441.2l-7.4 12.5M516.9 466.8l8.7-10.2M465.7 443.1l-6.8-4.6M459.4 445.5l-1.1-6.4M451 485l-0.5-1.9 -4.7-6.9M450.5 483.1l2.9-9.3M483.7 335.8l2.5 5.4 -0.6 2.7 -5 3.2 -5.8-2.5M486.2 341.2l6.7-0.1M492.1 353l-6.5-9.1M389.7 193.2l-10.5-0.5 -3.3-3.3 -5.6-0.7 -1.2 1 -2 8.8 1.7 5.2M375.9 189.4l11.7-10.4M403.3 183l-13.8-1.9M380.6 204.1l-1.4-11.4M368.7 174l1.6 14.7M464.5 213.5l-8 0M456.2 220.5l8.7-0.1M466.1 205.8l-9.7 0.8M431.6 206.4l-7.5-0.5M431.4 198.7l-7.3 0.5M439.6 199.5l-7.3 0.3M466.7 233.4l-10 1.2M448.2 191.4l0.2-8.2 -1.3-1.3 1-6.9 -0.8-0.9 -6.1-1.5 -0.7 0.5 -7.3 0.1M447.3 174.1l3.1-9.9M441.2 172.6l-0.1-7.7M456.5 175l-8.4 0M464.7 191l-7.9 1.6M463.5 184.5l-7.3-1.1 -0.3-0.4 0.7-7.9M456.2 183.4l-1.1 7.7M465.3 200l-8.8-1.2M522.5 197.1l-9.8 2.9 -0.7 1.6 1.5 7.3M522.8 191.7l-14.1 0.8 -1.6-1.1 -5.3-0.3M512.7 200l-4-7.5M512 201.6l-8.8 0.6M570.6 165.2l8.9-13.1M564.2 159.9l6.5-13.7M554.6 173.5l6.1-13.9M541.1 174.9l-8.1 14.5 -8.5-1.7M538.5 193.6l-5.5-4.2M552.4 198.6l-6.3-8.3M464.7 311.9l1.3-7.8M456.1 312.2l2.7-9.3M464.4 293l-1.9 9.2M483.3 302.5l2.1 9.4 -1.2 0.8 -2 6 -0.5 0.5 -8 1.7M474.7 310.2l9.5 2.5M485.4 311.9l5.2 0.4 3.5 5.8 6 0.4 0.2 0.3 8.5 1.7 3.6-1.9M490.6 312.3l2.7-4.1 0.2-7.3M539.1 263.9l-13.4 1.4 -1.6-1.3M566.2 271.1l0.2 8.2M561.4 281.5l-4.4-4.4 0.8-5.9M481.7 265.9l-2.7 7.3M488.8 265.8l-1.2 9.5 4.1 2.3 1 2.3 4.2 1.6 3.3 5.1M487.6 275.3l-5.5 1.3M487.3 256.1l2.4 8.9M491.7 277.6l10.7-11.8M489.1 285.8l3.6-5.9M507.1 284.2l1 7.2 -3.4 4.1M496.9 281.5l7.3-6.8 0.4-4.6 -1.3-4.6M507.7 283.6l-3.5-8.9M508.3 300l5.2-2.2 2.1-3.5 -1.2-2 0.1-8.4M514.4 292.3l-6.3-0.9M475.3 212.8l-0.1 6.5 0.5 0.4 3.1 9.1 2 1.9M475.2 219.3l-7.8 4M478.8 228.8l-12-0.5M497.5 220.5l-8-1.9 -2.1 2 -2.4 8.6M487.4 220.6l-11.7-0.9M456 226.9l10.7 1M502 211.9l-11.6-6.6 -0.9 0.2M489.5 218.6l-2.3-6.7M512.9 223.1l-13.1-4.4M500.1 198l-9.7 7.3M486.8 193.2l13.8-0.4M534.2 316.4l10-0.4M533.8 306.9l-7.5 2.3 -1.8-1.6 -5.7 1.6 -2.1-2 -8.1 0.5M527.9 317.2l-1.6-8M525.1 326.3l-1.6 8.2 -5.6 1.7 -1-1.1 -1.4-5M530.8 328.9l-0.9 6 1 1.2 1.2 3.1 4.6 2.8 0.1 0.3 -0.2 1.1 -4.1 4.5 -6.5-0.8M529.9 334.9l-4.1 1.1 -2.3-1.5M564 499.3l5.9-1.2M570.7 510l3.1-8.2M558.5 492l5.4-6M584.4 517.4l-10.4-3M584.3 505.9l-10.6 7.6M566.4 298.3l0.1 6 -0.8 1.9M615.9 319.9l-5.2 4.4M613.4 327.5l-1.1 6.8M604.9 335.2l-1.1-4.8 -0.4-0.4 -1.2-6.2M610.9 325l-7.1 5.4M571.1 344.5l0.2 0 8.6-1.3 1.4-2.2 0.4-0.3 3.5 0.6 1.5-0.2 3.3-2.4 0.9-5.4 -0.2-1.7 0.5-0.4 3.3-0.5 2.4-1.6 6.5 0.9M571.3 344.5l5 7.6 3.8-0.2 0.9-0.9 5.7-0.2 1.7 0.5 1.3-0.3 2.6-2.9 3.6-1.5M572.4 355.1l3.9-3M581 351l-1.1-7.8M548.2 346.6l4.8-4.6 5.1-0.1M546.7 355.7l3.4-5.7M563.2 345.1l-4.1-1.1M612.5 348.1l-5 1.2 -1.5 1.9 -5.6 0.4M607.5 349.3l-3.7-4.9M608.3 355.1l-2.3-3.9M632.7 324.3l-2.3 3.9 -5.6 3M632.8 324.3l8.6 7.9M641.2 335.1l-6 0.4 -3.3 2.5 -4.6 0.3M635.2 335.5l-4.8-7.3M577.1 280l-1.2-9.6M552.8 262.7l13.5-2.4 0.5-1 -0.3-4.3 -2.7-2.9 -0.6-11.3 2.5-1 11.5 1.6 5-6 -0.9-5.6 -6.8-5.6 -0.9-6.7 3.4-4.2 9-0.8 0.3 0.2 11.8-0.3M568.2 269.3l-1.9-9M553.4 254.1l10.4-2M585.8 294.7l1.2-9.8M593.2 295.3l2.9-9.7M580.5 266.8l6.8 8.8 -3.3 6.4M642.2 330.8l-2.6-10.5M635.1 310.5l5.1 9.1M612.3 418.3l-8.1 0.2 -2.5-2.1M604.2 418.5l0.2 7.2M622.3 422.4l-9.2 0.1M618.7 431.1l-6.1-7M599.9 426.1l-3.7 8.6M597.5 423.7l-7.7 2.8M573.9 436.4l8.9 10M574.7 435.6l9.7 0.4 2.2 2.8M568.7 443.1l13.4 4.6M584.4 427.3l0 8.7M663.3 374.7l-7.2-3.4 -5.3-0.3 -1.3-1.5 -0.7-0.3 -6.2 2.5 -1.6-0.3 -3.1-4.6 -0.7-0.1 -4.9 2.6 -0.7 4 -1.9 2.2 -6.8-0.1M648.8 369.2l-3.8-8.5 0 0 -0.5-1.4 -0.1-4.3 2.9-4 -1.1-4.2 -3.5-3.8M637.9 366.8l7.1-6.1M642.6 371.7l3.7 7.2 3.3-0.2 0.6 0.4 10.3-0.2M650.8 371l-1.2 7.7M630.1 399.7l3.7 3 0.8 5M631.3 396.1l5.1 0 2.5-4.8 -0.2-1.3M633.8 402.7l3.8-3.7 3.6 1.4M636.4 396.1l1.2 2.9M616.6 402.9l2.8-5.6M612.9 396.6l-0.3 6M630 389.6l-2.6-0.5 -3.2-5.6 -3.5-2.2M630.8 395.1l-6.7 0.8 -1.2 1.9M627.4 389.1l-2.4 1.9 -0.9 4.9M617.7 383.3l-0.4 6.8 0.2 0.3 0 4.6M617.5 390.4l7.5 0.6M640.3 388.4l-0.7-7.7 -1.2-0.8 -5.3 1.5 -1-0.7 -2.4-5.2M632.7 388.2l0.4-6.8M645.6 387.8l-0.6-7.9 1.3-1M645 379.9l-5.4 0.8M632.1 380.7l-7.9 2.8M631.6 373.3l6.6 2.5 0.2 4.1M641 371.4l-2.8 4.4M644.4 355l-8.1-2.9M631.9 338l3.7 8.1 0.7 0.3M620.6 366.1l-5.4 1.6 -2.2 1.9 -3.9-0.9 -1.7 0.8 -4.1 0.7M621.6 376.9l-7.4-3.9 -1.2-3.4M612.7 360.5l2.5 7.2M595.7 386.1l0.7-7.2M604 377.5l5.6 0.1 0.9 0.4 2 4.2M601.7 387.8l1.4-5.6 -0.9-2.4M603.1 382.2l7.1 1.7M614.2 373l-3.7 5M607.7 391l9.6-0.9M602.2 398.1l5.6-6.5M606 402.6l3.3-7.7M486.4 371.6l7.8 0.4M486.1 374.9l5.5 2.5 -0.6 4.2 -4 2.2M495.1 372.9l-3.5 4.5M518 382.3l3.3 2.7 1.6 2.7 3.9 3.3M522.9 387.7l-7.5 4.2M524 394.7l-9.1-1.1M505.8 368.8l0 6.8 -4.8 1.7 -0.2 1.4 -4.1 4.4 0.3 1.8 5.1 5.1 4-1.8 0.5-1.8 2.8-2.1 6.3-0.5M497.2 373.2l3.8 4.1M496.7 383.1l-5.7-1.5M516.8 371.8l2.4-2.9 6.8-1.8M519.2 368.9l-1.6-7.3M533.1 360.5l-7.7 2M525.3 355.9l7.5-0.1M538.1 374l-5.2 2.7 -5-3.3M540.7 381.7l-7.8 1.6 -1.3 0.8 -1.4 5.9M532.9 383.3l0-6.6M531.6 384.1l-3-2.3 -3.2-5.1M528.6 381.8l-7.3 3.2M534.5 353.9l-2-6M540.5 354.5l1-5.9 -4.9-5.2M547.6 346.3l-6.1 2.3M561.7 322.9l-9.7 1.6 -1.1 1.1 -6.2-0.8M553.6 332.3l-2.7-6.7M552.6 316.3l-0.6 8.2M524.8 343.9l0.9-1.5 0.1-6.4M525.7 342.4l6.4-3.2M545.1 341.4l-8.3 0.9M550.4 428.5l1.8 9.9M540.2 425l3.6 5.7M533.7 433.8l8.2 0.6M581.8 449l-10.7 2.7 -3.4-1.6M571.1 451.7l4.9 9.7M578.8 481.1l-2.6 8.6 -5.5 1.8M551.1 491.8l3.6-13.2M545 488.8l6.8-14.7M542.3 442.3l9.6 7.6M560.7 443.4l0.1 10.6M468.7 424.9l7.8 0.5 0.6 0.3 1.9 0 3.6-6.1 1.9 0 1.3-0.8 3.8-8M476.5 425.4l-4.4-8.5M529.5 485.9l-3.4-2.7 -10.5-0.7M505.3 494.9l15-1.9M512.4 503l8.8-9.3M679.5 331.7l9.3-1.6 3.1 2.1 5.4-1.5 0.5 0 5.3-2.8 3.5 0.6 4.8-1.9 1.7 0.5 1.8 6.2 2.9 3.8M719.9 324.6l-6.8 2.5M711.5 315.4l10 2.9M711.4 326.6l-2.1-8.7M702.7 316.3l1.2-7.9M672.6 343.8l-4.3-9.4M670 348l-8 0.8 -4-4.3 -0.8-2.8 0.7-5.1M658 336.5l12.9 9.1M643.3 337.8l12.4-2.4M646.2 346.8l11-5.1M647.3 351l4.8 1 4.1 4.7 0.3 3.4 -0.2 0.1 -0.5 1 -6.3 8.3M652.1 352l5.9-7.5M656.2 356.7l5-5.3 0.8-2.6M716.4 350.4l-3-5.8 -6.1-1.3 -1.9 2.1 -2.2 1.2 -2.6 6.5 -2.1 1.8 -7.4-0.3 -1.3-0.7 -0.3-1.2 -6.7-3.5 -3.7-7.4M682.8 349.2l-10 6.3M676.3 289.2l-3.9 7.2 0.9 8.4M672.4 286.2l-9.2 5.4 -0.6 2.2 0.7 1.2 2.2 9M672.4 296.4l-9.1-1.4M684.3 312l-1.3 8.8 -3.6 2.6 -0.7 1.7 0.4 6.1M683 320.8l6.2 2.4 4.2-2.7 1.9-3.1M688.8 330.1l0.4-6.9M697.3 330.7l-3.9-10.2M679.1 307l2.2-12M701.6 305.7l-6 2.5 -2.5 5.7M695.6 308.2l-5.1-6.4 0.6-1.5 8.4-3.5M711.1 300.3l-8.9 1.3M680.6 307.5l9.9-5.7M687.5 294.2l3.6 6.1M716.3 350.9l-8 2.8 -0.7 1.5 1.1 6.4 3.8 1.2 4.1-1.8M707.6 355.2l-7-2.1M698.5 354.9l4.7 8 -3.2 4.3 -4.3-0.3 -3.7 2.2 -10.5-3.8 -0.2-1.5 -8.7-6.2M703.2 362.9l5.5-1.3M708.3 353.7l-2.9-8.3M700 367.2l2.9 6 7.4 1.3 2.2 6.4 2.2 0.9 8-2.2M710.3 374.5l1.6-2.5 0.6-9.2M469.4 486.2l-7.6 1.3 -4.3-5.5M461.8 487.5l-3.3 5.1 -4.8 0.8M460.7 518l-7.9-3 -0.2-0.7 -4.6-1.9 -4.3 2.1 -3.4-1.3 -1.1-0.9 -1-3.6 -1.6-0.8 -6.8 1.2M452.8 515l-0.6 4.6 -2.6 3.6 0.1 6.6M459.6 523.7l-7.4-4.1M481.7 506.1l-8 6.9 -1.4 5M473.7 513l-1.9-7.3M472.2 489l-4.1 6.8 0.5 1.7 5.4 5.1M560.4 581.9l2.8-4.8 2.5-0.5 5.5 6.4M568.4 564.4l1.8 5.8 4.5 2.4 7.1-0.6M570.2 570.2l-4.5 6.4M557.3 571.8l5.9 5.3M509 546.9l-3.9 4.8 0 7M505.1 551.7l-9.2-3.6M574.2 583.1l0.5-10.5M580 562.3l2 9.4M277.9 503.9l-5.4 2.3 -1 0.7 -0.6 6.2 -1.9 1.2 -3.3 5.9 -5.6 2.3 -2.8-1.4 -4.1-0.7 -3.1 1.4 -10.1-5.3 -1.4-3.9 -2.9-2.1 -1.8-0.1 -3.2 1.1 -3.6 3.5 -1 8.8 2.1 1.3 7.6-1.2 4.2-7.4M271.5 506.9l-5.9-3.6 -0.6-5.7 -6.8-6.7 -2.7 0.3 -0.7 0.7 -1.4 10.2 -4.3 3.6 -0.2 0.4 -10.3 6.5M265.6 503.3l-5.5 2.9 -0.1 2.8 1.4 2.2 7.6 3.1M250.8 586.4l0.1-8.6 -1.6-2.2 -3.6-0.3 -5.2-2.8 -8.4 6.2 -0.2 1.4M240.5 572.5l-1.4-5.9 -2.9-1 -2.5-3.1 -0.3-3.8 -7.4-4.8 -0.9 0.5 -2.7 9.4 1.4 1.5 1 4.3 4.3 2.6 3 6.5M236.2 565.6l-7.1 6.6M245.7 575.3l-6.2 8.4M223.8 580.9l-2.3-8 3.3-3.3M213.4 581.5l1.8-7.1 6.3-1.5M700.2 477.5l9.3-3.4M705.6 483.2l4.8-7.7M693.1 483.7l6.5-1.3M635 485.1l0 5.3 1.6 2.4 0.1 8 -1.8 1.1 -5.7-1.6 -4.5 3.8 -0.5 2.1 -4.7 2.5 -3.4-0.8 -4-2.3 -0.1-0.3 -5.4-2.1 -1.4-4.6 -6.2-3.1M636.6 492.8l9 1.2 0.4 0.3 1 5.9 -1.7 1.4 -8.6-0.8M637.9 483.6l7.7 10.4M665.6 503.6l-9.9-0.9 -1.9-1.5 -0.5 0 -6.3-1M653.3 501.2l-3.3 12.2M645.3 501.6l-1.4 10.5M634.9 501.9l-0.5 11M656 473l-2 10.6M646 494.3l4.1-6.3 0.4-2.6M666.2 478.4l-6.3 6.7M667.8 500.9l-5.4-7 -4.2 0.5 -1.4 0.9 -3 5.9M664.6 489.4l-2.2 4.5M657.2 485l1 9.4M650.1 488l6.7 7.3M684.3 505.1l-4.5-1.4 -2.1-2.6M679.8 503.7l-4.4 6.2 -0.4 2.3M694.1 511.7l-9.3-2.5M670.8 499.8l4.6 10.1M666.6 507.9l-0.9 11.3M598 563.3l-4.1-10.8M610 554.6l-6.8 1.6M572.9 517.5l6.5 9.4M568.1 537.4l9.6-0.5M578 537.4l7 0.6M637.2 560.9l-4.8-5.6M656.2 444.9l3.3 9.6M669.7 459.6l-6.2-6.2M663.1 426.7l0.4 5.2 5.4 4.4 0.2 0.1 2.5 7 -1.1 1.7 -4 2.7M670.5 445.1l5.3 5.7 3.4-0.2 2.7 1.9M671.7 459.3l1.1-6.5 3-2M672.8 452.8l-6.5-3.8M679.2 450.6l-1.5-7.7 0 0 0.7-7 -3-1.7 -3.7 0.2 -2.6 2M671.6 443.4l6.1-0.5M522.8 182.9l16.8-11.7M520.9 163.2l0.2 18.3M559.6 182.4l-13 6.8M556.4 156.7l2.2-7.8 9.9-4.3M545.5 155.2l8-12 -1.2-8.2M558.6 148.9l-5.1-5.7M489.3 145.8l12.5-0.7 0.6-0.3 6.5 2M497.9 157.8l3.9-12.7M483.8 111.4l3.4-3.9 0.9-5.5M483.3 136.9l3-9M515.6 101.1l-7.6 8.3 3 10.3M498.6 99.1l2.2 8.5 7.2 1.8M487.2 107.5l11.3 2.1 2.3-2M486.8 117.3l9.6 0.1 4.8 6.2M496.4 117.4l2.1-7.8M451.8 108.6l-13.8 0.8M428.7 137.3l1.2-11.2 -0.4-0.8 0.8-2.3 -3.4-5.6 0.3-8.5 0.2-0.2 10.5 0.8M426.9 117.4l-11 0.9 -3.1 8.3M427.2 108.9l-11 1.3 -0.9 0.9 0.6 7.2M406.6 109.8l8.7 1.3M406 110.1l0.8 12.9M415.7 101.6l0.5 8.6M408 193.6l7.2-0.7M423.7 198.8l-7 0M416.1 191.5l7.9 0.4M679.2 258.4l-7.4 0.1 -4.3 8.3M668.2 249.9l3.6 8.6M592.3 348.1l-5.6-7M595.6 342.2l-5.6-3.5M316.4 553.5l-1.5-9.8 2.3-2.4M330.7 541l-8.4-12M239.1 566.6l6.8-5.4M252.5 566.2l-3.2 9.4M262.4 577l-11.5 0.8M297.2 545l-8.8-1.3 -3.8-3.1 -2.3 0.2 -4.5-9.6M282.3 540.8l-5.5 3.1M297.5 544.7l11.1 2.5 2-2.1 4.3-1.4M304.1 535.7l6.5 9.4M307.4 533.2l0-7.8M309.7 557.8l-1.1-10.6M288.4 543.7l-3.2 9.1M280.9 528.1l7.9 3.6 0.6-0.3 6.7 1.7M290.8 521.8l-1.4 9.6M284.6 540.6l4.2-8.9M270.6 532.6l0.7-7.8 -5.6-4.6M271.3 524.8l8.4-4.2M270.9 513.1l9.5 5.5M334.7 574.1l-9.7 0.5M328 564.1l-4.5 8.6M338.2 562.1l-5 5.8M315.3 565.7l11.1-6.1M363.3 579.3l5.2-5.3 8.6-0.4M368.5 574l-4.8-6.7 -0.5-0.2 -2.7 1.6 -3.8 6.7M363.7 567.3l10.1-1.2M376.7 570l8.3-7.3 0.2-1 2.1-1.7 8.8 0.3M385.2 561.7l-10-6.2M447.4 577.3l11-2.5M458.9 584.7l2.5-6.6M446.4 576.4l-0.5-3.7 3.8-3.8 0.1-7.6M449.7 568.9l7.8 1.7M457.6 561.3l0.4-1 10.2-2.8 0.2-7.7 -1.4-1.3 -7.6 1.3M458 560.3l0.9-10M459.8 565.2l8.9 0.9 0.8 1.3 7.5 2.4 3.8 4.7M468.7 566.1l1.1-4.3 -1.6-4.3M446.9 559.1l2.1-7.9M467 548.5l0.6-3.6 12.3-7.4 1.4-2.7M479.9 537.5l-0.8 14 0.5 0.4 6-1 0.2-0.2 9.6-1.8M479.1 551.5l-10.7-1.7M428.2 560.9l-1.7 5.6 1.8 2.6 7.4 1.6 3.3-3.2 -0.1-6.5M415.6 564.1l4.1 4.6 -1.4 8.5M419.7 568.7l6.8-2.2M435.9 547.2l1.7 12.7M426.7 577.1l1.6-8M435 576.3l0.7-5.6M445.9 572.7l-6.9-5.2M385 562.7l3.3 5.5 -3.1 7.3M388.3 568.2l8.2-0.3M381.5 548.4l-6.3-7.5M385.4 547.4l0.2-5.7 3.7-7.2M385.6 541.7l-8.3-5M387.3 560l-0.5-11.8M346.2 565.2l7.2-2.7 4-6.2M353.4 562.5l7.1 6.2M363.5 559.4l-0.3 7.7M393.6 548.6l3.7-10.1M395.2 549.9l9.8-1.2M402.6 531l-3.8 7.1M395.6 348.5l7.3 1.8M386.1 348.6l9 0.3M350.3 386.6l4.3 0.9 2.9 7.4M360.5 382.1l-2.3 3.3 4.4 8.1M358.2 385.4l-3.6 2.1M342 386.3l8 0.6M342.2 394.8l6.2-1M352.4 401.4l9.5 5.8M360.5 394.8l2.5 11.9M422.5 363l-1.6 0.2 -4.2-2.3 -2.9 0.1 -2.3-4M419.2 357.1l-2.5 3.8M365.1 362.5l0.2 6.8 -0.8 0.7 -1.1 2.7 -7.2 1.4M358.6 365.8l5.9 4.2M363.1 382.2l1.1-8.4 -0.8-1.1M348.4 353.5l3.2-7.8 -1.2-2.5 1.6-7.1M343.2 352.9l-1.7-8.5 -1.2-1 -6.3 0.7M341.5 344.4l8.9-1.2M359.1 347.6l-7.5-1.9M301.5 387.4l-0.3-8.3 1.1-1.1 0.5-6.9M301.2 379.1l-7-0.8 -2.1-1.9 0.6-8.6M304.3 360l0.6 10M295.3 356.2l-8.9 0.9 -2.6-2.5 -7 2.2M285.8 366.3l0.6-9.2M232.2 360.2l8.6 0.8 0.2 0.4 8 2.6M243.2 353.1l-2.4 7.9M272.2 328.4l-3.5 7.8 2.5 3.3 -2.8 6.7M263.1 328.5l0.4 6.5 -2.9 1.9 -6.3-1.6M268.7 336.2l-5.2-1.2M218.5 396.4l-2.6 7.4 0.9 2.1 -2.3 5 -1.4 1.1 -0.3 8 3.2 2.8 6.3-0.4 0.8 0.8 9-0.3 0.5-0.3 2-3.9 -2.4-3.9 1-6.5 0.9-0.8 7.6 1.5 0.1 0 10.8 1.2 0.5-0.4 8.4 3.2 3-2.2 3.2 0.5 6.8-3.8 1.5-3.6M241.7 409l0.2 8.9 1.7 1.4 5.2-0.5 4.2 3.4 0.6 5.7M252.6 410.2l-3.8 8.6M272.4 420.9l-8.7 0.7 -2.6-4.4 0.4-4.2M263 428.7l0.7-7.1M276.6 432l-5.4-2.2M266.2 431.1l-0.3 4.3 -4.8 5.4M265.9 435.4l5.9 5.6M274.7 449.8l-5.3-4.9M308.7 425.9l-1.5-2.9 0.8-7.6M307.2 423l-9-1.6 -0.3 0.2 -7-1.6 -2.7 2.2 -6.4-0.5M301.2 413.7l-3 7.7M322.8 382.4l-1.3-1.7 -10.3-2.6 -1.4 1.4 0.6 9M321.5 380.7l-2.2-10.3 -0.3-0.3 -5.6-0.8M311.2 378.1l0.9-7.9M329.8 370.8l-10.5-0.4M309.8 379.5l-7.5-1.5M324 360.2l-5 9.9M292.8 404.1l7.9-2 2.2 1.8 2.7 0.2 5 4.9 6.4-1.7 1.2 1.4 6.9 1.8M300.7 412.9l2.2-9M281.7 320.2l-0.9-8.5M274.8 310.3l0.4-9.2M322.1 350.8l-7.5-0.5 -0.9 0.5 -2.7 8.5M323.1 358.9l-11 1.5M333.5 351.9l-10.7 0.1M324.2 342.9l-7.4-2.7 -1.9-7.1M316.8 340.2l-3 2.7 0.8 7.4M305.3 348.2l8.4 2.6M313.8 342.9l-8.1-1.8M299.8 330.2l-0.1-6.9 -1.9-1.9 0.7-7.5 1.8-1.2 0.4-6.6 -2.1-3 2.4-6.7 1.7-1.1 5.6 0.8 0.6-0.5 9.6-0.4 1.3 1.8 6.4 1 1.3-0.8 6.9 0.3M290.8 323.5l7-2.1M291.2 329.6l-2.2 1.4 -7.9-1.8M287.5 321l4-8.3 -1-1.4 -7.9-1.1M291.5 312.7l7 1.2M405.8 302.3l6.9 0.1 1-1 0-6 1.6-1.8 6.3-0.3 0.4 0.3 8.1-0.4M404.5 309.1l8.2-0.8 2 2.9M412.7 308.3l0-5.9M423.8 275.7l-1 7.6M299.4 498.8l4.8-11.4M300.9 500.9l10.2-7.6M304.3 465.7l6.8 2.3 7.8-4M311.1 468l3.3 6 -3.3 5.1M314.4 474l7.7-3.8M323.9 471.3l-3.3 11M316 498.4l4.9-2.5 1-3.1 4.6-2.4 2.5-5.6M330.8 501.6l-9.9-5.7M390 513.1l-3.5-3.4 3.7-6.9 -3.3-4.1M386.5 509.7l-3.6-1.4 -3.3-6.3M397.1 504.9l-6.9-2.1M377.4 515.5l5.5-7.2M379.7 489.8l9.1 5.2M322.6 528l-1.4-1.8 -1.8-8.2 0.8-2.5 -4.3-5.8M323.5 527.7l8.4-10.9 3.4-0.4M331.9 516.8l-6.2-3.1 -5.5 1.8M308.6 524.2l12.6 2M309.5 519l9.9-1M335.8 515.3l-4.2-13.9M326.2 505.5l-0.5 8.2M386.9 484.2l0.8 0.5 4.2 8.2M352.5 430.5l5.7-3.9M315.7 437.1l2-4.4 -2.7-6.5M324.9 432.2l-7.2 0.5M347.4 422.4l8 0.4M346.8 406.3l7 6.1M416.2 522.6l0.3-6.8 -1.6-2.1M416.5 515.8l11.2 1.7M432 527.2l-4-8.2M439.2 512.3l-11.2 5.8M291.1 410.6l-6.1-0.2 -5.1 4.9 -0.8 3.4M285 410.4l-4.1-6.8M332.4 110.7l7.7-9.5 10 8.3M375.4 102.9l-2.7 3 1.9 14.3M372.7 105.9l-8 2.7 -3.5 8.3M364.7 108.6l-4.8-5.1 -9.4 5.3M380.2 119.7l4.5-10.7 -2.9-4.6M384.7 109l10.4 3.5M381.7 134.7l2.1-12.4M318 103.3l-3.1 9.7M330.8 111.7l-15.3 2.5M327.3 122.1l-12.8-2.4M301.8 116.5l11.6 4.5M296.2 182.2l0-4.6 1-1.7 -1.3-10.9 0.4-0.3 1.1-10.2 3.1-1.6 0.5-0.9 10.5-4.4M297.2 175.9l9.9-2.7M263.9 161.9l11.5 0.6M323.6 140.2l10.4 1.2 3.6-2.8M334 141.4l0.1 10.8 1.3 2 4 1.5M334.1 152.2l-9.4-3.2M338 167.1l-8 0.3 -5.6-4.5M335.4 154.2l-11.2 7.9M310 179.2l10-5.2M308.9 167.7l10.5 3.7M301.3 130.8l-0.4 7.5 -2.7 3 -10.2 1.9M300.9 138.3l10.9 6.5M298.2 141.3l2.8 10.7M239.4 146.8l-8.6-2.1 -1.8-5.9 3.5-7.3M229 138.8l-9.9-1M220.9 127.2l10.9 2.9M206.2 142.8l11.5 3.6M227.2 157.3l1.6-10.7 2-1.9M228.8 146.6l-11 0.1M227.6 157.9l10.9-2.8 1.6-6.3M237.3 167.4l3.5-8.1 -2.3-4.2M250.2 161l-9.4-1.7M245.8 261.5l-2.4 8.2 -0.2 0.1 -6.6-1.2 -2 1.3 -6.7-1.9M252.5 271.4l-9.1-1.7M236.6 268.6l-0.8-8.7M348.6 235.5l-0.6-8.5 1.7-1.1 1.6-7.3 2.6-1.1 4.1 1.8 1.9 6.2M338.6 234.3l4.2-8.7 -0.6-0.6 0.6-10M348 227l-5.2-1.4M333.6 224.2l8.6 0.8M360.3 172.8l-3.9 15 -0.2 0.1 -9.2-2.2M369.1 189.7l-12.7-1.9M319.3 186.3l12.2 2M299.7 323.3l8.1-1 0.5 0.5 6.7 0.8 1.9 2.2 -0.6 6M300.3 312.7l7.1 2.1 2.3-1.4 5.7 0.6 1.5 1.7 7.7 0.8M307.4 314.8l0.4 7.5M306.8 331.7l1.5-8.9M371.7 273l-1.3 8M379.3 291.5l-8.8-1 -0.1 0.1 -7.2-0.1 -0.3-0.3 -0.7-9.3M371.5 282.2l-1 8.3M431.8 212.8l-8.2 0.3M431.6 219.9l-8-0.4M407.5 210.7l7-0.6M407 210.3l1-8.9M423.2 213.6l-6.9-0.7M423.7 206.2l-7.3-0.4M438.2 268.2l-7.1-0.1M373.6 264l-0.9-9M380.1 264.1l1.4-8.5M387.7 264.6l1.7-4.5 -1.8-4.5M405.9 254.1l-8-0.1M398.6 246.6l7.5 0.5M184.1 223.6l-2.1 7.8 -1.7 1.1 -6.9-2.3M180 241l0.3-8.5M189.9 234l-7.9-2.6M182.9 214.1l1.1 9.5M285.3 284.1l-0.6 8.4 -1.2 0.6 -8-0.8M282.7 302.3l0.8-9.2M276.1 274.4l0.7 8.6M230.1 304.6l1.4-9.7M184.8 479.8l-4.1 3.9 1 7.9M180.7 483.7l-9-1.3M265.1 464l-8.1 0.4 -2.8 3.1 -0.4 3.4 2.1 2.4 6.6 1.8 6.3-3M257 455.1l0 9.3M265.4 455.1l1.1-9.1M210.1 440.8l-7.7-2.5 -2.5 0.9 -6.1-0.8M208.5 447.2l-6.9 0.6 -3.1 3.1 -6.9-2.4 -0.8-1.9 1.3-6.5M199.9 439.2l1.7 8.6M202.2 459.8l-3.7-8.9M203.5 411l1 10.1 0.5 0.4 -0.3 7.2 -0.6 0.4 -8.7-0.1M204.1 429.1l-1.7 9.2M179.7 472.3l5.4 2.3M191.1 483.4l8-8.3 3.2 1.2M199.1 475.1l-2.1-1.8 -9.7-1M191.6 448.5l-2.9 6.4 -3.5 1.7 -3.6 0.1 -0.5 0.4 -2.3 4.7 8.7 6.4M188.7 454.9l7.5 6.8M185.2 456.6l3.6 9.5M198.1 461.9l-1.1 11.4M186.6 512.4l-5.8 7.6 -10.4-2.1M227.8 322.1l-7.9 0.1 -0.9 0.7 -7.9-2.4 -2.2 1.3 -7.7-2.8M219.9 322.2l-0.2-9.4M211.1 320.5l1.2-7.8M208.9 321.8l-0.5 7.1 0.4 0.7 7.9 1.6 1.3-0.8 7.6 2.9M218 330.4l1-7.5M220.5 304.1l-1.1 8.4M232 352.1l-6.7-2.4 -1.2 0.7 -8.9-2.3 -0.8 0.6 -8.9-0.9M225.8 342.1l-0.5 7.6M261.1 417.2l-8.1 5M256.7 390.7l7 2.1 2.5-1.1 6.6 1.9M263.7 392.8l-2.2 8.1 2.6 2.3 0.4 7.6M272.5 398.9l-8.4 4.3M233.2 408.3l-8.3-0.4 -1.3-1.5 -6.8-0.5M232.2 414.8l-8.3 0.8 -0.5 0.6 -1.1 6.2M224.9 407.9l-1 7.7M241.9 417.9l-7.3 0.8M233.5 399.8l0.6 7.7M223.6 406.4l3.2-7.9M224.4 395.7l1.5-4.9 4.6-2.6 4.2 2.3 3.5-1 4.5 0.7 3-2.5 0.5-2.8 3-2.7 0.5-9.3M219.6 384.9l6.3 5.9M236.7 379.7l1.5 9.8M230.2 379.1l0.3 9.1M233.6 399.7l1.1-9.2M204.5 374l-3.1-8.7M211.8 365.3l-9.5-0.8M209.3 385.1l3.8-8.8 -1.6-3.5M182.8 396.5l-4.7 3.6 2.1 8.8M193.2 391.5l-7.4 6.9M196.4 392l0.9 7.4 -2.9 3.1 -6.7-0.5M188.2 419l-4.2-10.7M186.3 420.5l-9.8-5.2M182.9 428l-7.8-3M181.4 433.9l-7.9 3.3M422.7 499.5l-3.1-9.3 -1.3-0.1 -2.5 2.4 -7.3 0.8M418.5 499.2l-2.7-6.7M422.9 499.5l2.3-6.3 0-4.9 0-0.1 5 0.3M419.6 490.2l5.6-1.9M431.4 481.2l-8.3-0.5 -1.7-2.1 -1.4-0.7 -1.5-1.7 0-0.2 -1.4-1.7 -6.5-4.3 -0.4-6 -1.1-1.3 0.3-1.7 -0.6-5.8M425.2 488.2l-2.1-7.5M428.8 475.1l-7.4 3.5M375.2 417.3l-6.1-1.6 -2.1 1.8 -0.8 3.8 -3.6 1.5 -3.1 4.1M362.6 422.8l-2.2-5.7 1.2-1.5 -0.3-7.4M367 417.5l-5.4-1.9M373.5 423.7l-3.2 0.8 -4.1-3.2M370.3 424.5l-2.3 4.5M355.9 417.9l4.5-0.8M369.1 415.7l-1-3.3 -5.1-5.7M375.1 408.7l-7 3.7M439 392.7l-1-8.4M431.7 384.2l-7.3 2.3M431.2 379.2l-3.8 0.2 -0.2-0.1 -5.9 0.2M427.4 379.4l-3.4 6.5M393 474.4l-4.7-9.8M391.9 454.4l-1.8 9.2M418.3 452.6l-2.7 6 -6.2 2.4M400.1 464.3l9-1.6M422.8 456l-3.8 7 -0.1 0.4 -1.1 0.6 -7.6 0M415.6 458.6l3.4 4.4M425.1 467.4l-6.2-4M436.6 507.9l-1.5-6.2 -2-1 -1.7-2.7 0.4-1.4 0.2-0.4 -0.4-6.8M429.1 507.2l4-6.5M423.5 500.1l7.9-2.1M425.2 493.2l6.6 3.4M434 527.4l9.5-7.7 0.2-5.2M433.4 527.3l6.9-14.1M449.6 523.2l-6.1-3.5M467.4 426.8l0.4 5.2 -2.3 1.7 -5.6 0M461.6 425.5l-3.6 6.4M466.4 442.5l-0.9-8.8M449.9 441.1l4.3-9.2M446.2 426.5l-5.2 1.2 -2.2 3.4 1.6 3.1 -1.1 3.5M445.9 433.7l-5.5 0.5M432.4 430.1l6.4 1M438.6 424.2l2.4 3.5M440.7 397.5l5.6 1.1 2.6 4.2M456.1 410.6l-5.2 1.3 -4.4-3.4M456.9 407.1l-5.8-5M466.7 410.3l5.6 3.1M472.6 415.9l9.9 3.5 0.1 0.2M480.9 410.6l1.6 8.8M447 424.6l7.2 0.4 0.8-1.3 4.7-1.7M446 419.5l3.4-1.8 2.9 0.7 5.2-2.3M455 423.7l-2.7-5.3M455.6 431.3l-1.4-6.3M450.9 411.9l-1.5 5.8M437.5 469.1l-4.7-2.3 -1.3-6.5M443.2 453.7l0.1 3.6 -5.7 5.5M443.3 457.3l2.3 6.8 1.2 0.8 0.5 0.6 1.2 0.7 2.1 6.7M445.6 464.1l-6.6 0.7M429.1 470.3l3.7-3.5M514.3 464.2l-10.7 1.5 -2.2 3.7 1.9 3.8 -0.5 3.6 1.1 9.1M501 459.4l2.6 6.3M468.1 495.8l-4.8 0.3 -4.8-3.5M484.8 478.1l-7.4-2 -1.6-2.3 0-2.8 2.1-3.1 7-3.6 4 2.1M471.2 487.1l6.2-11M439.4 474.7l7.9-9.2M484 354.6l2.2 10M485.7 365l-4.5-2.3 -0.8-8M480.6 347.1l0.4 7.2M481.2 362.7l-4.6 1.4 -5.8-2.6M440.1 219.5l-8.3 0.7M448.6 247.9l-0.6-7.3 0.2-0.2 0-6.6 -0.5-0.6 0.2-6.3 0 0 -7.4-0.6M447.9 226.9l0.4-6.9 -0.1-0.1 0.1-6.9 -0.3-0.4 0.3-5.4 -1-1.1 0.5-6.7 0.4-0.5 -0.2-7.2M448.2 219.9l-7.9-0.2M456 226.9l-8.1 0M455.9 220.2l-7.6-0.2M456.3 213.7l-8-0.7M440.2 213.5l7.8-0.9M440.2 206.3l7.1-0.2M448.3 207.2l7.7-1M455.6 233.2l-7.4 0.6M456.2 240.1l-8 0.3M448 240.6l-8.1-0.1M440.5 173.1l-0.7 9.8 -0.9 0.7 -5.4-0.5 -0.5-0.5 -1-8.3M439.8 182.9l7.3-1M455.9 183l-7.5 0.2M433 182.6l-8.8 0.2 -0.8 0.7 -8 0.2M433.5 183.1l-2.6 8.1M423.4 183.5l1.5 7.5M423.9 174.9l0.3 7.9M507.1 191.4l9.1-10.1M511.1 178.2l-10.3 9.6M597.5 198.4l-11.6 3.9 -0.3 0.4 -12.8-1.7 -4.9-4.9M585.9 202.3l-2.2-9.6 -2.4-2.6M598 196.3l-14.3-3.6M515.6 294.3l9.3-0.3M542.9 303.1l-7.1-4.3 -4.1 3M535.8 298.8l1-5.5M481.7 319.2l4.1 10.5 0.7 0.6M482.2 318.7l9.4 3 2.5-3.6M491.6 321.7l-1.8 7.5M473.9 325.6l11.9 4.1M525.7 265.3l2.5 9.2M538.8 270.3l-10.3 4.3M524.7 287.5l7.9-4.9M525 293.9l10.6-1.8M517.2 265.3l1.2 8.2 4.9 3M513.6 283.3l0.6-6.9 4.2-2.9M514.2 276.4l-9.6-6.3M549.1 283.4l1.6-2.6 6.3-3.7M550.7 280.8l-1.1-8.5 4.4-4.5M549.6 272.3l-8.8 1.1M541.6 293.4l0.8-11.6M563.2 240.8l-8-1.6M540.1 232.9l10.8-1.3M585.6 202.7l0.4 9.8M572.8 201l4.2 12.3M509.5 345.2l-2.3-6.1 -4.1-1.7 -5.8 2.6M507.2 339.1l1.3-1.6 1-7.7M508.5 337.5l8.4-2.4M518 341.2l-0.1-5M606.6 503.2l-4.6 3.4 -7.4-0.6M605.2 498.6l3.9-5 3.4-1 2-4.2 0.8-0.9 1.4-0.5 5.4 2.6 3.1-1.3 4.6-4.4M609.1 493.6l-7.8-8M580.3 500.6l0.5-6.3 -4.6-4.6M582.3 502.1l8.3-5.2 4.1 2.2M580.8 494.3l4.7-2.9 3.4 0.6 2.1-1.9 7.7 0.1M588.9 492l1.7 4.9M583.6 483.1l1.9 8.3M590.3 482.3l0.7 7.8M567.4 296.9l6.9 1.1M566.5 304.3l8.6-1.6M568.8 310.2l7.1-0.7M583.7 295.1l-2.3 7.1 1.7 2.2 5.5 0.8M575.5 303.2l5.9-1M564.6 334.2l5.8-5.5 0.1-2.9 1.3-1.2 3.9-1.2 1.6-1.7 0.1-0.3 -2.3-4.4 1.8-6.7M561.8 323.1l8.7 2.7M566.7 316l2 1.1 6.4-0.1M568.7 317.1l3.1 7.5M612.1 314.7l-2.5-6.7M611.9 314.8l-7.9-0.8M603.1 315.7l3 5.3M608.6 300.5l-0.3 7M596.9 329.1l0.8-5.8M597.7 316.9l0.8 5.8M601.5 337l-7-6.3M598.3 338.6l-7.4-5.3M592.3 323.5l-1.1 7.7M579.8 365.6l7.9 1.7M592.6 360.6l3 4.6 -1 6.5M579.6 365.3l0.9-5.3 0.8-0.8 2.4 0.3 3-1.8 6 2.6M586.7 357.7l1.7-6.4M589.7 351l5 6.8M588 365.1l-4.3-5.6M580.1 351.9l1.2 7.3M586.7 350.8l-1.5-9.5M600.6 358l0.4 5 0.7 1.1 1 5.8M601 363l-5.4 2.2M553 342l-3.4-4.4M623.2 330.7l-5.6 4.8M619 339.5l6.6 1.6M635.6 346.1l-9.8 0.5M605.5 308l-4.5-7.3M594.8 284.7l-0.2-7.1 -4.6-2.8 -2.7 0.8M597.9 285.7l6.5-11.1M594.6 277.6l7.5-4.7M649.3 244.4l-7.7-1.2 -2.3-2.1M641.8 253.6l-0.2-10.4M611.5 226.8l3.3 8 9.1 1 2.5 1.8 2-0.5 5.8 8.7M628.4 237.1l9.5-4.8M566.5 255l11.9-6.9 -1.2-6.7M581.1 265.5l-3.7-5.6 1.5-11.1 -0.5-0.7M581.9 265.2l7.2-12.2 1 0 2.2 1.3 4.8 10.2M578.9 248.8l10.2 4.2M566.8 259.3l10.6 0.6M590 274.8l3.9-8.8M613.5 210.9l1.6 11.8M637.3 230.2l-11.4-4.2 -2.8-3.7M655.8 361.2l0.3 10.1M645 360.7l11.3-0.5M638.9 391.3l6.2 5.6M622.8 367.8l4.6-1.4 4.9 2.9M650.2 379.1l0.6 5.6 4.3 2.6 3.2 0.1M646.4 388.1l4.4-3.4M648.9 392.7l6.2-5.4M659.4 389.5l-6.3 6.6 -4 0.2M653.1 396.1l6.8 4.8 1.3 3.1 2.6 1.1M661.8 391l-1.9 9.9M662.4 416.3l6.1 1.6 4-4.7M601.7 364.1l7.1-1.3 0.7-1.9M608.8 362.8l0.3 5.9M609.6 377.6l-2.2-8.1M482.3 378.2l-7.5 4.8M485.9 382.8l-9.4 2M476.4 399.7l-3.7-5.5M480.6 399.4l-1.8-8.5M487 388l6.4 1.4 3.2 5.7M481.5 399.8l4.8-6.7M497 384.9l-3.6 4.5M499.5 394.9l2.6-4.9M500.8 378.7l5.8 7.7M514.7 371.5l-4.8 4.2 -1.7 0.5 -2.4-0.6M509.9 375.7l6.7 7.2M508.2 376.2l1.2 8.1M512.8 395.3l-6.7-7.1M544.4 325.2l0.3 6.8 -1.5 2.5 -4.3 0.4 -1.1-1.5 -2.1-5.7M533.7 316.8l3 9.6M552.4 333.1l-7.7-1.1M530.9 336.1l6.9-2.7M536.7 342l2.2-7.1M546.2 338.5l-3-4M573.9 462.5l-1.5 8.6 3.3 2.9M564.9 461.9l-0.5 9.6 1 0.9 1.4 8.9M572.4 471.1l-7 1.3M551.6 473.2l12.8-1.7M518.3 470.4l4.8 0.5 6.5-4.9 9.8 7.4M535.4 477.2l-9.5-3.6 -2.8-2.7M526.1 483.2l-0.2-9.6M543 486.2l1.3-15.2M535.7 447.2l11.7 6.7M529.6 466l0.8-1.8 -1.2-6.6M501.3 405.8l-0.1 9.4 0.5 1M501.2 415.2l-9.4-4.5 -0.1-0.2M500.9 417.4l-7.4 1.4 -0.3 0.2 0.3 6.4 -3.5 1.5 -1 1.9 -2.3 1.9 0.1 6.4 2.1 2 2.1 0.2 3.6-2.8 0.2-2.5 5.3-6.7 0.1 0M491.8 410.7l1.7 8.1M484.5 419.6l5.5 7.3M485.8 418.8l7.4 0.2M500.1 427.3l-6.6-1.9M483.9 403.4l4.8-2.2 1.7-4.1M488.7 401.2l5.3 5.3M474.4 404l8.8 2.3M474.2 404.1l0.6 6.9M496 405.6l-1.2-9.2M476.6 457.7l-3.8-7.6 4.7-4.7M489 428.8l5.8 5.2M479 425.7l1.7 3 6 2M496.9 448.6l-5.9-9.3M504.3 439.5l-9.7-3M689.5 352.7l1.5-3.9 7.9-3.4 4.3 1.2M691 348.8l-0.6-8.5 0.5-0.5 1-7.6M698.9 345.4l-2.5-5.1 -5.5-0.5M680.5 339.5l9.9 0.8M706.6 328.5l-0.3 11.3 0 0.3 1 3.2M706.3 340.1l-6.3-2.6 -2.2-6.8M714.9 333.3l-8.6 6.5M713.4 344.6l4.6-5M696.4 340.3l3.6-2.8M699.4 318.1l3.7 9.8M625.1 291l9.8-1 0 0.1 1.4 7.2 5.4 2.4 3.5-1.7 1.9-4.2 -0.6-2.3 5.4-4.5 1 0.4 7-0.6 3.3 4.8M651.9 287l-0.7-7.3 2.9-3.2M659.9 286.8l0.4-6.8M654.1 307l1-10.1 2-1.4 5.5-1.7M655.1 296.9l-8-3.1M657.1 295.5l-4.2-8.1M652.3 271l-6.5-0.6 -3.8 3.4 -0.2 4.8 2.1 2 7.3-0.9M643.9 280.6l-1.1 8.5 3.7 2.4M667.6 267l-9.5 10.7M677.5 307.2l-4.4 7.4 -2.1 1.1 -3-0.5 -6.6 3 -2.6-2.3 -1.3-7.6M673.1 314.6l6.3 8.8M438.2 508.7l5.9-5.1 -1.4-4.2 0.4-2.2 -0.8-1.2 -2-1.1 -4-6.8M435.1 501.7l7.6-2.3M459.9 524.5l8.2-0.4 5.3-4.3M452.6 514.3l4.3-5 1.2-0.8 1.1-3M456.9 509.3l-8-4.7 -2.1 0.8 -2.7-1.8M448 512.4l-1.2-7M458.1 508.5l6.9 6.7M453 494.8l-9.9 2.4M454.2 500.3l-5.3 4.3M454.1 538.6l11.2-1.2 1-2.9 -0.6-1.2 -7.6-4.9M467.6 544.9l-2.3-7.5M468.1 524.1l-2.4 9.2M478.7 532.5l-12.4 2M467.9 506l-1.4-4 2.1-4.5M466.5 502l-6.4 1.2 -1.1 1.1M466.8 515.3l-0.3-8.2M463.3 496.1l-3.2 7.1M486.2 573.3l0.8-1.8 9.5-6.7M498.1 583.8l-1.2-5.7M487.3 588.9l2.6-12.6M487.8 537.5l-2 13.2M579.2 584.1l4-5.6M589.2 569.6l2.8 3.1 0.9 6.2M597.3 564.1l2.1 6.3 4.5 3.1M592 572.7l7.4-2.3M213.1 484.9l-6.7 4.9 -0.6 4.7 -3.3 2.6 0.5 4.8 1.6 2.4 2.3 0.9 3.3-1.6 2.3-5.2 -0.6-1.6 -6.1-2.3M206.4 489.8l-6.6-3.9 -5.2 2.8M202.5 497.1l-9-3.9M217.2 488.5l-5.3 8.3M202.9 478l-3.1 7.9M193.4 500.5l1.6 3.1 -1.5 7 -3.5 2.4M195 503.6l8-1.7M226.3 480.2l-9.9-3.5M220.3 489.3l6.6-8.3M254.8 491.9l-9.1 1.2 -4.5 3.1 -0.1 1.1 -3.1 3.7 -2.3 9.5M249.1 505.7l-8-8.4M255.5 491.2l-3.7-6.9 -6.7-2.9 -5 1.2 -4.5-0.7M240.1 482.6l5.6 10.5M221.2 501l6.8-0.6 2-3.1 0.5-4.2 3.6-2.7 1.3-8.4M234.1 490.4l7.1 5.8M233.7 562.5l-9.9 2.8M245.7 559.9l-9.6-3.3 -2.7 2.1M243.1 545.8l-4.7 2.3 -10.1-0.2 -3.8-8 -5.6-1 -5.1 4.1 -2.7-0.2 -2.2-1.3 -10.8 0.4 -1.9 5.9M238.4 548.1l-2.3 8.5M228.3 547.9l-2.3 6M213.8 543l1.3 9.2 -1.6 2.1 -0.3 3.7 4.1 5.7 5.1 0.1M215.1 552.2l10 2.2M224.5 539.9l4.6-3.5 9-0.6 1.6-3.3 8.5-3.3 1.9-7.4M243.1 545.7l-5-9.9M213.5 554.3l-11.5-1.7 -1.2 0.4M211.1 542.8l-9.1 9.8M185.6 555.5l9.3 7M200.2 557.9l6.1 3.8 1.5 6.7 -3.2 2.4 -10.6-1.9M206.3 561.7l6.9-3.7M217.3 563.7l-4.9 5.6 -4.6-0.9M215.2 574.4l-2.8-5.1M204.6 570.8l0.8 9.4M722.3 474.7l-7.9-7.4 -5.6 1M714.4 467.3l6.9-3.6 -6.9-6.9 -6.2 2.2M714.4 456.8l5.4-7.8M612 505.3l4.5-6.8 2.1-0.2 3.6-3.8 -0.1-4.9M616.5 498.5l-4-5.9M640.8 514.3l1.1 5.5 3.7 1.7 7.3-0.3 1.9-2.2M641.9 519.8l-1.5 2.8 2.2 8.9M645.6 521.5l1.7 9.3M629 517.8l3.6 7.3 -0.8 6.2M632.6 525.1l7.8-2.5M651.3 529.6l1.6-8.4M648 538.2l-2-6.6M601.4 485l13.1 3.4M606.5 477.4l8.8 10.1M624.2 506.2l7.5 7.8M619.5 508.7l1 5.7 2.8 4.8M616.1 507.9l-1.5 7.2 -1.9 1.9M620.5 514.4l-5.9 0.7M608.2 516.3l3.9-10.7M653 515l3.6-4.9 4.2 0.7 5.1-4M660.8 510.8l1.7 9.1M655.7 502.7l0.9 7.4M602.7 526.3l4.6-3.5M599.6 525.3l-1.8-8 -1.4-0.5 -1.7-1.3 -1.2-8.4M597.8 517.3l5.7-2.2 4.2 1.4M602 506.6l1.5 8.5M593.6 528.8l-2.3-3.6 5.1-8.4M591.3 525.2l-6.1-4.5M585.3 518.7l9.4-3.2M678.4 435.9l5.6-1.5 1.9 1.2 2.6 5.6 -0.7 1.6 0.3 7.7M677.7 442.9l10.1-0.1M683.4 426.5l0.6 7.9M690.2 423.7l3.9 6.2 2.7 1.1 3.3-0.4 3.7-3.8 -1.6-7 0 0 -11 0.6M694.1 429.9l-8.2 5.7M696.8 431l-2.8 9.1 -5.5 1.1M642.8 432.3l6.9-2.4 0.3-1.2 3.5-2.6 1-6M653.5 434.8l-3.8-4.9M661 442l7.9-5.7M696.2 461.6l2.3-5.6M720 434.7l-7.2 1.6 -1.7 3 4.2 7.1 -10.4 5.2 -0.1 3M546.6 133.5l-3 2.2 -12.4 0.7M543.6 135.7l-2.8 15.3M526.4 162.6l6.7-11.5M488.6 143.2l8.2-10.1 -0.8-3.6M502.4 144.8l-1-7.3 -4.6-4.4M461.1 127.2l-9.4-1M453.6 112.5l-5.1 7.6M454.6 138.9l-7.1-5.4M427.4 108.7l-0.7-7.2M643.6 254.5l0.4 6.4 -1.8 2.8 -6.7 1.5 -1.9-2.6 -8.5-2.1 -0.5-3.4 0.6-1.5 7-5.4M644 260.9l8.9 2.5 0.1 0.1 1 3.8M652.6 252.7l0.3 10.7M642.8 289.1l-7.9 1M641.8 278.6l-7.1 1.8 -0.6-0.5 -3.3-5 0.7-2.3 3-2.8 1-4.6M634.7 280.4l0.2 9.6M634.1 279.9l-8.3 4.5 -1.9 5.2M613.3 207.4l-3.4-4.3 -2.1-9.7M613 210.3l-13.7 0.3M598.4 201.6l11.5 1.5M624.3 202.8l-6.2-3.3M629 193.2l-11.9 0.4M623.2 178.8l-8.8 12M587.3 127.4l2.7 13M591.4 125.3l0.9-5.3 13.6-13.3M570.4 338.2l1.8-1.2 3-4.2 0.5-0.1 2.4-2 6.5-0.3 0.3-0.2 5.8 1.4M581.3 341l-9.1-4M570.4 328.7l4.8 4.1M246.6 556.4l9.1-2.4 3.6 2.3 5.6-2.1 0.7-1.9 1.5-2.2 8.4-2.4M256.1 565.2l3.2-8.9M275.6 570.2l-9.5-3 -3.6 1.7M278.3 568.6l-0.6-4.4 5-6.7 0-3.7M282.7 557.5l5.8 4.5 -0.6 9.6M293.9 555.2l-0.2 1.3 -5.2 5.5M303.6 571.1l7.9-8.3M297.4 567.5l0.8-3 9.5-6.4 1.8 0.1M293.7 556.5l4.5 8M297.1 551.8l10.6 6.3M465.7 577.1l3.8-9.7M478.4 585.4l-0.4-6.1M470.5 591.2l-3.3-13.2M395.5 574l2.9 3.4 6 0.8M396.8 568.4l10.2 1.3M394.9 585.9l3.5-8.5M417.8 577.6l-9.9-4.6M385.3 352.8l8.4 3.3M409.2 357.4l-3.4 6 -6.1-0.8 -0.8 1.2 -0.6 5 1 1.5 4.4 0.9 4.5-2.3 1.4 0.4 4.4-1.7 1.4 0.6 1.2 1.4 0.6 1.7 3.4 3M403.2 354.4l-4 4.4 0.5 3.8M413.8 361l-0.4 1.9 0.6 4.7M405.8 363.4l0.4 0.5 7.2-1M394.2 355.9l5 2.9M398.9 363.8l-6.9-0.8 -1.5-2.7M389.1 368.7l2.9-5.7M390.3 370.2l8-1.4M403.7 371.2l1.4 4.6 -2.6 3.4 -0.3 2.1 -3.2 1.5 -2.8 3.3 -4.8-0.7 -0.1-0.1 -1.6-8.8M402.5 379.2l-3.9-5.8 0.7-3.1M406.2 363.9l2 5M363.6 382.4l1.9 8.6M398.6 373.4l-2.9 3 -6 0M399 382.8l-3.3-6.4M424.4 388.8l-5.1 2 -2.2-1.2 -1-3.9 -4.4-2.4 -0.3-0.6 -6.2 0 -3-1.4M405.2 382.7l-1.1 8.7 2.5 3.2M396.2 386.1l0.2 0.5 7.7 4.8M405.1 375.8l5.7 0.7 0.7 0.7 0.8 2.4 -0.9 3.1M409.6 369.3l1.2 7.2M420.9 363.2l-5.5 5M341.6 401.5l-6.1 1 -0.5-0.5 -6-3.1 -2.4 1.4 -6-1.7 -3 2.2 -0.6 6.5M335 402l0.8-7.9 -3.7-1.9M329 398.9l2.9-6.6M341.7 395.3l-5.9-1.2M261.4 344.7l-0.8-7.8M242.5 343.2l9.2 1.8M249.1 352.8l3.2-6.7M244.7 335.4l7.4 1.7M258.6 382.5l-3.4-9.4M249.2 382.2l8.4 1.3M266.2 391.7l-1.5-9.5M297.9 421.6l0.4 8.6M290.7 431.3l-2.5-9.1M291.4 411l-0.5 9M320.7 387.7l-0.1 10.9M294.2 378.3l-0.8 8.9M305.6 404.1l5.9-5.7 6.1 2.4M308.2 415.3l2.4-6.3M289 331l-1.8 7.4 1.3 1.1 7.8 0.9M279.2 331.1l0.3 6.6 -0.8 0.9 -7.5 0.9M287.2 338.4l-7.7-0.7M293.9 349.9l-8-1.4 -0.2 0 -5.9-2.7 -1.1-7.2M288.5 339.5l-2.6 9M430.5 303l-8.3 0 -0.4 0.4 -1.2 7M422.2 303l-0.2-9.4M404.7 294.3l9 1.1M422.8 319.3l-8.4 0.7M431.6 310.4l-9.2 1.8M421.8 303.4l-8.1-2M404.8 315.1l7.7 0.5M415.3 282.9l-2.1 4.7 2.1 6M421.7 283.9l-0.1 9.4M404.7 281.3l9.5-0.3M405.2 288.1l8-0.5M327.5 471.7l6.7-8.9M353.4 473.2l-11.3-1M359.8 494.2l-7.2-3.3 -1.1-2.1 1.4-4.8M351.8 499.8l0.8-8.9M310.7 486.3l10.1 4.6 1.1 1.9M321.7 483.1l-0.9 7.8M387.7 484.7l11.7-3.3M374.7 437.6l-10.6 1 -0.1 0.1M364.1 438.6l6-7.1M318.2 408.7l-1.7 8.8M341.8 426.2l-0.5-0.3 -2.7-5.7 1.8-4.9 0.6-0.3 6.5 3.2M341 415l3.8-8.1 0.7-0.6M347.7 418l-1.1-11.7M268.8 347l-3.1 8.3 1.2 1.7 -1 8.3 1.5 1.7 -1.2 6.3 -0.5 0.5 -1.6 7.9M258.3 346.8l1.8 7.9 -0.6 0.4 -8 1.1M265.7 355.3l-5.6-0.6M259.5 355.1l-0.6 9.1M274.6 383l1.6-5.6 0.2-0.1 7.3 0.4 2.2 1.5 -0.2 3.7 -1.7 2 -8.5 0.4M292.1 376.4l-6.2 2.8M293.2 387.3l-7.5-4.4M284.4 366.7l-0.7 11M277.9 365.9l-1.5 11.4M285.2 394.3l-1.2-9.4M267.7 411.3l6.3 7.9M274.5 407.5l5.4 7.8M353.7 117.1l-4.1 7.3M349.9 111.4l-12.5 2.1M335.5 127.8l5.2-6.2M310.3 129.3l4.6 12.2M312.4 127.3l10.5 3.6 0.9 2.8 -0.7 6.1M327.5 122.9l-4.6 8M336.5 132l-12.7 1.7M295.9 165l-6.7 0.1 -2.7 2.4 -10.4-3.1M286.5 167.5l-0.4 5.8 -1.1 1 -1.3 8.2M285 174.3l-11.1-0.9M289.2 165.1l-3.8-10.6M296.2 177.6l-10.1-4.3M263.6 169.3l10.1 3.1M312.6 149.5l8.5 3.4M311.3 160.8l11.3-0.1M308.2 165.5l-11.9-0.8M309.5 162.3l-9-9.4M288.4 151.4l9 3.1M218.8 265.7l7.2 3.5M242.7 278.4l-1.2 9.4M249.8 288.4l1.7-7.6M243.2 269.8l-0.3 8.4M234.6 269.9l-0.9 8.2M240.6 296.9l1.1-8.9M233 286.4l-1.4 8.5M332.6 199.3l10.6-2.6M331 205.9l12.4 1.6M332 186.2l7.6-5.1 6.1 0.6M339.6 181.1l-5-4.8M323 177.6l5.6-0.3M330 167.4l-1.2 9.6M278.2 273l6.9 1.3 1.3 1.8 -2 6.9M287.9 265.7l-2.8 8.6M314.1 250l-0.2 8.4 -2.1 1.4 -6.6-1.3M313.9 258.4l7.3 0.9M283.3 302.9l7.3-1 1.2 1.1 6.8 0.1M290.5 311.3l1.3-8.3M284.7 292.5l5.9 1.8 2.1-1.3 2-7.8M290.6 301.9l0-7.6M340.3 343.4l1.9-8.2 0.3-0.2 8.8 0.4M333.9 343.9l-0.6-9.2 0 0 -7.6-0.1M333.3 334.7l8.9 0.5M370.4 290.6l0.2 8.8M377.8 309.6l0.7-9M363.8 262.8l9.1 1.8M363.8 271.3l7.3 0.8M405.4 266.9l-8 0.9M405.7 261.4l-8.2-1.3M389.1 267.3l7.8 0M389.4 260.1l7.9 0.2M389.5 252.7l8.2 0.9M398.9 218.8l-7.6-0.4 -0.8 0.6 -7.8 0M398.6 225.6l-7 0.6 -1.8 2.3 0.8 3.7 -2.6 4.8M391.6 226.2l-1.1-7.2M391.4 209.5l-0.1 8.9M390.6 232.2l7.5 1.2M382.5 226.4l7.3 2.1M406.1 261l7.8-0.2M406.6 253.3l7.6 0.7M430.9 268.3l-8.1-0.5M422.7 274.5l-8.1 1M405.8 274l8.7 1.4M398.6 232.9l8 0.7M406.3 239.3l-8 0.8M406.4 246.7l8.4 0.6M223.4 294.1l1.3-7.6 -1.4-1.8 2.8-7.5M224.7 286.5l8.3-0.1M215.7 284l7.6 0.7M215.9 473.1l-7.2-3.8M246 458.6l8.2 8.9M261.6 443.1l-5.9 6M257.6 429.6l-0.7 8.6M243.4 457.9l7.1-11.6M241.6 458.2l-3.3-4 0.2-6.3 3.2-4.1 7.2-0.4M209.6 449.5l9.8 1.3 0.3 0.3 -1 8.2 1 0.9 6.6 0.6 1.9 2.2 8.1 3.6M218.7 459.3l-11.3 1.9M190.8 446.6l-11.6-0.2 2.4 10.3M184.3 437.6l-5.3 8.7M193.4 431l-9-3.8M213.1 412l-8.5-1.8M215.9 403.8l-9.1-3.2M223.4 416.2l-8.9-5.3M197.3 399.4l8.2 2.1M204.5 421.1l-8.9-0.4M212.8 420l-7.8 1.5M184.3 408.1l11.1 4.1M194.4 402.5l2.2 8.5M194.1 308l-2.2 9.7M191.6 317.9l-1.5 9.5M200.7 319.3l-2.1 8.9 0 0.1 -8.4-0.7M208.4 328.9l-9.8-0.7M216.7 331.2l-1.7 8.5 1 1.4 -0.8 7M215 339.7l-7.3-0.9 -1.4-2.1 2.5-7.1M224.5 340.4l-8.5 0.7M253.8 392.8l-8.1-5.1M243.1 398.4l-0.4-8.2M261.5 400.9l-8.7-0.6M253.1 409.8l-0.3-9.5M241.8 409l3-9M239.5 378.8l6.7 6.1M221.9 379.4l-0.5-0.4 -2.2-10.5 0.7-0.4 2.5-8M229 377.9l0.9-7.3 0.8-0.9 -0.1-7.7M229.9 370.6l-10-2.5M213.1 376.3l8.3 2.7M213.4 368.5l5.8 0M224.1 350.4l-2.7 8.5M181.1 457.1l-8.6-3M403 417.9l-5.6-2 -1.1-3.3 -7-0.4M397.4 415.9l-1.7 1.6 -6.1 0.9M404.5 410.1l-6.9-0.7 -1.6-4.6M397.6 409.4l-1.3 3.2M395.8 424.4l-0.1-6.9M419.3 390.8l1.3 7.1M432.8 391.8l-5 1.8M434.4 400.6l-7.9-4.4M428.4 405.6l-2.8-8.4M417.1 389.6l-6.7 6.7M407.6 394.7l4.1-11.4M421 383.8l-4.9 1.9M410.7 404.8l-0.5-8.5M399 402.9l4.7 2 3.3 3.1M403.7 404.9l2.5-10M417.8 464l-0.7 10.3M418.5 476l6.6-8.6M410.6 470l-7.8 5.5 -3.2 0.5M442.3 496l2.7-9.4 5.5-0.5M445 486.6l-5.2-2.8M432 496.2l8.3-1.3M441.1 391.9l3.4-5.7 -1.2-2.5M444.5 386.2l5.6 0.5M446.3 398.6l0.3-5.3M472.7 394.2l-6.4 6.2 0 2.6M464.4 391.9l1.3 7.8 0.6 0.7M450.8 392.7l0.5 9M461.2 405l-4.2-7M465.7 399.7l-7.5-4.1M473.9 372.6l4.1-4.4 -1.4-4.1M479 374.8l3.4-5 2.2-0.7M482.4 369.8l-4.4-1.6M473.9 382.6l1.9-7.9M496.4 448.9l-2.4 12.1M488 451.7l5.3 9.7M483.6 449l5.3-9.9M481.9 457.1l3 7.2M493.3 477.5l1.6-2 7.9 1.3M494.9 475.5l1.1-6.2 -5.4-3.4M496 469.3l5.4 0.1M517.2 472.2l-13.9 1M467.3 482.3l1-7.4 -3.1-1.9 -6.2 2.2M475.8 473.8l-7.5 1.1M450.2 454l1.1 2.2 -0.1 0.4 -4.4 8.3M459.4 452.4l-1 6.5 1.2 2 -1.5 3.7 -0.1 0.1 -0.4 9.2M451.3 456.2l7.1 2.7M448.5 466.2l5-1.6 4.5 0.1M451.2 456.6l2.3 8M432 233.3l7.5 0.7M439.8 227l-8-0.6M423.5 233.9l7.9 0M423.7 227.3l7.9-0.7M431.5 240.6l8.3-0.2M447.7 233.2l-7.8 0.3M447.8 199.4l-8-0.2M438.9 183.6l2.2 7.5M455.4 199.9l-7.2-1M431.9 192.6l7.7 0.2M524.5 307.6l1.6-8.3M553.3 225.5l6.7-0.8 7 3.2 7.5-3.7M560 224.7l6.2-9.4 -4.3-5.1M566.2 215.3l7.4 2.2M565.7 239.8l1.3-11.9M615.4 573l10.5 4.7M581.8 311.9l8.1-5M578.9 310.5l4.2-6.1M584.9 330.2l-0.6-3.7 2.1-3.7 3.9-1.7M584.3 326.5l-7-4.8M586.4 322.8l-3.8-4.9 1-2.3M582.6 317.9l-5.2 3.5M588.8 315.9l3-8.1M590.8 318.6l6.4-2.1M603.8 310.2l-8.8-1.6M598.9 299.9l-4.9 7.8M580.5 360l-6.5-0.5 -1.3-1.6M572.9 366.1l1.1-6.6M598.4 298.8l4.6-7.4M645.8 270.4l-3.6-6.7M642 273.8l-7.5-4M671.5 408.5l8.9-4.6 2 0.2 1.4-0.8 2.2-9.4 1.3-0.7 8.4-0.7 0.7-0.8 -0.4-4.2 -0.8-2.1 1.9-7 3.1-1.3 2.7-3.9M696 387.5l7.6-5.3 4.2 2 4.7-3.3M703.6 382.2l-3.4-5.1M715.8 397.3l-2.2 3.1 -5 0.4 -4.6 4.4 -1.8-0.1 -5.1-2.7 -5.5 3.2 0.4 6.9 -2.5 3.9M692 412.5l6.6 0.2 3.6 7.1M702.2 405.1l-3.6 7.6M711.1 439.3l-6.6 1.3 -1.6 1.9 -0.4 3.9 2.4 5.2M704.5 440.6l-4.4-10M712.8 436.3l-3-8 -6-1.5M720.3 426.8l-6.8-1.5 -3.7 3M661.2 351.4l7 8.6M656.5 360.1l8.3 3.2M631 414.1l1.6 7.9M638.8 430.1l-2.4-7.8M650 428.7l-3.8-6.6M633 411.5l6.8 5.6M641.7 431.4l2.4-9.2M649 396.5l0 0.6 2.3 6.7 4.6 1.9 5.3-1.7M655.9 405.7l-2.8 6.1M638.2 407.4l3.5 7.5M649 397.1l-4.9 9.4M651.3 403.8l-5.1 4.1M648.8 419.2l-2.1-6.2M634.5 354l2.4 4.7 -1.9 4 2.2 4M635 362.7l-5.6-2.7 -1-2.8M644.5 359.3l-7.6-0.6M627.4 366.4l2-6.4M625.8 346.6l3.5 9M665.8 404.9l3.6-7 -0.9-6.7M666.6 377.5l4.4 11M512.4 396.7l-0.6 0.2 -10.5 0M511.8 396.9l-6.9 8.2M546.4 457.6l10.5 4.8 5-3.5M551.4 473.1l5.5-10.7M534 454.7l8.7 7.7M530.4 464.2l12.2-0.9M476.1 441l2.6-3 -0.1-3.7 -5.5-3.1 -3.6 1.4 -1.7-0.6M469.5 432.6l5.8 8.2M477.1 425.7l-4 5.5M480.7 428.7l-2.1 5.6M486.8 437.1l-8.1 0.9M466.8 451.2l6-1.1M723.5 418.3l-9.9 0.2 -3.3-4.1 -0.6-0.1 -7.5 5.5M713.6 400.4l4.6 7.6 -7.9 6.4M713.6 418.5l-0.1 6.8M709.7 414.3l-5.7-9.1M716.6 392.6l-10.9-2.3 -1.3 1.1 -8 0.3M708.6 400.8l-4.2-9.4M714.7 381.8l2.5 10.1M707.8 384.2l-2.1 6.1M695.7 392.5l1.4 9.9M647 319.1l1.3-9.3M645.2 298l6.3 9.5M641.7 299.7l-1.6 8M660 335.1l3.1-11 -0.9-1.1 -0.8-4.8M670.9 332l-3.1-7.7 -4.7-0.2M678.7 325.1l-9.2-2.2 -1.7 1.4M669.5 322.9l1.5-7.2M662.3 306.7l5.7 8.5M711.9 372l8.3-0.2M496.5 559.9l-5.9-0.7 -5 3 -5.4-2.3 -0.7-1.3 0.1-6.7M485.6 550.9l5 8.3M469.8 561.8l9.7-3.2M477 569.8l3.2-9.9M487 571.5l-1.4-9.3M615 578.7l-9.8 1.5 -2.3-2M219.9 470l-0.2-9.8M238.3 454.2l-7.5-0.2 -4.7-4.9 -6.4 2M230.8 454l-4.5 6.8M274.1 480.2l-6.3 6.7 -5.4 0.4 -4.2 3.6M267.8 486.9l6.6 6.4 6.3 0.3M265 497.6l6.2-1.9 3.2-2.4M262.5 475.1l-0.1 12.2M260.1 506.2l-6.7-4.1M272.5 506.2l-1.3-10.5M253.8 470.9l-4 0.8 -2.4 1.5 -2.3 8.2M251.8 484.3l4.1-11M236.6 471.1l10.8 2.1M240.3 461.3l9.5 10.4M247.3 544.3l4.3-9.3 -0.4-2 -3-3.8M251.6 535l6.2 3.1 1.5 3.2M255.7 554l-2.2-8.1M269.1 534.1l-7.1-3.9 -0.3-0.4 -1.6-7.3M262 530.2l-4.2 7.9M261.4 511.2l-4.1 9.9M261.7 529.8l-10.5 3.2M220.9 490.1l9.6 3M212.5 498.4l8.3 2.1M238 501l-8-3.7M233.9 510.4l-5.9-10M218.9 538.9l-0.4-1.6 -0.7-11.5M229.1 536.4l-0.9-11.3M226.1 523.8l-7.6 1.3M207.9 524l-0.3 7.2 10.9 6.1M196.3 524l-14 3.5 -0.3 0.8 -5.6 3.3M196.9 524.4l-8.3 11.7 -0.2 0 -3.2 5.4M182 528.3l6.4 7.8M180.8 520l1.5 7.5M193.5 510.6l5.2 0 2.7 2.5 7.2 1.9 0.8-1 7.3-1.3M198.7 510.6l5.9-6.3M206.9 505.2l2.5 8.8M197.8 524.1l3.6-11M207.2 523.4l1.4-8.4M207.6 531.2l-1.9 3 3.2 7.3M205.7 534.2l-6.5 0.1 -2.2 4.3 1.1 3.3M196.9 524.4l2.3 9.9M188.6 536.1l8.4 2.5M202.3 582l-10.8-9.3M191.1 587.8l-3.2-11.3M618.6 498.3l6.1 5.8M607.7 475.1l11.2 5.5 1.5-1.2 6.7 0.5M616.7 487l2.2-6.4M618.9 470.1l1.5 9.3M622.2 520.5l3.2 10.1M603.3 542.1l-8.1 1.8 -1.4-1.4 -3-7.2M602.3 535.8l-10-2.7M600 553.1l5.7-9.1M594.1 552.4l1.1-8.5M586.1 545.8l7.7-3.3M580.7 526.4l10.7 7.5M657.4 436.5l6.1-4.6M655.3 435.2l3.3-7.7 4.1-1M653.5 426.1l5.1 1.4M668.5 417.9l0.9 6.5M675.4 434.2l2.5-10M671.7 434.4l-2-9.8M702.5 446.4l-6.8 2.1 -4.1 3M695.7 448.5l-1.2-8.1 -0.5-0.3M702.9 442.5l-8.4-2.1M528.7 95.7l4.7 10.9 -2.1 1.7 -3 9.3M539.9 92.1l-0.8 13.7 1 0.3 10.5-3.2 6.8 3.4 6.8-3.5M539.1 105.8l-5.7 0.8M519.7 118.8l-1.5-15.1 13.1 4.6M501.4 137.5l7-4.1 5.6 2.8M504.9 123.4l3.5 10M439 118.3l-8.7 4.7M413.4 128.2l16.1-2.9M665.8 266l-4.8-7.9 -0.5-6.5M661 258.1l-8 5.4M635.7 309.2l-3.4-5.7 0.5-1.8 3.5-4.4M632.3 303.5l-7.3-0.3M632.8 301.7l-7.7-10.2M615.3 299.5l8.1-3.5M579.7 143l-2-13.8M571.8 105l5.2 7.7 2.8 1 4.2-1.7 4.9-6.5 16.7-0.1M581.9 96.5l7 9M592.3 120l-8.3-8M581.8 126.8l-2-13.1M571.3 128.3l-1.7-8.8 7.4-6.8M560 132.9l-1.4-14.8 -2.7-2.8 1.5-9M569.6 119.5l-2.8-1.4 -8.2 0M566.8 118.1l-0.3-14.3M584.6 330.4l-3 9.4 0.1 0.9M581.6 339.8l-5.9-7.1M575.7 323.4l2.4 7.3M277.7 564.2l-3.9-4.4 -5.8-1.1 -3.1-4.5M273.8 559.8l4.1-8.6M266.1 567.2l1.9-8.5M263.6 541.8l3.5 8.3M255.2 545.2l10.4 7.1M387.5 577.7l1.2 7.6M377.1 573.6l-2.7 9.5M365.3 369.3l5 0.1 1.1 1.4 -0.6 5.5 0 0 -0.4 4.6M364.2 373.8l6.6 2.5M369.3 403.1l-1.3-4.5 -4.9-5.3M368 398.6l3.3-4.1 4.3-0.1 1.5 4.1M366.5 390.9l4.8 3.6M384.1 406.1l-8.7-4M371.5 387.9l4.4 4.9 -0.3 1.6M396.4 386.6l-0.7 8.4M388.3 410.3l5.7-6.2M416.6 369.6l8-2.5M411.5 377.2l5.7-5.9M242.4 372.8l-3-2.9 1.6-8.5M230.7 369.7l8.7 0.2M250.3 439.9l-0.9-2.3 0.5-7.5M249.4 437.6l-11.1-3.5M237.7 434.7l4 9.1M243.6 419.3l-1.2 9.1M232.6 422.6l8.2 6.9M300.7 402.1l0-3.8 9-4.2 0.1-5.1M300.7 398.3l-1.2-2.7 2.7-7.6M311.5 398.4l-1.8-4.3M290.3 393.7l9.2 1.9M279.8 345.8l-4.7 3.9M285.7 348.5l-1.9 6.1M276.7 356.9l-9.8 0.1M418.5 476.2l-7.2 3.5 -1.3 6.1 -2.3 2.1M420 477.9l-3.8 8.2 2.1 4M416.2 486.1l-6.2-0.3M402.8 475.5l8.5 4.2M398.4 503.9l-1.6-9.3 -1.7-1.6M396.8 494.6l11.4-0.5M332.1 430.1l3.4-3.5 5.8-0.7M340.4 415.3l-5.3-2.8M344.8 406.9l-10.3 2.4M326.6 400.3l1.2 7.3M335.5 402.5l-2.1 5.6M326.7 426.1l-9.9-2.1M265.9 365.3l-6.7-0.8M265.7 373.8l-10.1-1M277.6 365.7l-10.2 1.3M276.2 377.4l-10-4.1M365.9 209.8l-10.3-1.6 -1.4-1.3 0.3-7.3 0.6-0.6 1.1-11.1M354.5 199.6l-10.9-3.5M367.1 198.5l-12 0.5M354.2 206.9l-9.7 2.1M331.5 188.4l12.1 3.3M368.4 214.7l-4 11.4M349.7 225.9l7.6 1.7M343.4 214.4l7.9 4.2M355.6 208.2l-1.7 9.3M366.9 212.9l-8.9 6.4M319.2 288.1l-0.7 7.1M310.5 286.1l-1.6 9.5M315 323.6l1.9-7.9M327.5 287.1l0 10.1M339.7 253.5l-0.7 7.6 -0.3 0.2 -8.2-0.6M294.7 285.2l0-8.3 -0.6-0.8 0.9-8.2M294.7 276.9l8.5-0.5 0.8 0.6 5.9 0.6 1 1.2 -0.4 7.3M303.2 276.4l-0.4-7.9M286.4 276.1l7.7 0M297.4 258.9l-2.3 8.9M301.5 286.2l2.5-9.2M319.8 287.5l-0.5-8.8 0.3-0.3 -0.2-9.1 -0.2-0.2 -5.9-0.6 -0.9 0.6 -2.5 8.5M319.3 278.7l-8.4 0.1M300.7 306.1l8.9-2.1 0.2-0.2 -1.5-7.7M309.7 313.4l-0.1-9.4M292.7 293l8.3 3.4M315.4 314l3-7.5 -1.3-2.2 2.7-7.3M317.1 304.3l-7.3-0.5M301.5 286.2l1.2 9.1M423.6 219.5l-7.9 0.5M423.2 226.6l-7.6-0.5M407.4 218.7l7.4 0.2M399 218.9l8.3-0.1M439.4 247.6l-7.7-0.1M439 254.5l-7.5 0.1M438.8 261.4l-7.7-0.5M422.9 261l-8.7 0.2M422.8 267.8l-8.3 0.3M414.2 254.1l8.4 0.3M422.9 260.9l8.1 0.1M406.3 268.1l7.9-0.4M380.6 245.6l2.8-8.4M379.8 254.2l1.1-8.2M398.1 245.9l-8.3 0.4M398 239.6l-8.2-0.3M407.2 240.5l7.6-0.1M431.4 240.7l-7.6 0.1M238.5 447.9l-9.1-5.3 -1.2 0.8 -2.1 5.7M231.9 435.4l-2.5 7.2M198.6 328.3l0.6 7.8 -1.6 1.6 -0.1 7.5M189.1 335.7l8.5 2M206.3 336.7l-7.1-0.6M207.7 338.8l-2.8 8.2M213.4 358.1l-8.9-2.1M213.7 357.9l0.7-9.2M194.7 354.7l9.6 0.9M477.9 467.9l-4-8.1M493.3 308.2l5.4 1.2 2.8 4.8 -1.4 4.3M496 300.6l6.8 4.3 4.4 0.2M498.7 309.4l4.1-4.5M518.8 309.2l-0.1 10.5M618.7 288.5l-4.8 7.3M611.6 286.9l-3.6 5.1M600.3 286.9l9-5.1M592.3 254.3l10.8-4.5 1.1-1.5 7.3-0.4 1.7-2.1 0.2-6.5 1.4-4.5M603.1 249.8l0 12.3M620.5 288.3l-2.9-13.5 -0.7-0.5M625.8 284.4l-0.3-7.5 5.3-2M617.6 274.8l7.9 2.1M632.1 249.2l-6.8-5.3 1.1-6.3M625.9 226l-2 9.8M636.7 253.6l-3.1 9M600 223.9l-13.4 0.5 -5.3 5.4M586.3 212.7l0.3 11.7M669.4 397.9l6.6 0.6 4.4 5.4M683.1 414.7l-0.7-10.6M691.6 405.6l-7.8-2.3M692 369.1l-0.4 6.1 -2.8 2 -1.3 4.5 -1.9 1.3 -5.8-0.7M685.6 383l1.7 10.2M686 393.9l-7.4-2.8 -2.4-2.7M695.2 385.4l-7.7-3.7M676 398.5l2.6-7.4M665.1 368.4l12.5 0.5 3.2-1.9 0.7-1.7M672.2 376.6l5.4-7.7M662.2 323l-11 2.1M649.5 321.8l9.3-5.9M225.7 472l10.5-2.2M224.3 470.9l3.9-7.9M239.7 532.5l-3.9-8.6M227.1 515l-9.3-1M230.7 511.5l-10.6-6.1M210.2 503.6l8 3.7M622.2 494.5l6.2 3.1 0.8 2.7M625.2 488.3l4.3 6.5 -1.1 2.8M635 490.4l-5.5 4.4M617.9 533.4l-0.9 4.9 1.9 2.6 0.2 7.3M618.9 540.9l7.4-0.2 1.2 0.3 3-1.9M634 550l-6.8-2.8 -4.5 2.4 -1.6 0.3M627.2 547.2l0.3-6.2M607.2 544.3l4.5-4.2 5.3-1.8M622.8 532.2l3.5 8.5M629.5 556.3l-6.8-6.7M543.7 123.3l2-3.7 -5.6-13.5M545.7 119.6l10.2-4.3M530.6 147.9l-9.3-0.9 -6.6 5.8M499.5 160.3l12.6-8.9M528.2 134.2l3.3-12.8M519.5 134.1l-3.3-13.3M521.3 147l-0.4-12.3M429.9 126.1l10.9 6.3 1.4 2.5M441 145.6l-0.8-6.9M441.8 119.9l-1 12.5M370.7 363.1l1.6-8.3M370.3 369.4l1.1-5.4M371.4 370.8l7-1 1.3 0.7 1-0.4 3.8-3.2M378.4 369.8l-2.9-5.7M384.1 364.5l-6-3.3M387.5 376.6l-6.8-6.5M382.8 378.7l-3.6-2.9 -0.3-0.8 0.8-4.5M370.8 376.3l8.1-1.3M374.9 383l4.3-7.2M375.9 392.8l3.5-3.1 3 0.5 2 1.2 0.3 6M378 384.3l1.4 5.4M391.5 397.5l-6.3 0.4M393.9 404.1l-8.6-0.6M423.6 373l3.6 6.3M412.3 379.6l7.6-2.1M330.5 475.1l11.4-2.4M331.7 483.3l11.2-3.5M332.9 415l-6.9-0.4M335.5 426.6l-4.5-4.8M338.6 420.2l-5.1-0.5M317.8 419.4l7.2-1.9M304 267.4l8.4 1.7M313.3 268.5l-1.5-8.7M322.6 261.3l-3.4 7.8M361.6 308l8.3 1.8M370.2 309.6l-0.5-9.6M327.7 286.9l8.5 3M329.6 261.6l1.4 7.4M338.7 261.3l-0.7 8.5M346.9 253.9l0.4 7.2 -1.5 1.2 -0.4 8.6M339 261.1l6.8 1.2M347.3 261.1l7.5 1.3M363.7 262.6l-8.3 0.6M362.4 272.4l-7.9-2.4M319.6 278.4l9.6 0M319.4 269.3l9.4 2.4M359.6 326.1l-8-0.4M351.6 319.2l9.1-2M333.3 334.7l1-7.6 -2.3-2.1M342.5 335l-1.5-8.1 0.9-1 -0.5-8.2M334.3 327.1l6.7-0.2M351.3 326.1l-9.4-0.2M415 226.8l-7.6-0.9M414.7 233.5l-7.9-0.2M423.2 233.5l-8.2-0.4M414.9 240.3l8.2-0.6M399.2 226.3l7.5 0.3M423 254l7.9-0.2M423.3 246.9l8.2 0.8M415.3 246.7l7.4 0.8M232.1 422.9l-1 11.8M467.4 459l-7.8 1.9M469.2 460.5l-0.3 5.2 -2.9 2.6 -0.8 4.7M458.1 464.6l7.9 3.7M475.8 471l-6.9-5.3M513.5 297.8l4.1 5.1 -0.9 4.3M501.5 314.2l6.9-5.4M525.7 298.6l-8.1 4.3M507.6 328.5l1.2-8M500.5 328.7l-0.2-9.9M503.1 337.4l-0.7-7.7M631.5 272.6l-9.4-7.4 -3.9 2.3M622.1 265.2l3-4.7M582.2 235.4l4.5 1.1 7 4.2 4.1-0.4 1.7-2.4 3.5-11.5M600.7 224.7l-14 11.8M613.4 239.3l-13.9-1.4M590.1 253l3.6-12.3M604.2 248.3l-6.4-8M681.3 363.8l8.5-9.9M691.1 354.6l4.6 12.3M248.9 506.1l4.4 7 -0.1 7.3M260 509l-6.7 4.1M617.8 533.2l-9.4 0.9 -2.4-1.7 -1-0.1M614.3 527.1l-8.3 5.3M611.7 540.1l-3.3-6M618 522l-3.5 5.1M382.3 382.3l1.8 1.5 -1.7 6.4M384.1 383.8l7.2 1.5M391.4 385.4l-2.1 3.3 -4.9 2.7M391.8 397.1l-2.5-8.4M333.2 500l0 0 3.3-9.1 -5.1-7.1M344.9 498.2l-0.3-6.6 -3.2-1.5 -4.9 0.8M326.5 490.4l6.7 9.6M344.8 509.6l-4.3-7.8M351.5 488.8l-6.9 2.8M343 479.9l-1.6 10.2M339.6 271.2l-3 8.2M346 271.3l-0.5 9M350.1 317.2l3-8M325.1 333.7l2-8.8M316.9 325.8l8.5-2.5M224.2 431.8l-1.1-8.6M204.7 428.7l7.8 2.7 0.2 0.4 -0.8 7.8M212.5 431.4l3.5-8.6M610.9 263.9l-5.1 11.1M680.8 367l1.3 6.5 -3.1 6.4M682.1 373.5l6.7 3.7M697.1 378.4l-5.5-3.2M222.9 432.7l-10.2-0.9M228.2 443.4l-8.2-3.4M219.4 450.8l-2.3-9.5M611.5 247.9l1 3.8 2.9 3 9.2 2.4M613.2 245.8l7.4 0.7 4.7-2.6M620.6 246.5l4.6 9.1M607 261.7l5.5-10M614.8 264.7l0.6-10M335.5 317l-9.7-1.9M318.4 306.5l8.2 1.8M326.2 298l0.6 10.1M334.9 298.1l-0.6 9.1M336.1 316.6l-1.2-8.9M338.2 288.6l6.6 1.3 0.2 0.3 -0.3 8.6M347.3 282.2l-2.5 7.7M352.5 271.7l2 9.6M363.2 290.5l-1.8 9.4M362.9 290.2l-8.2-0.3 -1 1.1 0.9 7.8M354.5 281.3l0.2 8.6M345 290.2l8.7 0.8M343.6 307.9l8.6 0.1M342.9 307.1l1.2-7.8" fill="none" stroke="#000" stroke-width="0.6" stroke-linejoin="round"/></g>
<path d="M344.7 133.8 348.8 132.6 351.2 130.3 352.9 125.6 354.7 123.2 359.4 122.1 362.9 118.5 365.3 115.0M344.7 133.8 341.8 135.0 337.1 136.2 331.2 137.9 325.3 140.9 320.6 144.4 314.7 149.7 308.8 154.4 304.1 159.1M304.1 159.1 307.6 160.3 313.5 158.5 319.4 157.4 324.1 155.6 328.8 155.6 330.6 153.8 331.8 154.4 329.4 157.9 326.5 159.7 324.7 161.5 323.5 163.2 325.3 162.6 327.6 163.8 332.4 166.8 337.1 162.6 340.6 160.9 345.3 160.3 350.0 157.9 354.7 155.0 359.4 152.1 362.9 149.7 367.6 147.9 372.4 147.7 374.1 149.1 371.2 150.3 367.6 152.6 364.7 156.8 362.4 159.7 361.2 162.1 363.5 160.3 366.5 159.1 370.0 160.3 373.5 162.1 375.9 164.4 378.2 167.4 381.8 169.7 385.3 170.9 390.0 171.5M351.8 137.4 354.1 135.0 358.2 133.2 362.4 130.9 364.1 130.9 361.8 133.2 357.6 135.6 354.1 137.9 351.8 137.4M390.0 117.9 394.7 119.1 397.1 122.1 398.8 127.9 401.2 133.8 405.3 137.4 411.2 138.5 417.1 137.9 419.2 139.1 417.6 142.1 415.9 146.2 418.2 147.9 421.2 150.3 422.9 153.2 420.8 156.2 419.4 159.7 421.8 161.5 425.3 162.1 425.9 164.4 423.5 166.8 424.1 169.7 422.4 171.5 420.0 172.6M401.8 142.9 403.5 141.8 406.5 141.8 407.6 142.9 405.9 143.9 402.9 143.9 401.8 142.9M390.0 171.5 393.5 168.9 398.2 167.6 402.9 166.8 407.6 166.8 412.4 165.8 415.3 165.6 416.5 167.4 415.3 170.3 416.5 172.1 420.0 172.6M420.0 172.6 425.3 172.3 428.6 171.7 430.6 173.8 430.0 177.4 429.4 179.5 431.8 181.5M431.8 181.5 428.8 181.8 424.1 182.6 420.8 184.4 420.0 185.6 417.1 183.2 412.4 181.5 407.6 180.6 402.9 182.1 399.4 183.8 393.5 184.4 390.0 187.4M428.6 171.7 430.6 171.2 433.5 176.2 439.4 177.4 448.8 178.5 458.2 179.1 465.3 180.9 472.4 182.6 479.4 183.8 484.1 184.4 486.5 190.3 488.8 195.0 490.0 197.4M434.7 178.5 439.4 180.3 445.3 180.9 451.2 182.6 457.1 183.8 462.9 182.6 467.1 184.4 471.2 185.6 470.0 190.3 467.1 195.6 462.9 193.2 455.9 189.1 448.8 187.0 441.8 185.4 437.1 184.2 434.1 182.1 434.7 178.5M430.6 176.2 432.9 177.4 433.5 180.3 431.2 180.9 430.6 176.2M467.6 200.3 472.4 199.5 475.3 200.6 477.1 204.4 480.6 209.1 484.1 212.6 487.6 215.0M467.6 200.3 472.4 204.4 474.7 209.1 477.1 215.0M366.2 214.1 367.6 210.8 370.2 207.6 372.9 204.1 374.1 201.8 377.1 197.6 380.0 193.5 382.4 190.0 383.5 186.5 385.3 184.7 387.1 187.3 389.1 185.3 391.2 186.8 390.0 190.0 392.9 186.5 397.1 182.9 401.8 181.8 407.6 180.6 411.2 180.0M366.2 214.1 370.0 210.0 374.1 205.3 378.2 200.6 382.4 196.5 385.1 195.1 385.3 196.5 381.8 201.2 377.6 206.5 373.5 211.2 371.2 215.3 370.0 220.0 368.2 227.1 367.6 232.9 366.5 241.2 366.2 250.6 367.1 260.0 367.6 267.1 369.4 274.1 371.2 280.0M405.9 189.4 407.6 188.5 408.5 190.6 407.1 192.7 405.5 191.8 405.9 189.4M397.6 201.8 398.8 201.2 399.4 202.6 398.2 203.3 397.6 201.8M420.6 184.7 419.4 188.2 417.1 191.2 414.5 191.8 415.3 194.7 413.5 197.6 411.2 200.6 410.0 203.5 408.8 208.2 407.6 203.5 406.8 206.8 405.9 211.2 405.1 209.4 405.3 205.3 404.7 201.2 403.5 202.9 401.8 205.3 399.4 207.6 397.1 208.8 395.3 211.8 393.5 215.3 391.2 221.2 390.6 227.1 389.4 231.8 389.4 236.5 390.6 242.4 392.4 248.2 393.5 254.1 392.9 261.2 391.8 267.1 389.4 272.9 386.5 277.1 383.5 279.4 380.6 280.6M420.6 184.7 425.3 187.1 431.2 190.0 435.9 193.5 439.4 197.6 441.8 202.4 442.9 205.9 441.2 209.4 440.6 214.1 440.0 218.8 438.2 223.5 437.1 228.2 434.1 231.8 432.9 234.1M441.8 200.0 442.4 204.7 441.8 211.8 441.2 217.6 438.8 223.5 437.1 227.1 433.5 229.4 431.8 234.1 433.5 237.1 436.5 235.3 439.4 231.8 442.9 228.8 447.6 227.6 451.8 228.8 454.1 234.1 455.3 240.0 456.5 245.9 457.3 251.2 456.5 255.3 455.3 258.8 452.9 260.0 450.0 261.2 449.4 265.9 449.4 267.6 447.1 270.6 445.3 273.5 444.7 276.5 442.4 280.0M452.9 260.0 455.3 261.2 457.1 264.1 455.3 267.1 451.8 267.6 449.4 265.9M474.7 214.1 471.2 220.0 468.8 227.1 468.2 234.1 468.6 241.2 467.1 245.3 462.9 248.8 459.4 250.8 457.3 251.2M467.6 201.2 473.5 202.4 475.9 207.1 479.4 208.2 481.8 212.9 485.3 211.2 488.8 213.5 495.3 216.5 495.9 211.8 492.4 208.8 495.9 208.2 499.4 210.6 498.2 205.9 493.5 200.0M474.7 214.1 477.1 210.6 475.9 207.1M442.4 280.0 441.2 281.2 444.1 284.7 447.6 287.1 449.4 286.5 453.5 287.6 458.2 287.1 464.1 284.7 468.8 282.4 474.7 280.6 479.4 278.8 484.1 276.5 488.8 274.7 493.5 272.4 498.2 270.0 502.9 267.1 507.6 263.5 512.4 259.4 515.9 255.3M442.4 280.0 444.7 277.1 451.2 275.3 457.1 272.9 461.8 269.4 466.5 267.1 470.0 263.5 474.7 260.6 480.6 259.4 486.5 260.0 491.2 260.6 497.1 261.2 493.5 257.6 499.4 255.3 505.3 254.1 511.2 253.5 515.9 254.7M515.9 255.1 514.1 250.6 512.9 246.1M512.9 246.1 517.1 243.5 522.9 241.8 530.0 240.6M512.9 246.1 511.2 245.3 505.3 245.3 500.6 243.5 502.9 238.8 507.6 234.1 514.7 230.6 522.9 228.2 530.0 227.3M530.0 240.6 539.4 242.4 548.8 241.2 554.7 237.6 558.2 234.1 559.4 228.2 557.1 223.5 560.6 218.8M530.0 227.3 537.1 225.3 544.1 226.6 545.9 224.1 548.8 221.8 551.2 220.2 554.1 220.6 555.9 217.9 560.6 218.8M560.6 218.8 565.3 214.1 572.4 207.1 578.2 200.6 580.6 199.6M632.0 152.0 637.0 147.0 642.0 139.0 646.0 130.0 649.0 122.0 652.0 115.0M659.0 115.0 655.0 123.0 651.0 132.0 646.0 141.0 641.0 148.0 636.0 152.0 632.6 153.0 632.0 152.0M703.4 191.0 697.0 195.0 691.0 197.0 685.0 200.0M603.0 196.6 602.2 205.0 603.0 214.0M685.3 202.4 680.6 204.7 677.1 207.1 673.5 210.6 670.0 212.9 666.5 215.3 662.9 217.6 659.4 219.4 657.6 222.4 657.1 225.3 655.3 228.2 653.5 231.2 651.8 234.1 650.6 237.6 651.2 240.6 652.4 244.1 654.1 245.3 651.8 247.1 650.0 250.6 648.8 253.5 651.2 255.3 654.1 257.6 655.9 260.6 657.1 263.5 659.4 265.3 662.9 264.5 666.5 263.5 667.1 262.4 666.5 260.6 664.7 258.8 662.4 258.2 662.9 257.3 665.3 257.1 667.6 258.2 668.8 260.6 669.4 262.9 668.6 265.9 665.3 267.6 661.8 269.4 658.2 271.2 655.9 272.9 653.5 274.7 651.2 272.9 648.8 273.5 645.3 275.3 641.8 276.5 638.2 278.2 633.5 280.0 627.6 282.4 621.8 284.1 615.9 285.9 610.0 287.6M655.3 273.5 657.1 272.7 659.2 273.9 657.6 275.3 655.6 274.8 655.3 273.5M665.3 273.9 667.6 272.7 670.0 273.9 668.2 275.5 665.9 275.1 665.3 273.9M642.4 280.0 643.5 279.8 643.5 281.2 642.5 281.2 642.4 280.0M645.1 267.6 646.5 267.1 647.1 269.4 645.9 271.2 644.8 270.0 645.1 267.6M603.5 289.4 603.8 292.9 602.9 296.5M610.0 287.1 607.1 288.2 605.3 290.8 604.0 293.9 602.9 296.7 601.2 299.4 599.8 301.4 601.4 301.2M601.4 301.2 602.9 305.9 604.1 310.6 603.8 315.3 602.6 320.0 601.2 323.5 599.4 327.1 597.1 330.0 594.7 332.9 592.4 335.9 590.6 338.2M605.3 293.9 610.6 291.8 615.9 289.4 621.8 287.1 627.6 284.9 633.5 283.3 638.2 282.1 635.3 283.8 631.8 285.3 635.3 285.1 639.4 283.8 635.3 286.5 630.6 288.8 625.9 291.2 621.2 292.9 616.5 294.7 611.8 296.2 607.1 297.6 603.5 298.6 601.8 298.2 602.9 295.9 605.3 293.9M591.8 336.8 588.2 333.5 583.5 330.9 580.4 327.6 578.8 323.5 578.0 320.0M576.5 320.6 577.1 324.1 578.8 328.8 582.4 332.4 586.5 335.3 590.6 338.8M590.6 338.8 589.1 344.1 588.2 350.0 587.1 354.7 585.3 359.4 582.9 363.5 581.2 367.6 579.4 372.4 577.6 377.1 576.1 380.8 575.3 381.2M575.3 381.2 574.5 377.1 575.6 371.8 577.3 367.1 578.5 362.4 576.5 360.4 573.3 361.3 572.6 357.1 570.6 353.8 568.2 350.6 568.8 345.3 566.7 341.8 565.3 337.1 564.1 333.5 566.5 330.0 568.8 327.6 571.4 325.1 573.8 321.8M573.8 321.8 570.0 324.1 566.5 327.6 562.9 331.2 560.8 334.7 561.8 339.4 563.5 344.1 562.4 347.6 564.1 351.2 566.5 354.7 568.8 358.2 570.0 361.8 569.4 366.5 567.6 371.2 570.0 374.7 568.8 378.2 570.6 381.8 570.0 385.3 574.1 385.3 575.9 387.6 576.5 393.8M569.4 368.8 565.3 365.3 560.6 361.8 557.1 359.4M569.4 378.8 565.3 375.3 561.8 372.4M570.6 385.3 566.5 382.9 562.9 380.6 559.4 379.4M575.3 383.8 577.6 389.7 580.0 395.6 582.9 401.5 585.9 407.4 587.6 413.2 588.0 419.1 587.1 422.6 583.5 424.4 578.8 426.8 575.3 429.7 572.4 433.2 570.6 437.4 569.4 439.1 567.1 437.4 563.5 437.9 560.0 439.7 555.3 442.6 551.2 446.2 547.6 449.7 545.3 453.2 544.1 456.8 541.2 457.4 536.5 457.9 531.8 459.1 528.2 461.5 524.7 465.0 522.4 469.1 520.9 473.2M575.9 393.8 571.8 397.9 567.1 399.1 562.9 401.5 562.4 405.0 567.1 406.8 572.9 406.2 578.8 406.8 581.2 409.7 580.6 414.4 577.6 419.1 572.9 420.9 569.4 419.1 564.7 419.1 558.8 419.7 563.5 422.6 567.1 423.8 564.7 426.8 560.0 428.5 563.5 430.9 568.2 432.1 570.6 435.6M520.0 472.4 516.0 479.0 510.0 484.4 504.0 488.4 498.0 492.0 494.0 494.0 490.0 498.0 487.0 502.0 484.0 508.0 481.0 516.0 479.0 524.0 478.0 531.0 479.0 538.0 481.0 546.0 484.0 556.0 487.0 564.0 489.0 570.4M444.0 570.4 442.0 566.0 439.0 560.0 435.0 554.0 430.0 549.0 424.0 548.0 420.0 550.0 414.0 554.0 407.0 557.0 401.0 556.0 399.0 552.0 395.0 546.0 390.0 542.0 384.0 538.0 376.0 537.0 368.0 536.0 360.0 538.0M364.1 536.5 359.4 537.1 357.6 537.6 355.9 538.2 351.2 538.8 350.6 537.6 350.0 532.9 348.2 530.0 346.5 532.9 347.1 537.6 342.9 538.2 339.6 538.2 334.7 537.6 330.0 535.9 324.1 536.5 319.4 537.6 315.3 538.8 317.1 541.2 322.4 543.5 321.8 547.1 318.2 549.4 314.1 550.6 311.2 552.9 313.5 553.5 317.1 555.3 320.6 558.8 324.1 561.2 325.3 564.1 322.9 565.3 320.6 567.1 318.2 567.6 314.7 564.7 310.0 561.2 308.8 558.2 306.5 557.6 304.1 561.2 300.6 562.4 297.1 561.2 293.5 562.4 288.8 563.5 284.1 561.2 280.6 556.5 277.1 552.9 273.5 549.4 270.0 548.2M328.8 544.1 330.6 547.1 329.4 550.6 327.6 552.9M299.4 537.1 302.4 534.7 305.9 535.3 308.8 537.6 310.6 540.0 307.6 541.8 303.5 541.8 300.6 540.0 299.4 537.1M296.5 536.5 298.2 536.2 298.9 537.9 297.6 538.8 296.4 538.1 296.5 536.5M272.1 548.2 267.4 549.4 261.5 550.6 255.6 549.4 250.9 547.1 246.2 544.1 240.3 541.8 234.4 541.8 229.1 542.4 225.0 542.4 219.1 543.5 213.2 545.3 208.5 547.6 203.8 551.2 200.3 554.1 196.8 557.1 191.5 560.0M205.6 538.8 207.9 541.2 210.3 538.2 213.2 538.2 212.1 541.8 210.3 544.7 208.5 547.6" fill="none" stroke="#000" stroke-width="1.45" stroke-linejoin="round" stroke-linecap="round"/>
<path d="M232.0 115.0 232.6 135.0 233.2 151.0 232.6 167.4 228.0 174.0 230.0 177.0 229.0 181.0 231.0 184.0 230.0 195.0 228.0 211.0 226.6 224.0 223.0 227.0 222.0 235.0 220.0 241.0 222.0 251.0 225.0 259.0 226.0 271.0 227.0 285.0M190.0 161.0 232.0 168.0M226.6 224.0 311.0 234.0M190.0 231.6 198.0 235.0 205.0 236.0 210.0 238.0 216.0 242.0 220.0 242.0M305.0 159.0 302.0 165.0 301.0 173.0 294.0 177.0 289.6 182.0 290.0 191.0 289.0 201.0 292.0 207.0 298.0 213.0 304.0 221.0 310.0 227.0 311.6 234.0 313.0 243.0 312.0 249.0 318.0 255.0 323.0 261.0 326.0 269.0 324.0 277.0 318.0 281.0 310.0 282.0 310.0 285.0M320.0 257.4 360.0 260.0M293.5 115.0 297.1 118.5 302.9 119.1 305.3 123.2 311.2 123.8 315.3 127.9 319.4 129.7 324.1 127.9 328.8 129.7 333.5 129.7 339.4 131.5 342.9 133.8 344.7 133.8M332.4 166.8 337.1 170.3 342.9 173.8 348.8 176.8 355.9 180.3 362.9 183.2 366.5 185.6 370.0 188.5 371.2 191.5 370.6 193.8 371.8 196.2 372.4 199.7 372.9 201.5M362.9 183.2 366.5 185.5 370.0 188.5 371.2 191.5 370.6 193.8 371.8 196.2 372.4 199.6 373.5 201.8M350.0 260.0 366.5 261.2M500.0 269.4 500.0 272.9 530.0 272.9M490.0 275.1 490.0 300.0M430.0 281.2 441.2 281.2M190.0 299.0 235.0 304.4M228.0 291.4 298.0 299.4M226.0 285.0 228.0 291.0 233.0 301.0 239.0 309.0 236.0 315.0 240.0 320.0 243.0 326.0M243.0 326.0 237.0 386.0 235.0 405.0 231.0 437.0 229.0 455.0M190.0 368.0 238.2 374.0M237.0 386.0 318.0 397.0 315.0 401.0 313.0 406.0 322.0 407.0M310.0 285.0 309.0 293.0 304.0 299.0 300.0 305.0 302.0 311.0 306.0 319.0 310.0 329.0 313.0 338.0 318.0 340.0 320.0 344.0 317.0 349.0 318.0 357.0 323.0 363.0 328.0 369.0 331.0 377.0 334.0 383.0 335.0 385.0 331.0 391.0 328.0 397.0 323.0 405.0 320.0 413.0 318.0 421.0 314.0 429.0 308.0 435.0 304.0 443.0 299.0 449.0 294.0 455.0M335.0 385.0 338.0 381.0 342.0 379.0 348.0 383.0 350.0 378.0 354.0 373.0 356.4 366.0 360.0 365.0M356.4 366.0 359.0 361.0 360.0 357.4M330.0 394.0 360.0 396.0M313.0 428.6 360.0 432.6M351.0 432.6 348.0 455.0M190.0 444.0 196.0 443.0 204.0 443.0 210.0 441.0 216.0 445.0 222.0 447.0 229.0 451.0M369.0 279.0 369.0 331.0 366.0 341.0 365.0 349.0 362.0 356.0 360.0 358.0M360.0 365.0 364.0 367.0 369.0 364.0 373.0 367.0 379.0 364.0 382.0 366.0 386.0 362.0 392.0 364.0 397.0 361.0 403.0 355.0 406.0 349.0 414.0 346.0 416.0 341.0 420.0 342.0 424.0 344.0 429.0 349.0 436.0 350.0 442.0 351.0 448.0 350.0 453.0 354.0 456.0 356.6 460.0 353.0 463.0 345.0 469.0 341.0 472.0 335.0 478.0 333.0 482.0 330.0 486.0 323.0 488.0 315.0 488.0 305.0 489.6 297.0 491.0 293.0M383.0 278.9 400.3 279.6 417.2 280.0M417.1 281.4 440.3 281.1M417.1 281.4 416.7 308.8 415.7 340.7M490.0 275.0 491.0 293.0 491.0 325.0M491.0 325.0 530.0 326.0M510.0 326.0 510.0 335.0 518.0 331.4 526.0 328.6 530.0 326.6M456.0 356.6 458.0 365.0 462.0 371.0 467.0 377.0 470.0 381.4M470.0 381.4 466.0 378.6 456.0 385.0 448.0 393.0 440.0 397.0 434.0 398.0M470.0 381.4 478.0 382.0 484.0 379.0 492.0 377.0 498.0 374.0 500.0 369.0 504.0 361.0 508.0 353.0 512.0 351.0 516.0 347.0 520.0 343.0 526.0 339.0 530.0 333.0M360.0 394.6 434.0 398.0 472.0 398.6 530.0 397.4M472.0 398.6 470.0 403.0 464.0 407.0 458.0 413.0 452.0 415.0 446.0 419.0 440.0 423.0 432.0 425.0 426.0 429.0 424.0 434.0M360.0 432.0 400.0 434.0 424.0 434.0 443.0 434.6M443.0 434.6 460.0 431.6 480.0 431.0 484.0 433.0 486.4 437.0 489.4 437.4 509.2 437.4 531.2 458.0M443.0 434.6 442.0 439.0 446.0 443.0 450.0 449.0 454.0 455.0M400.0 434.0 403.0 455.0M229.0 450.0 236.0 454.0 235.6 466.0 233.0 488.0 236.4 496.0M190.0 444.0 198.0 443.0 206.0 441.0 214.0 443.0 222.0 448.0 229.0 451.0 236.0 454.0M235.6 466.0 290.0 472.4M293.0 456.0 291.0 464.0 292.0 472.0 290.0 480.0 291.0 488.0 288.0 496.0 283.0 502.0 279.0 509.0 278.0 518.0M278.0 518.0 313.0 521.0 313.0 530.0 315.0 538.0 318.0 542.0M351.0 432.0 348.0 460.0 344.0 490.0 341.0 520.0 340.0 538.0M454.0 455.0 460.0 464.0 466.0 471.0 472.0 478.0 477.0 484.0 480.0 492.0 485.0 500.0 487.0 502.4M403.0 455.0 405.0 476.0 408.0 494.0 406.4 504.0 406.0 514.0 408.0 524.0 411.0 531.0M354.0 523.4 360.0 524.0 410.0 530.0M411.0 531.4 464.0 536.6 465.0 540.0 468.0 532.0 478.0 531.4M500.4 115.0 500.8 147.9 501.8 151.5 505.3 159.7 510.0 166.8 514.7 172.6 521.8 175.0 530.0 176.2 535.9 179.1 540.6 183.2 544.7 182.6 546.5 185.6 550.0 189.1 554.1 191.5 557.1 189.7 561.8 192.6 566.5 189.7 572.4 186.8 577.1 185.4 584.1 185.6 585.1 189.1 584.1 192.6 586.7 195.0 584.1 198.5 580.6 199.7M580.6 199.6 603.0 197.0 632.0 194.0M632.0 194.0 634.0 188.0 637.0 187.0 642.0 181.0 645.0 175.0 648.0 168.0 649.0 161.0 651.0 154.0 655.0 145.0 659.0 137.0 661.0 134.0 664.0 135.0 666.0 138.0 671.0 136.0 677.0 133.4 684.0 139.0 686.0 147.0 688.0 155.0 691.0 165.0 693.0 173.0 697.0 178.0 699.0 183.0 703.4 186.0M666.0 138.0 671.0 131.0 672.0 123.0 677.0 120.0 685.0 118.0 693.0 115.0M637.0 187.0 640.0 199.0M632.0 194.0 631.0 201.0M604.0 196.0 603.0 205.0 604.0 215.0 606.0 227.0 608.0 235.0 608.6 240.0M641.2 196.5 643.5 211.8 645.3 221.2 647.6 230.6 650.0 238.8M633.5 200.0 632.9 204.7 627.6 209.4 625.3 214.1 624.7 221.2 623.5 228.2 622.4 235.3 621.8 242.4 621.8 247.1M607.6 248.2 621.8 247.1 641.8 245.3 647.6 242.9 650.6 239.4M610.0 264.1 627.6 262.6 642.4 261.4 642.9 265.9 645.3 268.2 647.1 270.6M637.1 261.8 637.6 270.6 638.0 277.1M609.4 224.7 609.4 240.0 609.2 263.5 608.2 278.8 607.6 284.7 606.8 287.6M607.6 248.6 609.4 248.5 610.6 248.4M608.8 264.7 625.9 262.9M500.0 273.0 530.0 273.0 560.0 270.0M560.0 270.0 576.5 269.2 579.4 272.4 581.8 275.3 583.5 278.8 587.6 282.1 586.5 285.9 584.1 289.4 582.9 292.9 584.7 296.5 585.3 300.0 587.6 303.5 590.0 307.1 591.2 310.6 588.8 312.9 585.3 316.5 581.8 318.8 578.8 320.0 577.6 323.5M587.6 282.1 594.1 285.3 600.0 287.6 603.5 289.4M530.0 326.7 534.1 330.6 538.2 327.6 539.6 330.2 542.4 334.1 545.3 338.2 550.6 340.6 554.7 342.0 552.4 345.3 550.0 348.8 551.8 352.4 555.9 354.7 560.6 357.1 565.3 359.4 568.8 362.7M530.0 325.1 574.7 321.2M574.7 321.2 575.3 333.5 577.1 350.0 587.6 350.6M530.0 332.9 537.1 335.3 541.8 334.1M520.0 396.8 575.9 393.5M313.5 521.2 312.4 525.9 312.9 530.6 314.7 535.3 315.3 538.8M357.1 524.1 370.0 524.9M357.1 524.1 357.6 529.4 358.8 534.1 359.4 537.1M232.6 480.0 233.2 487.1 235.6 494.1 237.9 501.2 239.7 508.2 239.1 515.3 235.6 521.2 233.8 527.1 233.2 532.9 231.5 537.6 229.1 542.4" fill="none" stroke="#000" stroke-width="1.5" stroke-linejoin="round" stroke-linecap="round"/>
</g>
<rect x="192.1" y="116.6" width="510.6" height="452.6" fill="none" stroke="#000" stroke-width="1.1"/>
<!--/MAP-->
<g id="ticks">
<text x="173.4" y="163.7" font-size="11.65" text-anchor="end">46°N</text>
<text x="173.4" y="210.4" font-size="11.65" text-anchor="end">44°N</text>
<text x="173.4" y="256.8" font-size="11.65" text-anchor="end">42°N</text>
<text x="173.4" y="303.2" font-size="11.65" text-anchor="end">40°N</text>
<text x="173.4" y="349.6" font-size="11.65" text-anchor="end">38°N</text>
<text x="173.4" y="396.0" font-size="11.65" text-anchor="end">36°N</text>
<text x="173.4" y="442.2" font-size="11.65" text-anchor="end">34°N</text>
<text x="173.4" y="488.3" font-size="11.65" text-anchor="end">32°N</text>
<text x="173.4" y="534.4" font-size="11.65" text-anchor="end">30°N</text>
<text x="202.4" y="597.7" font-size="11.65" text-anchor="middle">95°W</text>
<text x="305.0" y="597.7" font-size="11.65" text-anchor="middle">90°W</text>
<text x="406.6" y="597.7" font-size="11.65" text-anchor="middle">85°W</text>
<text x="508.6" y="597.7" font-size="11.65" text-anchor="middle">80°W</text>
<text x="610.3" y="597.7" font-size="11.65" text-anchor="middle">75°W</text>
<path d="M181 159.7H192M181 206.4H192M181 252.8H192M181 299.2H192M181 345.6H192M181 392.0H192M181 438.2H192M181 484.3H192M181 530.4H192M202.4 569V580.6M305.0 569V580.6M406.6 569V580.6M508.6 569V580.6M610.3 569V580.6" stroke="#000" stroke-width="1" fill="none"/>
</g>
<g id="cbar">
<rect x="228.3" y="633.4" width="73" height="17.6" fill="#fff"/>
<rect x="301.3" y="633.4" width="73" height="17.6" fill="#a9a9a9"/>
<rect x="374.3" y="633.4" width="73" height="17.6" fill="#ffaaaa"/>
<rect x="447.3" y="633.4" width="73" height="17.6" fill="#ffddaa"/>
<rect x="520.3" y="633.4" width="73" height="17.6" fill="#ffffaa"/>
<rect x="593.3" y="633.4" width="73" height="17.6" fill="#aaffaa"/>
<rect x="228.3" y="633.4" width="438" height="17.6" fill="none" stroke="#000" stroke-width="0.5"/>
<path d="M301.3 633.4v17.6M374.3 633.4v17.6M447.3 633.4v17.6M520.3 633.4v17.6M593.3 633.4v17.6" stroke="#000" stroke-width="0.7" fill="none"/>
<text id="t5" x="447.8" y="627" font-size="12.33" text-anchor="middle" xml:space="preserve">Ventilation Index  (knt ft / 1000)</text>
<text x="301.3" y="673.6" font-size="11.65" text-anchor="middle">0</text>
<text x="374.3" y="673.6" font-size="11.65" text-anchor="middle">40</text>
<text x="447.3" y="673.6" font-size="11.65" text-anchor="middle">60</text>
<text x="520.3" y="673.6" font-size="11.65" text-anchor="middle">100</text>
<text x="593.3" y="673.6" font-size="11.65" text-anchor="middle">150</text>
</g>
<text id="t6" x="193.8" y="826" font-size="10.5">OUTPUT FROM WRF V4.6.1 MODEL</text>
<text id="t7" x="193.8" y="837.9" font-size="10.5">WE = 310 ; SN = 275 ; Levels = 38 ; Dis = 8km ; Phys Opt = 8 ; PBL Opt = 1 ; Cu Opt = 3</text>
</svg>
</body></html>
